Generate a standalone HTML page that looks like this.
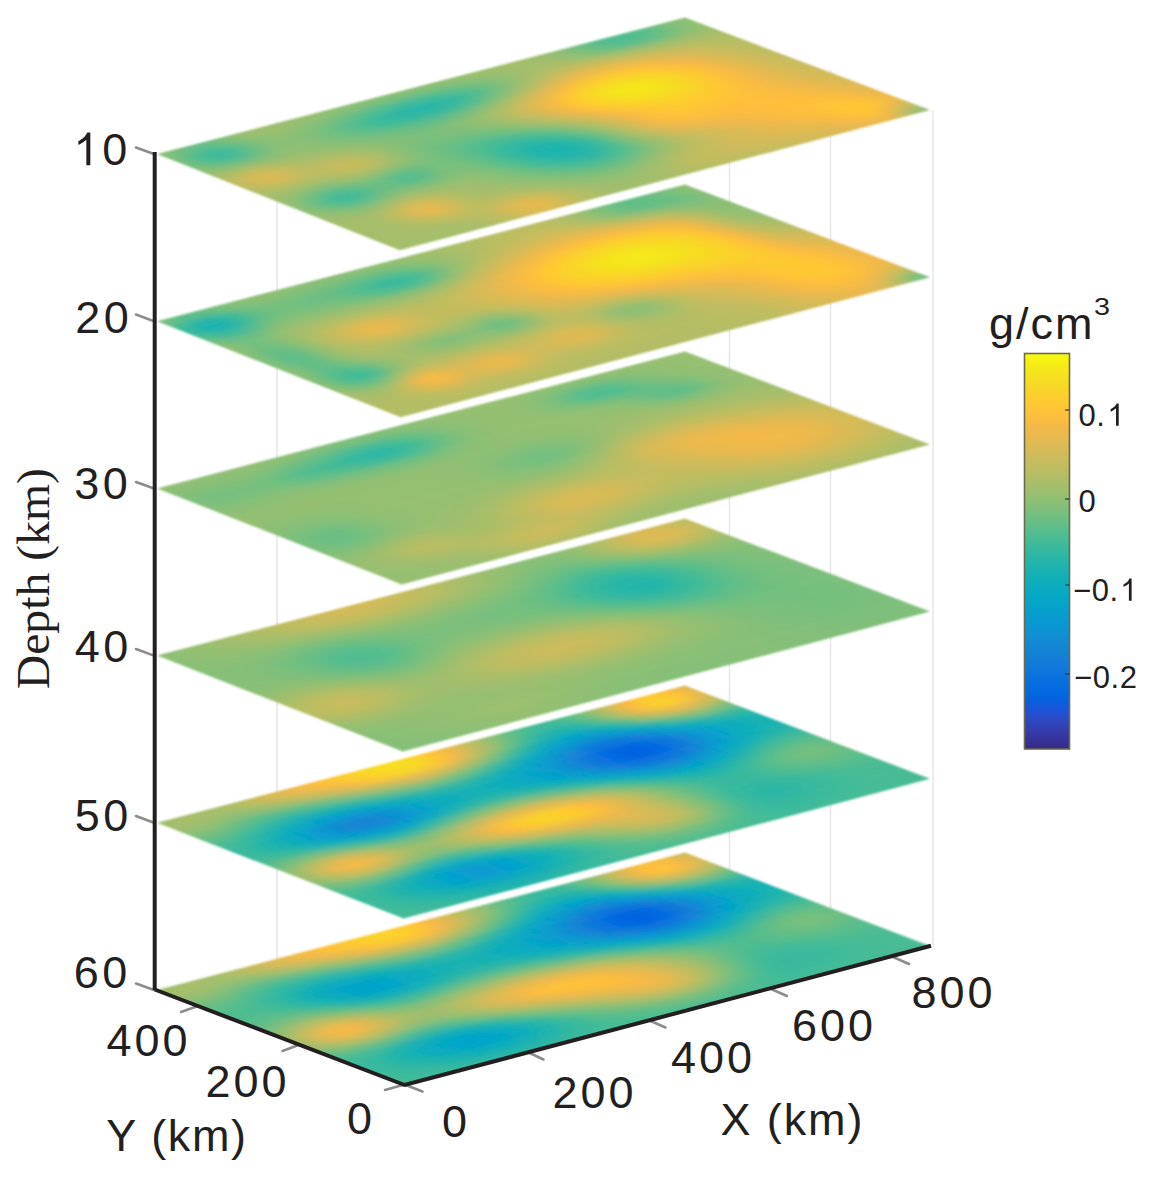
<!DOCTYPE html>
<html><head><meta charset="utf-8">
<style>
html,body{margin:0;padding:0;background:#fff;}
body{width:1149px;height:1177px;overflow:hidden;}
svg{display:block;}
.t{font-family:"Liberation Sans",sans-serif;fill:#231f20;}
.s{font-family:"Liberation Serif",serif;fill:#231f20;}
</style></head><body>
<svg width="1149" height="1177" viewBox="0 0 1149 1177">
<defs>
<filter id="eb" x="-2%" y="-5%" width="104%" height="110%"><feGaussianBlur stdDeviation="1.0"/></filter>
<filter id="vb" x="-5%" y="-5%" width="110%" height="110%"><feGaussianBlur stdDeviation="1.5 5"/></filter>
<linearGradient id="cb" x1="0" x2="0" y1="0" y2="1"><stop offset="0.000" stop-color="#f9fb0e"/><stop offset="0.025" stop-color="#f5ee16"/><stop offset="0.050" stop-color="#f5e31e"/><stop offset="0.075" stop-color="#f7da24"/><stop offset="0.100" stop-color="#fad12b"/><stop offset="0.125" stop-color="#fec932"/><stop offset="0.150" stop-color="#fec13a"/><stop offset="0.175" stop-color="#f8ba44"/><stop offset="0.200" stop-color="#ecb94c"/><stop offset="0.225" stop-color="#e0ba53"/><stop offset="0.250" stop-color="#d3bb58"/><stop offset="0.275" stop-color="#c6bc5e"/><stop offset="0.300" stop-color="#b8bd63"/><stop offset="0.325" stop-color="#aabe69"/><stop offset="0.350" stop-color="#9bbf6f"/><stop offset="0.375" stop-color="#8bbf75"/><stop offset="0.400" stop-color="#7abf7c"/><stop offset="0.425" stop-color="#67be85"/><stop offset="0.450" stop-color="#55bd8e"/><stop offset="0.475" stop-color="#43bb97"/><stop offset="0.500" stop-color="#33b8a1"/><stop offset="0.525" stop-color="#24b5aa"/><stop offset="0.550" stop-color="#18b1b2"/><stop offset="0.575" stop-color="#0eaeba"/><stop offset="0.600" stop-color="#07aac1"/><stop offset="0.625" stop-color="#06a6c7"/><stop offset="0.650" stop-color="#06a0cd"/><stop offset="0.675" stop-color="#089ad0"/><stop offset="0.700" stop-color="#0d93d2"/><stop offset="0.725" stop-color="#128bd3"/><stop offset="0.750" stop-color="#1484d4"/><stop offset="0.775" stop-color="#137dd8"/><stop offset="0.800" stop-color="#0f77db"/><stop offset="0.825" stop-color="#0871de"/><stop offset="0.850" stop-color="#036ae1"/><stop offset="0.875" stop-color="#0462e0"/><stop offset="0.900" stop-color="#1b55d7"/><stop offset="0.925" stop-color="#2d49c3"/><stop offset="0.950" stop-color="#353eaf"/><stop offset="0.975" stop-color="#36349b"/><stop offset="1.000" stop-color="#352a87"/></linearGradient>
</defs>
<rect width="1149" height="1177" fill="#fff"/>
<line x1="277" y1="122" x2="277" y2="959" stroke="#e6e6e6" stroke-width="1.5"/><line x1="729.5" y1="38" x2="729.5" y2="870" stroke="#e6e6e6" stroke-width="1.5"/><line x1="830.5" y1="70" x2="830.5" y2="908" stroke="#e6e6e6" stroke-width="1.5"/><line x1="933" y1="110" x2="933" y2="946" stroke="#e6e6e6" stroke-width="1.5"/>
<clipPath id="cs0"><polygon points="399.7,250.2 930.0,110.0 685.0,17.5 157.0,154.0"/></clipPath>
<defs><linearGradient id="s0g0" x1="0" x2="1" y1="0" y2="0"><stop offset=".012" stop-color="#a6be6a"/><stop offset=".037" stop-color="#a6be6a"/><stop offset=".062" stop-color="#a6be6a"/><stop offset=".087" stop-color="#a6be6a"/><stop offset=".112" stop-color="#a6be6a"/><stop offset=".138" stop-color="#a6be6a"/><stop offset=".162" stop-color="#a6be6a"/><stop offset=".188" stop-color="#a8be6a"/><stop offset=".212" stop-color="#adbe68"/><stop offset=".237" stop-color="#b7bd64"/><stop offset=".262" stop-color="#c5bc5e"/><stop offset=".287" stop-color="#d0bb59"/><stop offset=".312" stop-color="#d1bb59"/><stop offset=".337" stop-color="#c6bc5d"/><stop offset=".362" stop-color="#b7bd64"/><stop offset=".388" stop-color="#abbe68"/><stop offset=".413" stop-color="#a5be6b"/><stop offset=".438" stop-color="#a3be6c"/><stop offset=".462" stop-color="#a3be6c"/><stop offset=".487" stop-color="#a4be6b"/><stop offset=".512" stop-color="#a8be6a"/><stop offset=".537" stop-color="#acbe68"/><stop offset=".562" stop-color="#b1bd66"/><stop offset=".588" stop-color="#b5bd64"/><stop offset=".613" stop-color="#b8bd63"/><stop offset=".637" stop-color="#bbbd62"/><stop offset=".662" stop-color="#bdbd61"/><stop offset=".688" stop-color="#bfbc60"/><stop offset=".713" stop-color="#c3bc5f"/><stop offset=".737" stop-color="#c7bc5d"/><stop offset=".762" stop-color="#cbbb5b"/><stop offset=".787" stop-color="#d0bb5a"/><stop offset=".812" stop-color="#d5ba57"/><stop offset=".838" stop-color="#ddba54"/><stop offset=".863" stop-color="#e5b950"/><stop offset=".887" stop-color="#e0ba52"/><stop offset=".912" stop-color="#c3bc5f"/><stop offset=".938" stop-color="#94bf72"/><stop offset=".962" stop-color="#82bf79"/><stop offset=".988" stop-color="#82bf79"/></linearGradient><linearGradient id="s0g1" x1="0" x2="1" y1="0" y2="0"><stop offset=".012" stop-color="#a6be6a"/><stop offset=".037" stop-color="#a6be6a"/><stop offset=".062" stop-color="#a6be6a"/><stop offset=".087" stop-color="#a6be6a"/><stop offset=".112" stop-color="#a6be6a"/><stop offset=".138" stop-color="#a6be6a"/><stop offset=".162" stop-color="#a6be6a"/><stop offset=".188" stop-color="#a8be6a"/><stop offset=".212" stop-color="#adbe68"/><stop offset=".237" stop-color="#b7bd64"/><stop offset=".262" stop-color="#c5bc5e"/><stop offset=".287" stop-color="#d0bb59"/><stop offset=".312" stop-color="#d1bb59"/><stop offset=".337" stop-color="#c6bc5d"/><stop offset=".362" stop-color="#b7bd64"/><stop offset=".388" stop-color="#abbe68"/><stop offset=".413" stop-color="#a5be6b"/><stop offset=".438" stop-color="#a3be6c"/><stop offset=".462" stop-color="#a3be6c"/><stop offset=".487" stop-color="#a4be6b"/><stop offset=".512" stop-color="#a8be6a"/><stop offset=".537" stop-color="#acbe68"/><stop offset=".562" stop-color="#b1bd66"/><stop offset=".588" stop-color="#b5bd64"/><stop offset=".613" stop-color="#b8bd63"/><stop offset=".637" stop-color="#bbbd62"/><stop offset=".662" stop-color="#bdbd61"/><stop offset=".688" stop-color="#bfbc60"/><stop offset=".713" stop-color="#c3bc5f"/><stop offset=".737" stop-color="#c7bc5d"/><stop offset=".762" stop-color="#cbbb5b"/><stop offset=".787" stop-color="#d0bb5a"/><stop offset=".812" stop-color="#d5ba57"/><stop offset=".838" stop-color="#ddba54"/><stop offset=".863" stop-color="#e5b950"/><stop offset=".887" stop-color="#e0ba52"/><stop offset=".912" stop-color="#c3bc5f"/><stop offset=".938" stop-color="#94bf72"/><stop offset=".962" stop-color="#82bf79"/><stop offset=".988" stop-color="#82bf79"/></linearGradient><linearGradient id="s0g2" x1="0" x2="1" y1="0" y2="0"><stop offset=".012" stop-color="#a6be6a"/><stop offset=".037" stop-color="#a6be6a"/><stop offset=".062" stop-color="#a6be6a"/><stop offset=".087" stop-color="#a6be6a"/><stop offset=".112" stop-color="#a6be6a"/><stop offset=".138" stop-color="#a6be6a"/><stop offset=".162" stop-color="#a7be6a"/><stop offset=".188" stop-color="#a9be69"/><stop offset=".212" stop-color="#b0bd67"/><stop offset=".237" stop-color="#bebc61"/><stop offset=".262" stop-color="#d1bb59"/><stop offset=".287" stop-color="#e1b952"/><stop offset=".312" stop-color="#e2b951"/><stop offset=".337" stop-color="#d3bb58"/><stop offset=".362" stop-color="#bebc61"/><stop offset=".388" stop-color="#aebe67"/><stop offset=".413" stop-color="#a4be6b"/><stop offset=".438" stop-color="#a1be6c"/><stop offset=".462" stop-color="#a1be6c"/><stop offset=".487" stop-color="#a3be6b"/><stop offset=".512" stop-color="#a8be69"/><stop offset=".537" stop-color="#afbe67"/><stop offset=".562" stop-color="#b6bd64"/><stop offset=".588" stop-color="#bbbd62"/><stop offset=".613" stop-color="#bfbc60"/><stop offset=".637" stop-color="#c1bc60"/><stop offset=".662" stop-color="#c3bc5f"/><stop offset=".688" stop-color="#c5bc5e"/><stop offset=".713" stop-color="#c9bc5d"/><stop offset=".737" stop-color="#cdbb5b"/><stop offset=".762" stop-color="#d2bb59"/><stop offset=".787" stop-color="#d7ba57"/><stop offset=".812" stop-color="#ddba54"/><stop offset=".838" stop-color="#e7b94f"/><stop offset=".863" stop-color="#f0b94a"/><stop offset=".887" stop-color="#edb94c"/><stop offset=".912" stop-color="#cdbb5b"/><stop offset=".938" stop-color="#9bbf6f"/><stop offset=".962" stop-color="#87bf77"/><stop offset=".988" stop-color="#87bf77"/></linearGradient><linearGradient id="s0g3" x1="0" x2="1" y1="0" y2="0"><stop offset=".012" stop-color="#a6be6a"/><stop offset=".037" stop-color="#a6be6a"/><stop offset=".062" stop-color="#a6be6a"/><stop offset=".087" stop-color="#a6be6a"/><stop offset=".112" stop-color="#a7be6a"/><stop offset=".138" stop-color="#aabe69"/><stop offset=".162" stop-color="#adbe67"/><stop offset=".188" stop-color="#b1bd66"/><stop offset=".212" stop-color="#b6bd64"/><stop offset=".237" stop-color="#c2bc5f"/><stop offset=".262" stop-color="#d5ba57"/><stop offset=".287" stop-color="#e5b950"/><stop offset=".312" stop-color="#e6b950"/><stop offset=".337" stop-color="#d5ba57"/><stop offset=".362" stop-color="#bdbc61"/><stop offset=".388" stop-color="#aabe69"/><stop offset=".413" stop-color="#9ebe6e"/><stop offset=".438" stop-color="#99bf70"/><stop offset=".462" stop-color="#98bf70"/><stop offset=".487" stop-color="#9bbf6f"/><stop offset=".512" stop-color="#a3be6c"/><stop offset=".537" stop-color="#adbe68"/><stop offset=".562" stop-color="#b8bd63"/><stop offset=".588" stop-color="#c1bc60"/><stop offset=".613" stop-color="#c7bc5d"/><stop offset=".637" stop-color="#cbbb5c"/><stop offset=".662" stop-color="#cdbb5b"/><stop offset=".688" stop-color="#d0bb5a"/><stop offset=".713" stop-color="#d4bb58"/><stop offset=".737" stop-color="#d9ba56"/><stop offset=".762" stop-color="#dfba53"/><stop offset=".787" stop-color="#e5b950"/><stop offset=".812" stop-color="#ecb94c"/><stop offset=".838" stop-color="#f7ba45"/><stop offset=".863" stop-color="#fec03b"/><stop offset=".887" stop-color="#ffc337"/><stop offset=".912" stop-color="#f7ba45"/><stop offset=".938" stop-color="#d6ba57"/><stop offset=".962" stop-color="#c6bc5e"/><stop offset=".988" stop-color="#c6bc5e"/></linearGradient><linearGradient id="s0g4" x1="0" x2="1" y1="0" y2="0"><stop offset=".012" stop-color="#a6be6a"/><stop offset=".037" stop-color="#a6be6a"/><stop offset=".062" stop-color="#a6be6a"/><stop offset=".087" stop-color="#a7be6a"/><stop offset=".112" stop-color="#abbe68"/><stop offset=".138" stop-color="#b6bd64"/><stop offset=".162" stop-color="#c5bc5e"/><stop offset=".188" stop-color="#ccbb5b"/><stop offset=".212" stop-color="#c6bc5e"/><stop offset=".237" stop-color="#bebc61"/><stop offset=".262" stop-color="#bfbc61"/><stop offset=".287" stop-color="#c3bc5f"/><stop offset=".312" stop-color="#c2bc5f"/><stop offset=".337" stop-color="#b8bd63"/><stop offset=".362" stop-color="#a9be69"/><stop offset=".388" stop-color="#9bbf6f"/><stop offset=".413" stop-color="#8fbf74"/><stop offset=".438" stop-color="#87bf77"/><stop offset=".462" stop-color="#83bf79"/><stop offset=".487" stop-color="#85bf78"/><stop offset=".512" stop-color="#8dbf74"/><stop offset=".537" stop-color="#9abf6f"/><stop offset=".562" stop-color="#a9be69"/><stop offset=".588" stop-color="#b6bd64"/><stop offset=".613" stop-color="#c1bc60"/><stop offset=".637" stop-color="#c8bc5d"/><stop offset=".662" stop-color="#cebb5a"/><stop offset=".688" stop-color="#d4bb58"/><stop offset=".713" stop-color="#dbba55"/><stop offset=".737" stop-color="#e2b951"/><stop offset=".762" stop-color="#eab94e"/><stop offset=".787" stop-color="#f1b94a"/><stop offset=".812" stop-color="#f8ba44"/><stop offset=".838" stop-color="#febe3d"/><stop offset=".863" stop-color="#fec535"/><stop offset=".887" stop-color="#fec932"/><stop offset=".912" stop-color="#ffc437"/><stop offset=".938" stop-color="#f4ba48"/><stop offset=".962" stop-color="#e7b94f"/><stop offset=".988" stop-color="#e7b94f"/></linearGradient><linearGradient id="s0g5" x1="0" x2="1" y1="0" y2="0"><stop offset=".012" stop-color="#a6be6a"/><stop offset=".037" stop-color="#a6be6a"/><stop offset=".062" stop-color="#a6be6a"/><stop offset=".087" stop-color="#a8be6a"/><stop offset=".112" stop-color="#afbe67"/><stop offset=".138" stop-color="#c4bc5e"/><stop offset=".162" stop-color="#dfba53"/><stop offset=".188" stop-color="#ebb94d"/><stop offset=".212" stop-color="#dbba55"/><stop offset=".237" stop-color="#c1bc60"/><stop offset=".262" stop-color="#b0bd66"/><stop offset=".287" stop-color="#aabe69"/><stop offset=".312" stop-color="#a6be6a"/><stop offset=".337" stop-color="#9fbe6d"/><stop offset=".362" stop-color="#95bf71"/><stop offset=".388" stop-color="#88bf76"/><stop offset=".413" stop-color="#79bf7d"/><stop offset=".438" stop-color="#6bbf83"/><stop offset=".462" stop-color="#61be87"/><stop offset=".487" stop-color="#5fbe88"/><stop offset=".512" stop-color="#67be85"/><stop offset=".537" stop-color="#77bf7e"/><stop offset=".562" stop-color="#8cbf75"/><stop offset=".588" stop-color="#a0be6d"/><stop offset=".613" stop-color="#b2bd66"/><stop offset=".637" stop-color="#c1bc60"/><stop offset=".662" stop-color="#ccbb5b"/><stop offset=".688" stop-color="#d6ba57"/><stop offset=".713" stop-color="#e0ba52"/><stop offset=".737" stop-color="#e9b94e"/><stop offset=".762" stop-color="#f2b949"/><stop offset=".787" stop-color="#f9bb43"/><stop offset=".812" stop-color="#fdbe3e"/><stop offset=".838" stop-color="#fec13a"/><stop offset=".863" stop-color="#ffc437"/><stop offset=".887" stop-color="#ffc437"/><stop offset=".912" stop-color="#fdbe3d"/><stop offset=".938" stop-color="#efb94b"/><stop offset=".962" stop-color="#e5b950"/><stop offset=".988" stop-color="#e5b950"/></linearGradient><linearGradient id="s0g6" x1="0" x2="1" y1="0" y2="0"><stop offset=".012" stop-color="#a5be6b"/><stop offset=".037" stop-color="#a5be6b"/><stop offset=".062" stop-color="#a5be6b"/><stop offset=".087" stop-color="#a5be6b"/><stop offset=".112" stop-color="#aabe69"/><stop offset=".138" stop-color="#bbbd62"/><stop offset=".162" stop-color="#d3bb58"/><stop offset=".188" stop-color="#deba53"/><stop offset=".212" stop-color="#d1bb59"/><stop offset=".237" stop-color="#babd63"/><stop offset=".262" stop-color="#aabe69"/><stop offset=".287" stop-color="#a2be6c"/><stop offset=".312" stop-color="#9cbf6e"/><stop offset=".337" stop-color="#94bf72"/><stop offset=".362" stop-color="#87bf77"/><stop offset=".388" stop-color="#74bf7f"/><stop offset=".413" stop-color="#5fbe89"/><stop offset=".438" stop-color="#4bbc93"/><stop offset=".462" stop-color="#3eba9a"/><stop offset=".487" stop-color="#3ab99c"/><stop offset=".512" stop-color="#42bb98"/><stop offset=".537" stop-color="#56bd8d"/><stop offset=".562" stop-color="#75bf7f"/><stop offset=".588" stop-color="#94bf72"/><stop offset=".613" stop-color="#afbe67"/><stop offset=".637" stop-color="#c4bc5e"/><stop offset=".662" stop-color="#d4bb58"/><stop offset=".688" stop-color="#e0ba53"/><stop offset=".713" stop-color="#e9b94e"/><stop offset=".737" stop-color="#f1b949"/><stop offset=".762" stop-color="#f8ba44"/><stop offset=".787" stop-color="#fcbd3f"/><stop offset=".812" stop-color="#febf3c"/><stop offset=".838" stop-color="#fec03a"/><stop offset=".863" stop-color="#fec03b"/><stop offset=".887" stop-color="#fcbd3f"/><stop offset=".912" stop-color="#f4ba47"/><stop offset=".938" stop-color="#e5b950"/><stop offset=".962" stop-color="#ddba54"/><stop offset=".988" stop-color="#ddba54"/></linearGradient><linearGradient id="s0g7" x1="0" x2="1" y1="0" y2="0"><stop offset=".012" stop-color="#a1be6c"/><stop offset=".037" stop-color="#a1be6c"/><stop offset=".062" stop-color="#9ebe6e"/><stop offset=".087" stop-color="#97bf70"/><stop offset=".112" stop-color="#92bf73"/><stop offset=".138" stop-color="#97bf71"/><stop offset=".162" stop-color="#a5be6b"/><stop offset=".188" stop-color="#afbe67"/><stop offset=".212" stop-color="#aebe67"/><stop offset=".237" stop-color="#a5be6b"/><stop offset=".262" stop-color="#9fbe6d"/><stop offset=".287" stop-color="#9cbf6f"/><stop offset=".312" stop-color="#96bf71"/><stop offset=".337" stop-color="#8bbf75"/><stop offset=".362" stop-color="#79bf7d"/><stop offset=".388" stop-color="#61be88"/><stop offset=".413" stop-color="#46bb95"/><stop offset=".438" stop-color="#32b8a2"/><stop offset=".462" stop-color="#26b5a9"/><stop offset=".487" stop-color="#24b5aa"/><stop offset=".512" stop-color="#2fb7a3"/><stop offset=".537" stop-color="#49bb94"/><stop offset=".562" stop-color="#72bf80"/><stop offset=".588" stop-color="#9cbf6e"/><stop offset=".613" stop-color="#bebc61"/><stop offset=".637" stop-color="#d7ba56"/><stop offset=".662" stop-color="#e8b94f"/><stop offset=".688" stop-color="#f1b949"/><stop offset=".713" stop-color="#f6ba45"/><stop offset=".737" stop-color="#fabb42"/><stop offset=".762" stop-color="#fcbd3f"/><stop offset=".787" stop-color="#febf3c"/><stop offset=".812" stop-color="#fec03b"/><stop offset=".838" stop-color="#febf3c"/><stop offset=".863" stop-color="#fbbd40"/><stop offset=".887" stop-color="#f5ba46"/><stop offset=".912" stop-color="#ebb94d"/><stop offset=".938" stop-color="#deba54"/><stop offset=".962" stop-color="#d7ba57"/><stop offset=".988" stop-color="#d7ba57"/></linearGradient><linearGradient id="s0g8" x1="0" x2="1" y1="0" y2="0"><stop offset=".012" stop-color="#99bf70"/><stop offset=".037" stop-color="#99bf70"/><stop offset=".062" stop-color="#91bf73"/><stop offset=".087" stop-color="#79bf7d"/><stop offset=".112" stop-color="#62be87"/><stop offset=".138" stop-color="#5dbe8a"/><stop offset=".162" stop-color="#6ebf82"/><stop offset=".188" stop-color="#82bf79"/><stop offset=".212" stop-color="#88bf77"/><stop offset=".237" stop-color="#83bf78"/><stop offset=".262" stop-color="#84bf78"/><stop offset=".287" stop-color="#8abf76"/><stop offset=".312" stop-color="#8cbf75"/><stop offset=".337" stop-color="#82bf79"/><stop offset=".362" stop-color="#6dbf82"/><stop offset=".388" stop-color="#52bd8f"/><stop offset=".413" stop-color="#38b99e"/><stop offset=".438" stop-color="#25b5aa"/><stop offset=".462" stop-color="#1cb3b0"/><stop offset=".487" stop-color="#1db3af"/><stop offset=".512" stop-color="#2cb7a5"/><stop offset=".537" stop-color="#4cbc92"/><stop offset=".562" stop-color="#7dbf7b"/><stop offset=".588" stop-color="#abbe68"/><stop offset=".613" stop-color="#d0bb5a"/><stop offset=".637" stop-color="#eab94d"/><stop offset=".662" stop-color="#f9bb43"/><stop offset=".688" stop-color="#febf3c"/><stop offset=".713" stop-color="#fec03b"/><stop offset=".737" stop-color="#fec03b"/><stop offset=".762" stop-color="#fec03b"/><stop offset=".787" stop-color="#fec03b"/><stop offset=".812" stop-color="#febf3c"/><stop offset=".838" stop-color="#fcbd3f"/><stop offset=".863" stop-color="#f7ba45"/><stop offset=".887" stop-color="#efb94b"/><stop offset=".912" stop-color="#e3b951"/><stop offset=".938" stop-color="#d7ba56"/><stop offset=".962" stop-color="#d1bb59"/><stop offset=".988" stop-color="#d1bb59"/></linearGradient><linearGradient id="s0g9" x1="0" x2="1" y1="0" y2="0"><stop offset=".012" stop-color="#93bf72"/><stop offset=".037" stop-color="#93bf72"/><stop offset=".062" stop-color="#87bf77"/><stop offset=".087" stop-color="#64be86"/><stop offset=".112" stop-color="#42bb98"/><stop offset=".138" stop-color="#3ab99c"/><stop offset=".162" stop-color="#4cbc92"/><stop offset=".188" stop-color="#64be86"/><stop offset=".212" stop-color="#64be86"/><stop offset=".237" stop-color="#56bd8d"/><stop offset=".262" stop-color="#59bd8c"/><stop offset=".287" stop-color="#6fbf81"/><stop offset=".312" stop-color="#7ebf7b"/><stop offset=".337" stop-color="#79bf7d"/><stop offset=".362" stop-color="#65be85"/><stop offset=".388" stop-color="#4cbc93"/><stop offset=".413" stop-color="#34b8a0"/><stop offset=".438" stop-color="#25b5aa"/><stop offset=".462" stop-color="#1fb4ad"/><stop offset=".487" stop-color="#25b5aa"/><stop offset=".512" stop-color="#38b99d"/><stop offset=".537" stop-color="#5ebe89"/><stop offset=".562" stop-color="#8ebf74"/><stop offset=".588" stop-color="#b8bd63"/><stop offset=".613" stop-color="#daba55"/><stop offset=".637" stop-color="#f3ba48"/><stop offset=".662" stop-color="#febf3c"/><stop offset=".688" stop-color="#ffc436"/><stop offset=".713" stop-color="#fec635"/><stop offset=".737" stop-color="#fec535"/><stop offset=".762" stop-color="#ffc436"/><stop offset=".787" stop-color="#ffc238"/><stop offset=".812" stop-color="#febf3c"/><stop offset=".838" stop-color="#fbbc41"/><stop offset=".863" stop-color="#f3ba48"/><stop offset=".887" stop-color="#e9b94e"/><stop offset=".912" stop-color="#ddba54"/><stop offset=".938" stop-color="#d2bb59"/><stop offset=".962" stop-color="#ccbb5b"/><stop offset=".988" stop-color="#ccbb5b"/></linearGradient><linearGradient id="s0g10" x1="0" x2="1" y1="0" y2="0"><stop offset=".012" stop-color="#98bf70"/><stop offset=".037" stop-color="#98bf70"/><stop offset=".062" stop-color="#8fbf74"/><stop offset=".087" stop-color="#75bf7e"/><stop offset=".112" stop-color="#5bbe8a"/><stop offset=".138" stop-color="#55bd8e"/><stop offset=".162" stop-color="#63be86"/><stop offset=".188" stop-color="#73bf7f"/><stop offset=".212" stop-color="#6ebf82"/><stop offset=".237" stop-color="#5cbe8a"/><stop offset=".262" stop-color="#5bbd8b"/><stop offset=".287" stop-color="#6cbf82"/><stop offset=".312" stop-color="#78bf7d"/><stop offset=".337" stop-color="#73bf7f"/><stop offset=".362" stop-color="#62be87"/><stop offset=".388" stop-color="#4ebc91"/><stop offset=".413" stop-color="#3cba9b"/><stop offset=".438" stop-color="#32b8a1"/><stop offset=".462" stop-color="#31b8a2"/><stop offset=".487" stop-color="#3dba9b"/><stop offset=".512" stop-color="#57bd8d"/><stop offset=".537" stop-color="#7dbf7b"/><stop offset=".562" stop-color="#a4be6b"/><stop offset=".588" stop-color="#c7bc5d"/><stop offset=".613" stop-color="#e4b950"/><stop offset=".637" stop-color="#fabb42"/><stop offset=".662" stop-color="#ffc436"/><stop offset=".688" stop-color="#fdca31"/><stop offset=".713" stop-color="#fccd2e"/><stop offset=".737" stop-color="#fccd2f"/><stop offset=".762" stop-color="#fdcb30"/><stop offset=".787" stop-color="#fec734"/><stop offset=".812" stop-color="#fec239"/><stop offset=".838" stop-color="#fabc41"/><stop offset=".863" stop-color="#f1b94a"/><stop offset=".887" stop-color="#e5b950"/><stop offset=".912" stop-color="#d8ba56"/><stop offset=".938" stop-color="#cdbb5b"/><stop offset=".962" stop-color="#c8bc5d"/><stop offset=".988" stop-color="#c8bc5d"/></linearGradient><linearGradient id="s0g11" x1="0" x2="1" y1="0" y2="0"><stop offset=".012" stop-color="#a1be6c"/><stop offset=".037" stop-color="#a1be6c"/><stop offset=".062" stop-color="#9ebe6d"/><stop offset=".087" stop-color="#96bf71"/><stop offset=".112" stop-color="#8ebf74"/><stop offset=".138" stop-color="#8cbf75"/><stop offset=".162" stop-color="#93bf72"/><stop offset=".188" stop-color="#9dbf6e"/><stop offset=".212" stop-color="#9ebe6e"/><stop offset=".237" stop-color="#95bf71"/><stop offset=".262" stop-color="#8bbf75"/><stop offset=".287" stop-color="#84bf78"/><stop offset=".312" stop-color="#7dbf7b"/><stop offset=".337" stop-color="#72bf80"/><stop offset=".362" stop-color="#64be86"/><stop offset=".388" stop-color="#58bd8c"/><stop offset=".413" stop-color="#4ebc91"/><stop offset=".438" stop-color="#4cbc92"/><stop offset=".462" stop-color="#52bd8f"/><stop offset=".487" stop-color="#64be86"/><stop offset=".512" stop-color="#80bf7a"/><stop offset=".537" stop-color="#a0be6d"/><stop offset=".562" stop-color="#c0bc60"/><stop offset=".588" stop-color="#ddba54"/><stop offset=".613" stop-color="#f6ba46"/><stop offset=".637" stop-color="#fec536"/><stop offset=".662" stop-color="#fbcf2d"/><stop offset=".688" stop-color="#f9d528"/><stop offset=".713" stop-color="#f7d826"/><stop offset=".737" stop-color="#f8d726"/><stop offset=".762" stop-color="#f9d329"/><stop offset=".787" stop-color="#fccd2e"/><stop offset=".812" stop-color="#fec535"/><stop offset=".838" stop-color="#fcbd40"/><stop offset=".863" stop-color="#f0b94a"/><stop offset=".887" stop-color="#e2b952"/><stop offset=".912" stop-color="#d5bb58"/><stop offset=".938" stop-color="#c9bc5c"/><stop offset=".962" stop-color="#c4bc5f"/><stop offset=".988" stop-color="#c4bc5f"/></linearGradient><linearGradient id="s0g12" x1="0" x2="1" y1="0" y2="0"><stop offset=".012" stop-color="#aabe69"/><stop offset=".037" stop-color="#aabe69"/><stop offset=".062" stop-color="#adbe68"/><stop offset=".087" stop-color="#b2bd66"/><stop offset=".112" stop-color="#b3bd65"/><stop offset=".138" stop-color="#b0bd66"/><stop offset=".162" stop-color="#b2bd65"/><stop offset=".188" stop-color="#bcbd62"/><stop offset=".212" stop-color="#c4bc5e"/><stop offset=".237" stop-color="#c0bc60"/><stop offset=".262" stop-color="#b0bd66"/><stop offset=".287" stop-color="#9abf6f"/><stop offset=".312" stop-color="#85bf78"/><stop offset=".337" stop-color="#76bf7e"/><stop offset=".362" stop-color="#6dbf82"/><stop offset=".388" stop-color="#68be84"/><stop offset=".413" stop-color="#67be85"/><stop offset=".438" stop-color="#6cbf83"/><stop offset=".462" stop-color="#77bf7d"/><stop offset=".487" stop-color="#8abf75"/><stop offset=".512" stop-color="#a3be6c"/><stop offset=".537" stop-color="#bdbd61"/><stop offset=".562" stop-color="#d8ba56"/><stop offset=".588" stop-color="#f2b949"/><stop offset=".613" stop-color="#ffc437"/><stop offset=".637" stop-color="#fbd12b"/><stop offset=".662" stop-color="#f6db24"/><stop offset=".688" stop-color="#f5e21f"/><stop offset=".713" stop-color="#f5e41d"/><stop offset=".737" stop-color="#f5e11f"/><stop offset=".762" stop-color="#f6db24"/><stop offset=".787" stop-color="#fad22a"/><stop offset=".812" stop-color="#fec833"/><stop offset=".838" stop-color="#fcbd3f"/><stop offset=".863" stop-color="#efb94b"/><stop offset=".887" stop-color="#dfba53"/><stop offset=".912" stop-color="#d1bb59"/><stop offset=".938" stop-color="#c5bc5e"/><stop offset=".962" stop-color="#c0bc60"/><stop offset=".988" stop-color="#c0bc60"/></linearGradient><linearGradient id="s0g13" x1="0" x2="1" y1="0" y2="0"><stop offset=".012" stop-color="#b6bd64"/><stop offset=".037" stop-color="#b6bd64"/><stop offset=".062" stop-color="#bfbc60"/><stop offset=".087" stop-color="#d1bb59"/><stop offset=".112" stop-color="#d5ba57"/><stop offset=".138" stop-color="#c9bc5c"/><stop offset=".162" stop-color="#bfbc61"/><stop offset=".188" stop-color="#c1bc60"/><stop offset=".212" stop-color="#c7bc5d"/><stop offset=".237" stop-color="#c4bc5f"/><stop offset=".262" stop-color="#b4bd65"/><stop offset=".287" stop-color="#9ebe6e"/><stop offset=".312" stop-color="#8abf76"/><stop offset=".337" stop-color="#7ebf7b"/><stop offset=".362" stop-color="#79bf7d"/><stop offset=".388" stop-color="#79bf7d"/><stop offset=".413" stop-color="#7cbf7b"/><stop offset=".438" stop-color="#84bf78"/><stop offset=".462" stop-color="#90bf73"/><stop offset=".487" stop-color="#a1be6c"/><stop offset=".512" stop-color="#b6bd64"/><stop offset=".537" stop-color="#cdbb5b"/><stop offset=".562" stop-color="#e4b950"/><stop offset=".588" stop-color="#fabc42"/><stop offset=".613" stop-color="#fec932"/><stop offset=".637" stop-color="#f9d528"/><stop offset=".662" stop-color="#f5df20"/><stop offset=".688" stop-color="#f5e61c"/><stop offset=".713" stop-color="#f5e81b"/><stop offset=".737" stop-color="#f5e41d"/><stop offset=".762" stop-color="#f6dc23"/><stop offset=".787" stop-color="#fad22b"/><stop offset=".812" stop-color="#fec634"/><stop offset=".838" stop-color="#fabc42"/><stop offset=".863" stop-color="#eab94d"/><stop offset=".887" stop-color="#dbba55"/><stop offset=".912" stop-color="#cdbb5b"/><stop offset=".938" stop-color="#c1bc5f"/><stop offset=".962" stop-color="#bdbd61"/><stop offset=".988" stop-color="#bdbd61"/></linearGradient><linearGradient id="s0g14" x1="0" x2="1" y1="0" y2="0"><stop offset=".012" stop-color="#b9bd63"/><stop offset=".037" stop-color="#b9bd63"/><stop offset=".062" stop-color="#c3bc5f"/><stop offset=".087" stop-color="#d8ba56"/><stop offset=".112" stop-color="#dcba54"/><stop offset=".138" stop-color="#cbbb5c"/><stop offset=".162" stop-color="#b8bd63"/><stop offset=".188" stop-color="#b1bd66"/><stop offset=".212" stop-color="#b0be67"/><stop offset=".237" stop-color="#abbe68"/><stop offset=".262" stop-color="#a1be6c"/><stop offset=".287" stop-color="#94bf72"/><stop offset=".312" stop-color="#89bf76"/><stop offset=".337" stop-color="#81bf79"/><stop offset=".362" stop-color="#7dbf7b"/><stop offset=".388" stop-color="#7dbf7b"/><stop offset=".413" stop-color="#81bf7a"/><stop offset=".438" stop-color="#88bf77"/><stop offset=".462" stop-color="#92bf72"/><stop offset=".487" stop-color="#a1be6c"/><stop offset=".512" stop-color="#b3bd65"/><stop offset=".537" stop-color="#c8bc5d"/><stop offset=".562" stop-color="#ddba54"/><stop offset=".588" stop-color="#f2b949"/><stop offset=".613" stop-color="#fec239"/><stop offset=".637" stop-color="#fccd2e"/><stop offset=".662" stop-color="#f8d627"/><stop offset=".688" stop-color="#f6dc23"/><stop offset=".713" stop-color="#f6dd22"/><stop offset=".737" stop-color="#f7d925"/><stop offset=".762" stop-color="#fad32a"/><stop offset=".787" stop-color="#fdca31"/><stop offset=".812" stop-color="#febf3c"/><stop offset=".838" stop-color="#f2b949"/><stop offset=".863" stop-color="#e2b952"/><stop offset=".887" stop-color="#d3bb58"/><stop offset=".912" stop-color="#c7bc5d"/><stop offset=".938" stop-color="#bdbd61"/><stop offset=".962" stop-color="#b9bd63"/><stop offset=".988" stop-color="#b9bd63"/></linearGradient><linearGradient id="s0g15" x1="0" x2="1" y1="0" y2="0"><stop offset=".012" stop-color="#aabe69"/><stop offset=".037" stop-color="#aabe69"/><stop offset=".062" stop-color="#aebe67"/><stop offset=".087" stop-color="#b5bd64"/><stop offset=".112" stop-color="#b5bd65"/><stop offset=".138" stop-color="#acbe68"/><stop offset=".162" stop-color="#a3be6c"/><stop offset=".188" stop-color="#9fbe6d"/><stop offset=".212" stop-color="#9cbf6e"/><stop offset=".237" stop-color="#97bf70"/><stop offset=".262" stop-color="#8fbf73"/><stop offset=".287" stop-color="#86bf78"/><stop offset=".312" stop-color="#7bbf7c"/><stop offset=".337" stop-color="#72bf80"/><stop offset=".362" stop-color="#6abe83"/><stop offset=".388" stop-color="#65be86"/><stop offset=".413" stop-color="#64be86"/><stop offset=".438" stop-color="#67be85"/><stop offset=".462" stop-color="#70bf80"/><stop offset=".487" stop-color="#7fbf7a"/><stop offset=".512" stop-color="#92bf73"/><stop offset=".537" stop-color="#a7be6a"/><stop offset=".562" stop-color="#bdbd61"/><stop offset=".588" stop-color="#d3bb58"/><stop offset=".613" stop-color="#e7b94f"/><stop offset=".637" stop-color="#f8ba45"/><stop offset=".662" stop-color="#fec13a"/><stop offset=".688" stop-color="#fec734"/><stop offset=".713" stop-color="#fec932"/><stop offset=".737" stop-color="#fec734"/><stop offset=".762" stop-color="#fec239"/><stop offset=".787" stop-color="#fabc41"/><stop offset=".812" stop-color="#efb94b"/><stop offset=".838" stop-color="#e2b952"/><stop offset=".863" stop-color="#d5ba57"/><stop offset=".887" stop-color="#c9bc5c"/><stop offset=".912" stop-color="#bfbc60"/><stop offset=".938" stop-color="#b7bd64"/><stop offset=".962" stop-color="#b4bd65"/><stop offset=".988" stop-color="#b4bd65"/></linearGradient><linearGradient id="s0g16" x1="0" x2="1" y1="0" y2="0"><stop offset=".012" stop-color="#96bf71"/><stop offset=".037" stop-color="#96bf71"/><stop offset=".062" stop-color="#8fbf73"/><stop offset=".087" stop-color="#81bf79"/><stop offset=".112" stop-color="#78bf7d"/><stop offset=".138" stop-color="#7bbf7c"/><stop offset=".162" stop-color="#86bf78"/><stop offset=".188" stop-color="#8ebf74"/><stop offset=".212" stop-color="#90bf73"/><stop offset=".237" stop-color="#8bbf75"/><stop offset=".262" stop-color="#81bf7a"/><stop offset=".287" stop-color="#73bf7f"/><stop offset=".312" stop-color="#64be86"/><stop offset=".337" stop-color="#54bd8e"/><stop offset=".362" stop-color="#46bb96"/><stop offset=".388" stop-color="#3bb99c"/><stop offset=".413" stop-color="#35b8a0"/><stop offset=".438" stop-color="#34b8a0"/><stop offset=".462" stop-color="#38b99e"/><stop offset=".487" stop-color="#43bb97"/><stop offset=".512" stop-color="#56bd8d"/><stop offset=".537" stop-color="#6fbf81"/><stop offset=".562" stop-color="#8abf75"/><stop offset=".588" stop-color="#a4be6b"/><stop offset=".613" stop-color="#bbbd62"/><stop offset=".637" stop-color="#cebb5a"/><stop offset=".662" stop-color="#ddba54"/><stop offset=".688" stop-color="#e6b94f"/><stop offset=".713" stop-color="#ebb94d"/><stop offset=".737" stop-color="#eab94d"/><stop offset=".762" stop-color="#e6b950"/><stop offset=".787" stop-color="#deba53"/><stop offset=".812" stop-color="#d5ba57"/><stop offset=".838" stop-color="#ccbb5b"/><stop offset=".863" stop-color="#c3bc5f"/><stop offset=".887" stop-color="#bbbd62"/><stop offset=".912" stop-color="#b5bd64"/><stop offset=".938" stop-color="#b0bd66"/><stop offset=".962" stop-color="#afbe67"/><stop offset=".988" stop-color="#afbe67"/></linearGradient><linearGradient id="s0g17" x1="0" x2="1" y1="0" y2="0"><stop offset=".012" stop-color="#84bf78"/><stop offset=".037" stop-color="#84bf78"/><stop offset=".062" stop-color="#75bf7f"/><stop offset=".087" stop-color="#53bd8f"/><stop offset=".112" stop-color="#43bb97"/><stop offset=".138" stop-color="#4dbc91"/><stop offset=".162" stop-color="#6abe83"/><stop offset=".188" stop-color="#82bf79"/><stop offset=".212" stop-color="#8bbf75"/><stop offset=".237" stop-color="#87bf77"/><stop offset=".262" stop-color="#7dbf7b"/><stop offset=".287" stop-color="#6ebf82"/><stop offset=".312" stop-color="#5dbe8a"/><stop offset=".337" stop-color="#4bbc93"/><stop offset=".362" stop-color="#3bba9c"/><stop offset=".388" stop-color="#2fb7a3"/><stop offset=".413" stop-color="#28b6a8"/><stop offset=".438" stop-color="#25b5aa"/><stop offset=".462" stop-color="#26b5a9"/><stop offset=".487" stop-color="#2eb7a4"/><stop offset=".512" stop-color="#3bb99c"/><stop offset=".537" stop-color="#4fbc90"/><stop offset=".562" stop-color="#69be84"/><stop offset=".588" stop-color="#83bf79"/><stop offset=".613" stop-color="#9abf6f"/><stop offset=".637" stop-color="#acbe68"/><stop offset=".662" stop-color="#babd63"/><stop offset=".688" stop-color="#c2bc5f"/><stop offset=".713" stop-color="#c4bc5e"/><stop offset=".737" stop-color="#c1bc5f"/><stop offset=".762" stop-color="#babd62"/><stop offset=".787" stop-color="#b1bd66"/><stop offset=".812" stop-color="#a9be69"/><stop offset=".838" stop-color="#a3be6c"/><stop offset=".863" stop-color="#a0be6d"/><stop offset=".887" stop-color="#a0be6d"/><stop offset=".912" stop-color="#a2be6c"/><stop offset=".938" stop-color="#a4be6b"/><stop offset=".962" stop-color="#a5be6b"/><stop offset=".988" stop-color="#a5be6b"/></linearGradient><linearGradient id="s0g18" x1="0" x2="1" y1="0" y2="0"><stop offset=".012" stop-color="#81bf7a"/><stop offset=".037" stop-color="#81bf7a"/><stop offset=".062" stop-color="#6fbf81"/><stop offset=".087" stop-color="#4abc93"/><stop offset=".112" stop-color="#3ab99d"/><stop offset=".138" stop-color="#46bb96"/><stop offset=".162" stop-color="#67be85"/><stop offset=".188" stop-color="#84bf78"/><stop offset=".212" stop-color="#90bf73"/><stop offset=".237" stop-color="#90bf73"/><stop offset=".262" stop-color="#8abf76"/><stop offset=".287" stop-color="#80bf7a"/><stop offset=".312" stop-color="#74bf7f"/><stop offset=".337" stop-color="#68be84"/><stop offset=".362" stop-color="#5bbe8a"/><stop offset=".388" stop-color="#51bd90"/><stop offset=".413" stop-color="#4abc93"/><stop offset=".438" stop-color="#46bb95"/><stop offset=".462" stop-color="#48bb95"/><stop offset=".487" stop-color="#4dbc92"/><stop offset=".512" stop-color="#57bd8c"/><stop offset=".537" stop-color="#66be85"/><stop offset=".562" stop-color="#76bf7e"/><stop offset=".588" stop-color="#87bf77"/><stop offset=".613" stop-color="#95bf71"/><stop offset=".637" stop-color="#a0be6d"/><stop offset=".662" stop-color="#a7be6a"/><stop offset=".688" stop-color="#a8be6a"/><stop offset=".713" stop-color="#a2be6c"/><stop offset=".737" stop-color="#95bf71"/><stop offset=".762" stop-color="#82bf79"/><stop offset=".787" stop-color="#6ebf81"/><stop offset=".812" stop-color="#60be88"/><stop offset=".838" stop-color="#5cbe8a"/><stop offset=".863" stop-color="#64be86"/><stop offset=".887" stop-color="#73bf7f"/><stop offset=".912" stop-color="#84bf78"/><stop offset=".938" stop-color="#92bf72"/><stop offset=".962" stop-color="#97bf70"/><stop offset=".988" stop-color="#97bf70"/></linearGradient><linearGradient id="s0g19" x1="0" x2="1" y1="0" y2="0"><stop offset=".012" stop-color="#8dbf74"/><stop offset=".037" stop-color="#8dbf74"/><stop offset=".062" stop-color="#82bf79"/><stop offset=".087" stop-color="#6abe83"/><stop offset=".112" stop-color="#5ebe89"/><stop offset=".138" stop-color="#68be84"/><stop offset=".162" stop-color="#7fbf7a"/><stop offset=".188" stop-color="#92bf73"/><stop offset=".212" stop-color="#9bbf6f"/><stop offset=".237" stop-color="#9cbf6e"/><stop offset=".262" stop-color="#9abf6f"/><stop offset=".287" stop-color="#96bf71"/><stop offset=".312" stop-color="#92bf73"/><stop offset=".337" stop-color="#8dbf75"/><stop offset=".362" stop-color="#88bf77"/><stop offset=".388" stop-color="#84bf78"/><stop offset=".413" stop-color="#81bf7a"/><stop offset=".438" stop-color="#7fbf7a"/><stop offset=".462" stop-color="#80bf7a"/><stop offset=".487" stop-color="#82bf79"/><stop offset=".512" stop-color="#87bf77"/><stop offset=".537" stop-color="#8cbf75"/><stop offset=".562" stop-color="#93bf72"/><stop offset=".588" stop-color="#99bf70"/><stop offset=".613" stop-color="#9fbe6d"/><stop offset=".637" stop-color="#a2be6c"/><stop offset=".662" stop-color="#a3be6c"/><stop offset=".688" stop-color="#9fbe6d"/><stop offset=".713" stop-color="#95bf71"/><stop offset=".737" stop-color="#84bf78"/><stop offset=".762" stop-color="#6ebf81"/><stop offset=".787" stop-color="#59bd8c"/><stop offset=".812" stop-color="#4cbc92"/><stop offset=".838" stop-color="#4abc93"/><stop offset=".863" stop-color="#55bd8e"/><stop offset=".887" stop-color="#68be84"/><stop offset=".912" stop-color="#7dbf7b"/><stop offset=".938" stop-color="#8ebf74"/><stop offset=".962" stop-color="#94bf72"/><stop offset=".988" stop-color="#94bf72"/></linearGradient><linearGradient id="s0g20" x1="0" x2="1" y1="0" y2="0"><stop offset=".012" stop-color="#95bf71"/><stop offset=".037" stop-color="#95bf71"/><stop offset=".062" stop-color="#8ebf74"/><stop offset=".087" stop-color="#7ebf7a"/><stop offset=".112" stop-color="#77bf7e"/><stop offset=".138" stop-color="#7dbf7b"/><stop offset=".162" stop-color="#8cbf75"/><stop offset=".188" stop-color="#99bf70"/><stop offset=".212" stop-color="#9fbe6d"/><stop offset=".237" stop-color="#a0be6d"/><stop offset=".262" stop-color="#9fbe6d"/><stop offset=".287" stop-color="#9dbe6e"/><stop offset=".312" stop-color="#9bbf6f"/><stop offset=".337" stop-color="#98bf70"/><stop offset=".362" stop-color="#96bf71"/><stop offset=".388" stop-color="#94bf72"/><stop offset=".413" stop-color="#92bf72"/><stop offset=".438" stop-color="#92bf73"/><stop offset=".462" stop-color="#92bf72"/><stop offset=".487" stop-color="#93bf72"/><stop offset=".512" stop-color="#96bf71"/><stop offset=".537" stop-color="#99bf70"/><stop offset=".562" stop-color="#9cbf6e"/><stop offset=".588" stop-color="#a0be6d"/><stop offset=".613" stop-color="#a3be6c"/><stop offset=".637" stop-color="#a5be6b"/><stop offset=".662" stop-color="#a4be6b"/><stop offset=".688" stop-color="#a1be6d"/><stop offset=".713" stop-color="#99bf70"/><stop offset=".737" stop-color="#8cbf75"/><stop offset=".762" stop-color="#7cbf7b"/><stop offset=".787" stop-color="#6cbf82"/><stop offset=".812" stop-color="#62be87"/><stop offset=".838" stop-color="#61be87"/><stop offset=".863" stop-color="#6abe84"/><stop offset=".887" stop-color="#78bf7d"/><stop offset=".912" stop-color="#87bf77"/><stop offset=".938" stop-color="#94bf72"/><stop offset=".962" stop-color="#98bf70"/><stop offset=".988" stop-color="#98bf70"/></linearGradient><linearGradient id="s0g21" x1="0" x2="1" y1="0" y2="0"><stop offset=".012" stop-color="#95bf71"/><stop offset=".037" stop-color="#95bf71"/><stop offset=".062" stop-color="#8ebf74"/><stop offset=".087" stop-color="#7ebf7a"/><stop offset=".112" stop-color="#77bf7e"/><stop offset=".138" stop-color="#7dbf7b"/><stop offset=".162" stop-color="#8cbf75"/><stop offset=".188" stop-color="#99bf70"/><stop offset=".212" stop-color="#9fbe6d"/><stop offset=".237" stop-color="#a0be6d"/><stop offset=".262" stop-color="#9fbe6d"/><stop offset=".287" stop-color="#9dbe6e"/><stop offset=".312" stop-color="#9bbf6f"/><stop offset=".337" stop-color="#98bf70"/><stop offset=".362" stop-color="#96bf71"/><stop offset=".388" stop-color="#94bf72"/><stop offset=".413" stop-color="#92bf72"/><stop offset=".438" stop-color="#92bf73"/><stop offset=".462" stop-color="#92bf72"/><stop offset=".487" stop-color="#93bf72"/><stop offset=".512" stop-color="#96bf71"/><stop offset=".537" stop-color="#99bf70"/><stop offset=".562" stop-color="#9cbf6e"/><stop offset=".588" stop-color="#a0be6d"/><stop offset=".613" stop-color="#a3be6c"/><stop offset=".637" stop-color="#a5be6b"/><stop offset=".662" stop-color="#a4be6b"/><stop offset=".688" stop-color="#a1be6d"/><stop offset=".713" stop-color="#99bf70"/><stop offset=".737" stop-color="#8cbf75"/><stop offset=".762" stop-color="#7cbf7b"/><stop offset=".787" stop-color="#6cbf82"/><stop offset=".812" stop-color="#62be87"/><stop offset=".838" stop-color="#61be87"/><stop offset=".863" stop-color="#6abe84"/><stop offset=".887" stop-color="#78bf7d"/><stop offset=".912" stop-color="#87bf77"/><stop offset=".938" stop-color="#94bf72"/><stop offset=".962" stop-color="#98bf70"/><stop offset=".988" stop-color="#98bf70"/></linearGradient></defs>
<g filter="url(#eb)"><g clip-path="url(#cs0)"><g transform="matrix(0.96209,-0.25155,-0.94883,-0.36712,400.275,249.275)" filter="url(#vb)"><rect x="-30.56" y="-28.56" width="611.11" height="14.88" fill="url(#s0g0)"/><rect x="-30.56" y="-14.28" width="611.11" height="14.88" fill="url(#s0g1)"/><rect x="-30.56" y="0.00" width="611.11" height="14.88" fill="url(#s0g2)"/><rect x="-30.56" y="14.28" width="611.11" height="14.88" fill="url(#s0g3)"/><rect x="-30.56" y="28.56" width="611.11" height="14.88" fill="url(#s0g4)"/><rect x="-30.56" y="42.83" width="611.11" height="14.88" fill="url(#s0g5)"/><rect x="-30.56" y="57.11" width="611.11" height="14.88" fill="url(#s0g6)"/><rect x="-30.56" y="71.39" width="611.11" height="14.88" fill="url(#s0g7)"/><rect x="-30.56" y="85.67" width="611.11" height="14.88" fill="url(#s0g8)"/><rect x="-30.56" y="99.94" width="611.11" height="14.88" fill="url(#s0g9)"/><rect x="-30.56" y="114.22" width="611.11" height="14.88" fill="url(#s0g10)"/><rect x="-30.56" y="128.50" width="611.11" height="14.88" fill="url(#s0g11)"/><rect x="-30.56" y="142.78" width="611.11" height="14.88" fill="url(#s0g12)"/><rect x="-30.56" y="157.06" width="611.11" height="14.88" fill="url(#s0g13)"/><rect x="-30.56" y="171.33" width="611.11" height="14.88" fill="url(#s0g14)"/><rect x="-30.56" y="185.61" width="611.11" height="14.88" fill="url(#s0g15)"/><rect x="-30.56" y="199.89" width="611.11" height="14.88" fill="url(#s0g16)"/><rect x="-30.56" y="214.17" width="611.11" height="14.88" fill="url(#s0g17)"/><rect x="-30.56" y="228.44" width="611.11" height="14.88" fill="url(#s0g18)"/><rect x="-30.56" y="242.72" width="611.11" height="14.88" fill="url(#s0g19)"/><rect x="-30.56" y="257.00" width="611.11" height="14.88" fill="url(#s0g20)"/><rect x="-30.56" y="271.28" width="611.11" height="14.88" fill="url(#s0g21)"/></g></g></g>
<clipPath id="cs1"><polygon points="400.7,417.3 930.0,277.2 685.0,184.5 157.0,321.2"/></clipPath>
<defs><linearGradient id="s1g0" x1="0" x2="1" y1="0" y2="0"><stop offset=".012" stop-color="#b3bd65"/><stop offset=".037" stop-color="#b3bd65"/><stop offset=".062" stop-color="#b3bd65"/><stop offset=".087" stop-color="#b3bd65"/><stop offset=".112" stop-color="#b3bd65"/><stop offset=".138" stop-color="#b3bd65"/><stop offset=".162" stop-color="#b3bd65"/><stop offset=".188" stop-color="#b3bd65"/><stop offset=".212" stop-color="#b3bd65"/><stop offset=".237" stop-color="#b3bd65"/><stop offset=".262" stop-color="#b3bd65"/><stop offset=".287" stop-color="#b4bd65"/><stop offset=".312" stop-color="#b3bd65"/><stop offset=".337" stop-color="#b3bd65"/><stop offset=".362" stop-color="#b3bd65"/><stop offset=".388" stop-color="#b3bd65"/><stop offset=".413" stop-color="#b3bd65"/><stop offset=".438" stop-color="#b3bd65"/><stop offset=".462" stop-color="#b3bd65"/><stop offset=".487" stop-color="#b3bd65"/><stop offset=".512" stop-color="#b3bd65"/><stop offset=".537" stop-color="#b3bd65"/><stop offset=".562" stop-color="#b3bd65"/><stop offset=".588" stop-color="#b4bd65"/><stop offset=".613" stop-color="#b4bd65"/><stop offset=".637" stop-color="#b6bd64"/><stop offset=".662" stop-color="#b8bd63"/><stop offset=".688" stop-color="#bbbd62"/><stop offset=".713" stop-color="#c0bc60"/><stop offset=".737" stop-color="#c7bc5d"/><stop offset=".762" stop-color="#cfbb5a"/><stop offset=".787" stop-color="#d7ba57"/><stop offset=".812" stop-color="#deba54"/><stop offset=".838" stop-color="#e2b952"/><stop offset=".863" stop-color="#dfba53"/><stop offset=".887" stop-color="#cfbb5a"/><stop offset=".912" stop-color="#a8be6a"/><stop offset=".938" stop-color="#79bf7d"/><stop offset=".962" stop-color="#6cbf83"/><stop offset=".988" stop-color="#6cbf83"/></linearGradient><linearGradient id="s1g1" x1="0" x2="1" y1="0" y2="0"><stop offset=".012" stop-color="#b3bd65"/><stop offset=".037" stop-color="#b3bd65"/><stop offset=".062" stop-color="#b3bd65"/><stop offset=".087" stop-color="#b3bd65"/><stop offset=".112" stop-color="#b3bd65"/><stop offset=".138" stop-color="#b3bd65"/><stop offset=".162" stop-color="#b3bd65"/><stop offset=".188" stop-color="#b3bd65"/><stop offset=".212" stop-color="#b3bd65"/><stop offset=".237" stop-color="#b3bd65"/><stop offset=".262" stop-color="#b3bd65"/><stop offset=".287" stop-color="#b4bd65"/><stop offset=".312" stop-color="#b3bd65"/><stop offset=".337" stop-color="#b3bd65"/><stop offset=".362" stop-color="#b3bd65"/><stop offset=".388" stop-color="#b3bd65"/><stop offset=".413" stop-color="#b3bd65"/><stop offset=".438" stop-color="#b3bd65"/><stop offset=".462" stop-color="#b3bd65"/><stop offset=".487" stop-color="#b3bd65"/><stop offset=".512" stop-color="#b3bd65"/><stop offset=".537" stop-color="#b3bd65"/><stop offset=".562" stop-color="#b3bd65"/><stop offset=".588" stop-color="#b4bd65"/><stop offset=".613" stop-color="#b4bd65"/><stop offset=".637" stop-color="#b6bd64"/><stop offset=".662" stop-color="#b8bd63"/><stop offset=".688" stop-color="#bbbd62"/><stop offset=".713" stop-color="#c0bc60"/><stop offset=".737" stop-color="#c7bc5d"/><stop offset=".762" stop-color="#cfbb5a"/><stop offset=".787" stop-color="#d7ba57"/><stop offset=".812" stop-color="#deba54"/><stop offset=".838" stop-color="#e2b952"/><stop offset=".863" stop-color="#dfba53"/><stop offset=".887" stop-color="#cfbb5a"/><stop offset=".912" stop-color="#a8be6a"/><stop offset=".938" stop-color="#79bf7d"/><stop offset=".962" stop-color="#6cbf83"/><stop offset=".988" stop-color="#6cbf83"/></linearGradient><linearGradient id="s1g2" x1="0" x2="1" y1="0" y2="0"><stop offset=".012" stop-color="#b3bd65"/><stop offset=".037" stop-color="#b3bd65"/><stop offset=".062" stop-color="#b3bd65"/><stop offset=".087" stop-color="#b3bd65"/><stop offset=".112" stop-color="#b3bd65"/><stop offset=".138" stop-color="#b4bd65"/><stop offset=".162" stop-color="#b5bd64"/><stop offset=".188" stop-color="#b5bd64"/><stop offset=".212" stop-color="#b5bd65"/><stop offset=".237" stop-color="#b5bd65"/><stop offset=".262" stop-color="#b5bd64"/><stop offset=".287" stop-color="#b5bd64"/><stop offset=".312" stop-color="#b5bd64"/><stop offset=".337" stop-color="#b4bd65"/><stop offset=".362" stop-color="#b4bd65"/><stop offset=".388" stop-color="#b3bd65"/><stop offset=".413" stop-color="#b3bd65"/><stop offset=".438" stop-color="#b3bd65"/><stop offset=".462" stop-color="#b3bd65"/><stop offset=".487" stop-color="#b3bd65"/><stop offset=".512" stop-color="#b3bd65"/><stop offset=".537" stop-color="#b3bd65"/><stop offset=".562" stop-color="#b4bd65"/><stop offset=".588" stop-color="#b4bd65"/><stop offset=".613" stop-color="#b5bd65"/><stop offset=".637" stop-color="#b6bd64"/><stop offset=".662" stop-color="#b9bd63"/><stop offset=".688" stop-color="#bdbd61"/><stop offset=".713" stop-color="#c3bc5f"/><stop offset=".737" stop-color="#cabb5c"/><stop offset=".762" stop-color="#d3bb58"/><stop offset=".787" stop-color="#dcba54"/><stop offset=".812" stop-color="#e4b951"/><stop offset=".838" stop-color="#e9b94e"/><stop offset=".863" stop-color="#e6b950"/><stop offset=".887" stop-color="#d4bb58"/><stop offset=".912" stop-color="#abbe68"/><stop offset=".938" stop-color="#78bf7d"/><stop offset=".962" stop-color="#6abe84"/><stop offset=".988" stop-color="#6abe84"/></linearGradient><linearGradient id="s1g3" x1="0" x2="1" y1="0" y2="0"><stop offset=".012" stop-color="#b3bd65"/><stop offset=".037" stop-color="#b3bd65"/><stop offset=".062" stop-color="#b3bd65"/><stop offset=".087" stop-color="#b3bd65"/><stop offset=".112" stop-color="#b6bd64"/><stop offset=".138" stop-color="#bcbd61"/><stop offset=".162" stop-color="#c3bc5f"/><stop offset=".188" stop-color="#c5bc5e"/><stop offset=".212" stop-color="#c1bc60"/><stop offset=".237" stop-color="#bfbc60"/><stop offset=".262" stop-color="#c1bc60"/><stop offset=".287" stop-color="#c4bc5f"/><stop offset=".312" stop-color="#c2bc5f"/><stop offset=".337" stop-color="#bebc61"/><stop offset=".362" stop-color="#b9bd63"/><stop offset=".388" stop-color="#b7bd64"/><stop offset=".413" stop-color="#b7bd64"/><stop offset=".438" stop-color="#b7bd64"/><stop offset=".462" stop-color="#b7bd64"/><stop offset=".487" stop-color="#b5bd64"/><stop offset=".512" stop-color="#b5bd65"/><stop offset=".537" stop-color="#b4bd65"/><stop offset=".562" stop-color="#b4bd65"/><stop offset=".588" stop-color="#b5bd65"/><stop offset=".613" stop-color="#b6bd64"/><stop offset=".637" stop-color="#b8bd63"/><stop offset=".662" stop-color="#bbbd62"/><stop offset=".688" stop-color="#c0bc60"/><stop offset=".713" stop-color="#c7bc5d"/><stop offset=".737" stop-color="#d1bb59"/><stop offset=".762" stop-color="#dcba54"/><stop offset=".787" stop-color="#e7b94f"/><stop offset=".812" stop-color="#f1b94a"/><stop offset=".838" stop-color="#f6ba46"/><stop offset=".863" stop-color="#f6ba46"/><stop offset=".887" stop-color="#edb94c"/><stop offset=".912" stop-color="#d6ba57"/><stop offset=".938" stop-color="#bcbd62"/><stop offset=".962" stop-color="#b3bd65"/><stop offset=".988" stop-color="#b3bd65"/></linearGradient><linearGradient id="s1g4" x1="0" x2="1" y1="0" y2="0"><stop offset=".012" stop-color="#b1bd66"/><stop offset=".037" stop-color="#b1bd66"/><stop offset=".062" stop-color="#b1bd66"/><stop offset=".087" stop-color="#b1bd66"/><stop offset=".112" stop-color="#babd62"/><stop offset=".138" stop-color="#d0bb5a"/><stop offset=".162" stop-color="#e6b94f"/><stop offset=".188" stop-color="#ebb94d"/><stop offset=".212" stop-color="#deba53"/><stop offset=".237" stop-color="#d6ba57"/><stop offset=".262" stop-color="#dcba54"/><stop offset=".287" stop-color="#e2b952"/><stop offset=".312" stop-color="#deba53"/><stop offset=".337" stop-color="#d2bb59"/><stop offset=".362" stop-color="#c7bc5d"/><stop offset=".388" stop-color="#c3bc5f"/><stop offset=".413" stop-color="#c6bc5e"/><stop offset=".438" stop-color="#c8bc5d"/><stop offset=".462" stop-color="#c5bc5e"/><stop offset=".487" stop-color="#bfbc61"/><stop offset=".512" stop-color="#b9bd63"/><stop offset=".537" stop-color="#b6bd64"/><stop offset=".562" stop-color="#b5bd65"/><stop offset=".588" stop-color="#b5bd64"/><stop offset=".613" stop-color="#b7bd64"/><stop offset=".637" stop-color="#babd62"/><stop offset=".662" stop-color="#bebc61"/><stop offset=".688" stop-color="#c4bc5e"/><stop offset=".713" stop-color="#cdbb5b"/><stop offset=".737" stop-color="#d8ba56"/><stop offset=".762" stop-color="#e4b951"/><stop offset=".787" stop-color="#f1b94a"/><stop offset=".812" stop-color="#fabc42"/><stop offset=".838" stop-color="#febf3c"/><stop offset=".863" stop-color="#fec03a"/><stop offset=".887" stop-color="#fdbe3e"/><stop offset=".912" stop-color="#f4ba47"/><stop offset=".938" stop-color="#e7b94f"/><stop offset=".962" stop-color="#e0ba53"/><stop offset=".988" stop-color="#e0ba53"/></linearGradient><linearGradient id="s1g5" x1="0" x2="1" y1="0" y2="0"><stop offset=".012" stop-color="#abbe68"/><stop offset=".037" stop-color="#abbe68"/><stop offset=".062" stop-color="#a8be6a"/><stop offset=".087" stop-color="#a3be6c"/><stop offset=".112" stop-color="#adbe68"/><stop offset=".138" stop-color="#cdbb5b"/><stop offset=".162" stop-color="#f1b949"/><stop offset=".188" stop-color="#fbbc41"/><stop offset=".212" stop-color="#edb94c"/><stop offset=".237" stop-color="#e0ba52"/><stop offset=".262" stop-color="#e5b950"/><stop offset=".287" stop-color="#edb94c"/><stop offset=".312" stop-color="#e8b94e"/><stop offset=".337" stop-color="#dbba55"/><stop offset=".362" stop-color="#d1bb59"/><stop offset=".388" stop-color="#d2bb58"/><stop offset=".413" stop-color="#dcba54"/><stop offset=".438" stop-color="#e0ba52"/><stop offset=".462" stop-color="#daba55"/><stop offset=".487" stop-color="#ccbb5b"/><stop offset=".512" stop-color="#bdbd61"/><stop offset=".537" stop-color="#b2bd66"/><stop offset=".562" stop-color="#adbe68"/><stop offset=".588" stop-color="#aebe67"/><stop offset=".613" stop-color="#b4bd65"/><stop offset=".637" stop-color="#bbbd62"/><stop offset=".662" stop-color="#c2bc5f"/><stop offset=".688" stop-color="#cabb5c"/><stop offset=".713" stop-color="#d3bb58"/><stop offset=".737" stop-color="#deba53"/><stop offset=".762" stop-color="#ebb94d"/><stop offset=".787" stop-color="#f8ba44"/><stop offset=".812" stop-color="#fec03b"/><stop offset=".838" stop-color="#fec535"/><stop offset=".863" stop-color="#fec635"/><stop offset=".887" stop-color="#ffc338"/><stop offset=".912" stop-color="#fbbd40"/><stop offset=".938" stop-color="#f0b94a"/><stop offset=".962" stop-color="#e9b94e"/><stop offset=".988" stop-color="#e9b94e"/></linearGradient><linearGradient id="s1g6" x1="0" x2="1" y1="0" y2="0"><stop offset=".012" stop-color="#9ebe6e"/><stop offset=".037" stop-color="#9ebe6e"/><stop offset=".062" stop-color="#93bf72"/><stop offset=".087" stop-color="#7bbf7c"/><stop offset=".112" stop-color="#74bf7f"/><stop offset=".138" stop-color="#92bf72"/><stop offset=".162" stop-color="#bbbd62"/><stop offset=".188" stop-color="#d1bb59"/><stop offset=".212" stop-color="#d0bb5a"/><stop offset=".237" stop-color="#cbbb5c"/><stop offset=".262" stop-color="#cebb5b"/><stop offset=".287" stop-color="#d2bb59"/><stop offset=".312" stop-color="#d0bb5a"/><stop offset=".337" stop-color="#cabb5c"/><stop offset=".362" stop-color="#c8bc5d"/><stop offset=".388" stop-color="#cfbb5a"/><stop offset=".413" stop-color="#daba55"/><stop offset=".438" stop-color="#e0ba53"/><stop offset=".462" stop-color="#daba55"/><stop offset=".487" stop-color="#c9bc5c"/><stop offset=".512" stop-color="#b4bd65"/><stop offset=".537" stop-color="#9fbe6d"/><stop offset=".562" stop-color="#93bf72"/><stop offset=".588" stop-color="#97bf71"/><stop offset=".613" stop-color="#a7be6a"/><stop offset=".637" stop-color="#b9bd63"/><stop offset=".662" stop-color="#c7bc5d"/><stop offset=".688" stop-color="#d1bb59"/><stop offset=".713" stop-color="#dbba55"/><stop offset=".737" stop-color="#e6b950"/><stop offset=".762" stop-color="#f2b948"/><stop offset=".787" stop-color="#fcbd3f"/><stop offset=".812" stop-color="#ffc436"/><stop offset=".838" stop-color="#fec832"/><stop offset=".863" stop-color="#fec832"/><stop offset=".887" stop-color="#ffc436"/><stop offset=".912" stop-color="#fcbd3f"/><stop offset=".938" stop-color="#f1b94a"/><stop offset=".962" stop-color="#eab94e"/><stop offset=".988" stop-color="#eab94e"/></linearGradient><linearGradient id="s1g7" x1="0" x2="1" y1="0" y2="0"><stop offset=".012" stop-color="#91bf73"/><stop offset=".037" stop-color="#91bf73"/><stop offset=".062" stop-color="#7ebf7b"/><stop offset=".087" stop-color="#52bd8f"/><stop offset=".112" stop-color="#3dba9b"/><stop offset=".138" stop-color="#4fbc91"/><stop offset=".162" stop-color="#7dbf7b"/><stop offset=".188" stop-color="#a0be6d"/><stop offset=".212" stop-color="#afbe67"/><stop offset=".237" stop-color="#b2bd65"/><stop offset=".262" stop-color="#b2bd66"/><stop offset=".287" stop-color="#b2bd66"/><stop offset=".312" stop-color="#b3bd65"/><stop offset=".337" stop-color="#b3bd65"/><stop offset=".362" stop-color="#b3bd65"/><stop offset=".388" stop-color="#b5bd64"/><stop offset=".413" stop-color="#bcbd62"/><stop offset=".438" stop-color="#c4bc5e"/><stop offset=".462" stop-color="#c6bc5e"/><stop offset=".487" stop-color="#bebc61"/><stop offset=".512" stop-color="#adbe68"/><stop offset=".537" stop-color="#97bf70"/><stop offset=".562" stop-color="#89bf76"/><stop offset=".588" stop-color="#90bf73"/><stop offset=".613" stop-color="#a7be6a"/><stop offset=".637" stop-color="#bfbc60"/><stop offset=".662" stop-color="#d1bb59"/><stop offset=".688" stop-color="#ddba54"/><stop offset=".713" stop-color="#e6b94f"/><stop offset=".737" stop-color="#f0b94a"/><stop offset=".762" stop-color="#fabb42"/><stop offset=".787" stop-color="#fec13a"/><stop offset=".812" stop-color="#fec734"/><stop offset=".838" stop-color="#fec931"/><stop offset=".863" stop-color="#fec833"/><stop offset=".887" stop-color="#ffc338"/><stop offset=".912" stop-color="#fabc42"/><stop offset=".938" stop-color="#edb94c"/><stop offset=".962" stop-color="#e6b94f"/><stop offset=".988" stop-color="#e6b94f"/></linearGradient><linearGradient id="s1g8" x1="0" x2="1" y1="0" y2="0"><stop offset=".012" stop-color="#90bf73"/><stop offset=".037" stop-color="#90bf73"/><stop offset=".062" stop-color="#7dbf7b"/><stop offset=".087" stop-color="#53bd8e"/><stop offset=".112" stop-color="#43bb97"/><stop offset=".138" stop-color="#56bd8d"/><stop offset=".162" stop-color="#7cbf7c"/><stop offset=".188" stop-color="#98bf70"/><stop offset=".212" stop-color="#a3be6c"/><stop offset=".237" stop-color="#9fbe6d"/><stop offset=".262" stop-color="#95bf71"/><stop offset=".287" stop-color="#8dbf74"/><stop offset=".312" stop-color="#8fbf74"/><stop offset=".337" stop-color="#94bf71"/><stop offset=".362" stop-color="#91bf73"/><stop offset=".388" stop-color="#89bf76"/><stop offset=".413" stop-color="#8fbf74"/><stop offset=".438" stop-color="#a6be6b"/><stop offset=".462" stop-color="#b9bd63"/><stop offset=".487" stop-color="#c0bc60"/><stop offset=".512" stop-color="#bdbd61"/><stop offset=".537" stop-color="#b6bd64"/><stop offset=".562" stop-color="#b3bd65"/><stop offset=".588" stop-color="#babd63"/><stop offset=".613" stop-color="#c9bc5c"/><stop offset=".637" stop-color="#d9ba56"/><stop offset=".662" stop-color="#e6b950"/><stop offset=".688" stop-color="#eeb94b"/><stop offset=".713" stop-color="#f6ba46"/><stop offset=".737" stop-color="#fbbd40"/><stop offset=".762" stop-color="#fec13a"/><stop offset=".787" stop-color="#fec634"/><stop offset=".812" stop-color="#fec931"/><stop offset=".838" stop-color="#fdca31"/><stop offset=".863" stop-color="#fec634"/><stop offset=".887" stop-color="#febf3c"/><stop offset=".912" stop-color="#f3ba48"/><stop offset=".938" stop-color="#e6b950"/><stop offset=".962" stop-color="#e0ba53"/><stop offset=".988" stop-color="#e0ba53"/></linearGradient><linearGradient id="s1g9" x1="0" x2="1" y1="0" y2="0"><stop offset=".012" stop-color="#93bf72"/><stop offset=".037" stop-color="#93bf72"/><stop offset=".062" stop-color="#83bf79"/><stop offset=".087" stop-color="#64be86"/><stop offset=".112" stop-color="#61be87"/><stop offset=".138" stop-color="#7bbf7c"/><stop offset=".162" stop-color="#96bf71"/><stop offset=".188" stop-color="#a5be6b"/><stop offset=".212" stop-color="#a6be6a"/><stop offset=".237" stop-color="#9cbf6e"/><stop offset=".262" stop-color="#8cbf75"/><stop offset=".287" stop-color="#81bf79"/><stop offset=".312" stop-color="#83bf79"/><stop offset=".337" stop-color="#87bf77"/><stop offset=".362" stop-color="#7bbf7c"/><stop offset=".388" stop-color="#67be85"/><stop offset=".413" stop-color="#70bf81"/><stop offset=".438" stop-color="#97bf70"/><stop offset=".462" stop-color="#b9bd63"/><stop offset=".487" stop-color="#cbbb5b"/><stop offset=".512" stop-color="#d3bb58"/><stop offset=".537" stop-color="#d8ba56"/><stop offset=".562" stop-color="#ddba54"/><stop offset=".588" stop-color="#e5b950"/><stop offset=".613" stop-color="#eeb94b"/><stop offset=".637" stop-color="#f6ba46"/><stop offset=".662" stop-color="#fcbd3f"/><stop offset=".688" stop-color="#fec03b"/><stop offset=".713" stop-color="#ffc437"/><stop offset=".737" stop-color="#fec733"/><stop offset=".762" stop-color="#fdca31"/><stop offset=".787" stop-color="#fccc2f"/><stop offset=".812" stop-color="#fccd2e"/><stop offset=".838" stop-color="#fdca31"/><stop offset=".863" stop-color="#ffc437"/><stop offset=".887" stop-color="#f9bb43"/><stop offset=".912" stop-color="#e9b94e"/><stop offset=".938" stop-color="#dbba55"/><stop offset=".962" stop-color="#d7ba57"/><stop offset=".988" stop-color="#d7ba57"/></linearGradient><linearGradient id="s1g10" x1="0" x2="1" y1="0" y2="0"><stop offset=".012" stop-color="#92bf73"/><stop offset=".037" stop-color="#92bf73"/><stop offset=".062" stop-color="#81bf7a"/><stop offset=".087" stop-color="#64be86"/><stop offset=".112" stop-color="#6abe84"/><stop offset=".138" stop-color="#8abf76"/><stop offset=".162" stop-color="#a4be6b"/><stop offset=".188" stop-color="#b0be67"/><stop offset=".212" stop-color="#b3bd65"/><stop offset=".237" stop-color="#b1bd66"/><stop offset=".262" stop-color="#adbe68"/><stop offset=".287" stop-color="#a9be69"/><stop offset=".312" stop-color="#a7be6a"/><stop offset=".337" stop-color="#a5be6b"/><stop offset=".362" stop-color="#99bf70"/><stop offset=".388" stop-color="#8cbf75"/><stop offset=".413" stop-color="#92bf72"/><stop offset=".438" stop-color="#adbe68"/><stop offset=".462" stop-color="#c7bc5d"/><stop offset=".487" stop-color="#d8ba56"/><stop offset=".512" stop-color="#e3b951"/><stop offset=".537" stop-color="#ecb94c"/><stop offset=".562" stop-color="#f5ba46"/><stop offset=".588" stop-color="#fcbd3f"/><stop offset=".613" stop-color="#ffc338"/><stop offset=".637" stop-color="#fec833"/><stop offset=".662" stop-color="#fdcc2f"/><stop offset=".688" stop-color="#fbcf2c"/><stop offset=".713" stop-color="#fad22a"/><stop offset=".737" stop-color="#f9d329"/><stop offset=".762" stop-color="#f9d429"/><stop offset=".787" stop-color="#f9d429"/><stop offset=".812" stop-color="#fad12b"/><stop offset=".838" stop-color="#fdcb30"/><stop offset=".863" stop-color="#fec13a"/><stop offset=".887" stop-color="#f0b94a"/><stop offset=".912" stop-color="#dcba54"/><stop offset=".938" stop-color="#cfbb5a"/><stop offset=".962" stop-color="#cbbb5b"/><stop offset=".988" stop-color="#cbbb5b"/></linearGradient><linearGradient id="s1g11" x1="0" x2="1" y1="0" y2="0"><stop offset=".012" stop-color="#8ebf74"/><stop offset=".037" stop-color="#8ebf74"/><stop offset=".062" stop-color="#7bbf7c"/><stop offset=".087" stop-color="#5cbe8a"/><stop offset=".112" stop-color="#65be86"/><stop offset=".138" stop-color="#8bbf75"/><stop offset=".162" stop-color="#a9be69"/><stop offset=".188" stop-color="#b9bd63"/><stop offset=".212" stop-color="#c5bc5e"/><stop offset=".237" stop-color="#cebb5a"/><stop offset=".262" stop-color="#d1bb59"/><stop offset=".287" stop-color="#ccbb5b"/><stop offset=".312" stop-color="#c4bc5f"/><stop offset=".337" stop-color="#bdbd61"/><stop offset=".362" stop-color="#b8bd63"/><stop offset=".388" stop-color="#b6bd64"/><stop offset=".413" stop-color="#bcbd62"/><stop offset=".438" stop-color="#c8bc5d"/><stop offset=".462" stop-color="#d6ba57"/><stop offset=".487" stop-color="#e2b951"/><stop offset=".512" stop-color="#eeb94b"/><stop offset=".537" stop-color="#f9bb43"/><stop offset=".562" stop-color="#fec13a"/><stop offset=".588" stop-color="#fec832"/><stop offset=".613" stop-color="#fbcf2d"/><stop offset=".637" stop-color="#f9d528"/><stop offset=".662" stop-color="#f7da24"/><stop offset=".688" stop-color="#f6dd22"/><stop offset=".713" stop-color="#f5df21"/><stop offset=".737" stop-color="#f5df21"/><stop offset=".762" stop-color="#f6dd22"/><stop offset=".787" stop-color="#f7da24"/><stop offset=".812" stop-color="#f9d528"/><stop offset=".838" stop-color="#fdcb30"/><stop offset=".863" stop-color="#fdbe3e"/><stop offset=".887" stop-color="#e6b950"/><stop offset=".912" stop-color="#cdbb5b"/><stop offset=".938" stop-color="#c0bc60"/><stop offset=".962" stop-color="#bebc61"/><stop offset=".988" stop-color="#bebc61"/></linearGradient><linearGradient id="s1g12" x1="0" x2="1" y1="0" y2="0"><stop offset=".012" stop-color="#8ebf74"/><stop offset=".037" stop-color="#8ebf74"/><stop offset=".062" stop-color="#7cbf7b"/><stop offset=".087" stop-color="#5ebe89"/><stop offset=".112" stop-color="#67be85"/><stop offset=".138" stop-color="#8dbf74"/><stop offset=".162" stop-color="#acbe68"/><stop offset=".188" stop-color="#c2bc5f"/><stop offset=".212" stop-color="#d6ba57"/><stop offset=".237" stop-color="#e7b94f"/><stop offset=".262" stop-color="#edb94c"/><stop offset=".287" stop-color="#e3b951"/><stop offset=".312" stop-color="#d3bb58"/><stop offset=".337" stop-color="#c6bc5d"/><stop offset=".362" stop-color="#c2bc5f"/><stop offset=".388" stop-color="#c4bc5f"/><stop offset=".413" stop-color="#cabb5c"/><stop offset=".438" stop-color="#d2bb58"/><stop offset=".462" stop-color="#ddba54"/><stop offset=".487" stop-color="#e8b94f"/><stop offset=".512" stop-color="#f4ba47"/><stop offset=".537" stop-color="#fdbe3d"/><stop offset=".562" stop-color="#fec734"/><stop offset=".588" stop-color="#fbcf2d"/><stop offset=".613" stop-color="#f8d727"/><stop offset=".637" stop-color="#f6de22"/><stop offset=".662" stop-color="#f5e31e"/><stop offset=".688" stop-color="#f5e71b"/><stop offset=".713" stop-color="#f5e81a"/><stop offset=".737" stop-color="#f5e71b"/><stop offset=".762" stop-color="#f5e31e"/><stop offset=".787" stop-color="#f6dd22"/><stop offset=".812" stop-color="#f8d528"/><stop offset=".838" stop-color="#fdca31"/><stop offset=".863" stop-color="#f9bb44"/><stop offset=".887" stop-color="#daba55"/><stop offset=".912" stop-color="#bebc61"/><stop offset=".938" stop-color="#b1bd66"/><stop offset=".962" stop-color="#b1bd66"/><stop offset=".988" stop-color="#b1bd66"/></linearGradient><linearGradient id="s1g13" x1="0" x2="1" y1="0" y2="0"><stop offset=".012" stop-color="#93bf72"/><stop offset=".037" stop-color="#93bf72"/><stop offset=".062" stop-color="#84bf78"/><stop offset=".087" stop-color="#6abe83"/><stop offset=".112" stop-color="#72bf80"/><stop offset=".138" stop-color="#91bf73"/><stop offset=".162" stop-color="#abbe68"/><stop offset=".188" stop-color="#bebc61"/><stop offset=".212" stop-color="#cfbb5a"/><stop offset=".237" stop-color="#ddba54"/><stop offset=".262" stop-color="#e2b952"/><stop offset=".287" stop-color="#daba55"/><stop offset=".312" stop-color="#cdbb5b"/><stop offset=".337" stop-color="#c3bc5f"/><stop offset=".362" stop-color="#c0bc60"/><stop offset=".388" stop-color="#c3bc5f"/><stop offset=".413" stop-color="#c9bc5c"/><stop offset=".438" stop-color="#d2bb59"/><stop offset=".462" stop-color="#dcba54"/><stop offset=".487" stop-color="#e7b94f"/><stop offset=".512" stop-color="#f4ba48"/><stop offset=".537" stop-color="#fdbe3d"/><stop offset=".562" stop-color="#fec734"/><stop offset=".588" stop-color="#fbd02c"/><stop offset=".613" stop-color="#f8d726"/><stop offset=".637" stop-color="#f5de21"/><stop offset=".662" stop-color="#f5e41d"/><stop offset=".688" stop-color="#f5e71b"/><stop offset=".713" stop-color="#f5e81a"/><stop offset=".737" stop-color="#f5e61c"/><stop offset=".762" stop-color="#f5e11f"/><stop offset=".787" stop-color="#f6db24"/><stop offset=".812" stop-color="#fad22a"/><stop offset=".838" stop-color="#fec635"/><stop offset=".863" stop-color="#f0b94a"/><stop offset=".887" stop-color="#cdbb5b"/><stop offset=".912" stop-color="#aebe67"/><stop offset=".938" stop-color="#a2be6c"/><stop offset=".962" stop-color="#a4be6b"/><stop offset=".988" stop-color="#a4be6b"/></linearGradient><linearGradient id="s1g14" x1="0" x2="1" y1="0" y2="0"><stop offset=".012" stop-color="#95bf71"/><stop offset=".037" stop-color="#95bf71"/><stop offset=".062" stop-color="#89bf76"/><stop offset=".087" stop-color="#76bf7e"/><stop offset=".112" stop-color="#7abf7c"/><stop offset=".138" stop-color="#91bf73"/><stop offset=".162" stop-color="#a3be6c"/><stop offset=".188" stop-color="#aebe67"/><stop offset=".212" stop-color="#b5bd65"/><stop offset=".237" stop-color="#babd62"/><stop offset=".262" stop-color="#bcbd62"/><stop offset=".287" stop-color="#babd63"/><stop offset=".312" stop-color="#b5bd64"/><stop offset=".337" stop-color="#b3bd65"/><stop offset=".362" stop-color="#b3bd65"/><stop offset=".388" stop-color="#b7bd64"/><stop offset=".413" stop-color="#bebc61"/><stop offset=".438" stop-color="#c6bc5d"/><stop offset=".462" stop-color="#d1bb59"/><stop offset=".487" stop-color="#ddba54"/><stop offset=".512" stop-color="#eab94e"/><stop offset=".537" stop-color="#f7ba45"/><stop offset=".562" stop-color="#fec03b"/><stop offset=".588" stop-color="#fec832"/><stop offset=".613" stop-color="#fbd02c"/><stop offset=".637" stop-color="#f8d627"/><stop offset=".662" stop-color="#f6db24"/><stop offset=".688" stop-color="#f6dd22"/><stop offset=".713" stop-color="#f5de21"/><stop offset=".737" stop-color="#f6dc23"/><stop offset=".762" stop-color="#f7d826"/><stop offset=".787" stop-color="#fad22a"/><stop offset=".812" stop-color="#fdca31"/><stop offset=".838" stop-color="#fdbe3e"/><stop offset=".863" stop-color="#e4b950"/><stop offset=".887" stop-color="#c1bc60"/><stop offset=".912" stop-color="#a1be6c"/><stop offset=".938" stop-color="#96bf71"/><stop offset=".962" stop-color="#9abf6f"/><stop offset=".988" stop-color="#9abf6f"/></linearGradient><linearGradient id="s1g15" x1="0" x2="1" y1="0" y2="0"><stop offset=".012" stop-color="#8cbf75"/><stop offset=".037" stop-color="#8cbf75"/><stop offset=".062" stop-color="#7fbf7a"/><stop offset=".087" stop-color="#6cbf83"/><stop offset=".112" stop-color="#6ebf81"/><stop offset=".138" stop-color="#81bf79"/><stop offset=".162" stop-color="#92bf72"/><stop offset=".188" stop-color="#9abf6f"/><stop offset=".212" stop-color="#9cbf6e"/><stop offset=".237" stop-color="#9dbf6e"/><stop offset=".262" stop-color="#9cbf6e"/><stop offset=".287" stop-color="#9bbf6f"/><stop offset=".312" stop-color="#99bf70"/><stop offset=".337" stop-color="#96bf71"/><stop offset=".362" stop-color="#93bf72"/><stop offset=".388" stop-color="#94bf72"/><stop offset=".413" stop-color="#99bf6f"/><stop offset=".438" stop-color="#a5be6b"/><stop offset=".462" stop-color="#b5bd65"/><stop offset=".487" stop-color="#c5bc5e"/><stop offset=".512" stop-color="#d5ba57"/><stop offset=".537" stop-color="#e3b951"/><stop offset=".562" stop-color="#f0b94a"/><stop offset=".588" stop-color="#fabc42"/><stop offset=".613" stop-color="#fec139"/><stop offset=".637" stop-color="#fec733"/><stop offset=".662" stop-color="#fdcb30"/><stop offset=".688" stop-color="#fcce2e"/><stop offset=".713" stop-color="#fcce2d"/><stop offset=".737" stop-color="#fccd2e"/><stop offset=".762" stop-color="#fdca31"/><stop offset=".787" stop-color="#fec536"/><stop offset=".812" stop-color="#fdbe3e"/><stop offset=".838" stop-color="#efb94b"/><stop offset=".863" stop-color="#d5ba57"/><stop offset=".887" stop-color="#b4bd65"/><stop offset=".912" stop-color="#97bf70"/><stop offset=".938" stop-color="#8fbf74"/><stop offset=".962" stop-color="#93bf72"/><stop offset=".988" stop-color="#93bf72"/></linearGradient><linearGradient id="s1g16" x1="0" x2="1" y1="0" y2="0"><stop offset=".012" stop-color="#6ebf82"/><stop offset=".037" stop-color="#6ebf82"/><stop offset=".062" stop-color="#5bbd8b"/><stop offset=".087" stop-color="#41ba99"/><stop offset=".112" stop-color="#42bb98"/><stop offset=".138" stop-color="#5abd8b"/><stop offset=".162" stop-color="#74bf7f"/><stop offset=".188" stop-color="#81bf79"/><stop offset=".212" stop-color="#84bf78"/><stop offset=".237" stop-color="#83bf78"/><stop offset=".262" stop-color="#81bf7a"/><stop offset=".287" stop-color="#7dbf7b"/><stop offset=".312" stop-color="#75bf7e"/><stop offset=".337" stop-color="#69be84"/><stop offset=".362" stop-color="#5abd8b"/><stop offset=".388" stop-color="#50bc90"/><stop offset=".413" stop-color="#53bd8f"/><stop offset=".438" stop-color="#66be85"/><stop offset=".462" stop-color="#84bf78"/><stop offset=".487" stop-color="#a0be6d"/><stop offset=".512" stop-color="#b7bd64"/><stop offset=".537" stop-color="#c8bc5d"/><stop offset=".562" stop-color="#d6ba57"/><stop offset=".588" stop-color="#e1b952"/><stop offset=".613" stop-color="#ebb94d"/><stop offset=".637" stop-color="#f3b948"/><stop offset=".662" stop-color="#f8ba44"/><stop offset=".688" stop-color="#fabc41"/><stop offset=".713" stop-color="#fbbc41"/><stop offset=".737" stop-color="#f9bb43"/><stop offset=".762" stop-color="#f4ba47"/><stop offset=".787" stop-color="#ecb94c"/><stop offset=".812" stop-color="#e2b952"/><stop offset=".838" stop-color="#d3bb58"/><stop offset=".863" stop-color="#bebc61"/><stop offset=".887" stop-color="#a4be6b"/><stop offset=".912" stop-color="#8ebf74"/><stop offset=".938" stop-color="#8bbf75"/><stop offset=".962" stop-color="#90bf73"/><stop offset=".988" stop-color="#90bf73"/></linearGradient><linearGradient id="s1g17" x1="0" x2="1" y1="0" y2="0"><stop offset=".012" stop-color="#4dbc92"/><stop offset=".037" stop-color="#4dbc92"/><stop offset=".062" stop-color="#37b99f"/><stop offset=".087" stop-color="#1cb3b0"/><stop offset=".112" stop-color="#1db3af"/><stop offset=".138" stop-color="#36b99f"/><stop offset=".162" stop-color="#58bd8c"/><stop offset=".188" stop-color="#6dbf82"/><stop offset=".212" stop-color="#73bf7f"/><stop offset=".237" stop-color="#72bf80"/><stop offset=".262" stop-color="#6ebf81"/><stop offset=".287" stop-color="#69be84"/><stop offset=".312" stop-color="#60be88"/><stop offset=".337" stop-color="#51bc90"/><stop offset=".362" stop-color="#40ba99"/><stop offset=".388" stop-color="#35b89f"/><stop offset=".413" stop-color="#36b99f"/><stop offset=".438" stop-color="#47bb95"/><stop offset=".462" stop-color="#66be85"/><stop offset=".487" stop-color="#87bf77"/><stop offset=".512" stop-color="#9fbe6d"/><stop offset=".537" stop-color="#b1bd66"/><stop offset=".562" stop-color="#bebc61"/><stop offset=".588" stop-color="#c8bc5d"/><stop offset=".613" stop-color="#d1bb59"/><stop offset=".637" stop-color="#d8ba56"/><stop offset=".662" stop-color="#ddba54"/><stop offset=".688" stop-color="#dfba53"/><stop offset=".713" stop-color="#deba54"/><stop offset=".737" stop-color="#d7ba56"/><stop offset=".762" stop-color="#ccbb5b"/><stop offset=".787" stop-color="#bfbc61"/><stop offset=".812" stop-color="#b0bd66"/><stop offset=".838" stop-color="#a3be6c"/><stop offset=".863" stop-color="#94bf71"/><stop offset=".887" stop-color="#86bf77"/><stop offset=".912" stop-color="#7ebf7b"/><stop offset=".938" stop-color="#85bf78"/><stop offset=".962" stop-color="#8dbf74"/><stop offset=".988" stop-color="#8dbf74"/></linearGradient><linearGradient id="s1g18" x1="0" x2="1" y1="0" y2="0"><stop offset=".012" stop-color="#50bc90"/><stop offset=".037" stop-color="#50bc90"/><stop offset=".062" stop-color="#3ab99c"/><stop offset=".087" stop-color="#20b4ad"/><stop offset=".112" stop-color="#21b4ac"/><stop offset=".138" stop-color="#3ab99d"/><stop offset=".162" stop-color="#5bbd8a"/><stop offset=".188" stop-color="#70bf81"/><stop offset=".212" stop-color="#76bf7e"/><stop offset=".237" stop-color="#75bf7e"/><stop offset=".262" stop-color="#73bf80"/><stop offset=".287" stop-color="#6fbf81"/><stop offset=".312" stop-color="#6abe83"/><stop offset=".337" stop-color="#64be86"/><stop offset=".362" stop-color="#5dbe8a"/><stop offset=".388" stop-color="#58bd8c"/><stop offset=".413" stop-color="#5cbe8a"/><stop offset=".438" stop-color="#68be84"/><stop offset=".462" stop-color="#7abf7c"/><stop offset=".487" stop-color="#8cbf75"/><stop offset=".512" stop-color="#9bbf6f"/><stop offset=".537" stop-color="#a7be6a"/><stop offset=".562" stop-color="#b1bd66"/><stop offset=".588" stop-color="#b9bd63"/><stop offset=".613" stop-color="#c0bc60"/><stop offset=".637" stop-color="#c5bc5e"/><stop offset=".662" stop-color="#c9bc5d"/><stop offset=".688" stop-color="#c9bc5d"/><stop offset=".713" stop-color="#c3bc5f"/><stop offset=".737" stop-color="#b8bd63"/><stop offset=".762" stop-color="#a5be6b"/><stop offset=".787" stop-color="#8dbf75"/><stop offset=".812" stop-color="#76bf7e"/><stop offset=".838" stop-color="#67be85"/><stop offset=".863" stop-color="#62be87"/><stop offset=".887" stop-color="#65be86"/><stop offset=".912" stop-color="#6fbf81"/><stop offset=".938" stop-color="#82bf79"/><stop offset=".962" stop-color="#8cbf75"/><stop offset=".988" stop-color="#8cbf75"/></linearGradient><linearGradient id="s1g19" x1="0" x2="1" y1="0" y2="0"><stop offset=".012" stop-color="#78bf7d"/><stop offset=".037" stop-color="#78bf7d"/><stop offset=".062" stop-color="#69be84"/><stop offset=".087" stop-color="#53bd8e"/><stop offset=".112" stop-color="#54bd8e"/><stop offset=".138" stop-color="#67be85"/><stop offset=".162" stop-color="#7cbf7c"/><stop offset=".188" stop-color="#87bf77"/><stop offset=".212" stop-color="#8abf76"/><stop offset=".237" stop-color="#8abf76"/><stop offset=".262" stop-color="#88bf76"/><stop offset=".287" stop-color="#87bf77"/><stop offset=".312" stop-color="#86bf77"/><stop offset=".337" stop-color="#85bf78"/><stop offset=".362" stop-color="#85bf78"/><stop offset=".388" stop-color="#86bf77"/><stop offset=".413" stop-color="#89bf76"/><stop offset=".438" stop-color="#8ebf74"/><stop offset=".462" stop-color="#95bf71"/><stop offset=".487" stop-color="#9cbf6e"/><stop offset=".512" stop-color="#a2be6c"/><stop offset=".537" stop-color="#a9be69"/><stop offset=".562" stop-color="#aebe67"/><stop offset=".588" stop-color="#b3bd65"/><stop offset=".613" stop-color="#b8bd63"/><stop offset=".637" stop-color="#bbbd62"/><stop offset=".662" stop-color="#bdbd61"/><stop offset=".688" stop-color="#bcbd62"/><stop offset=".713" stop-color="#b6bd64"/><stop offset=".737" stop-color="#abbe69"/><stop offset=".762" stop-color="#98bf70"/><stop offset=".787" stop-color="#81bf79"/><stop offset=".812" stop-color="#6cbf82"/><stop offset=".838" stop-color="#61be87"/><stop offset=".863" stop-color="#62be87"/><stop offset=".887" stop-color="#6bbe83"/><stop offset=".912" stop-color="#79bf7d"/><stop offset=".938" stop-color="#8bbf75"/><stop offset=".962" stop-color="#94bf71"/><stop offset=".988" stop-color="#94bf71"/></linearGradient><linearGradient id="s1g20" x1="0" x2="1" y1="0" y2="0"><stop offset=".012" stop-color="#8cbf75"/><stop offset=".037" stop-color="#8cbf75"/><stop offset=".062" stop-color="#83bf79"/><stop offset=".087" stop-color="#75bf7e"/><stop offset=".112" stop-color="#75bf7e"/><stop offset=".138" stop-color="#81bf79"/><stop offset=".162" stop-color="#8dbf74"/><stop offset=".188" stop-color="#94bf72"/><stop offset=".212" stop-color="#96bf71"/><stop offset=".237" stop-color="#95bf71"/><stop offset=".262" stop-color="#94bf72"/><stop offset=".287" stop-color="#93bf72"/><stop offset=".312" stop-color="#93bf72"/><stop offset=".337" stop-color="#93bf72"/><stop offset=".362" stop-color="#93bf72"/><stop offset=".388" stop-color="#95bf71"/><stop offset=".413" stop-color="#97bf70"/><stop offset=".438" stop-color="#9abf6f"/><stop offset=".462" stop-color="#9ebe6e"/><stop offset=".487" stop-color="#a3be6c"/><stop offset=".512" stop-color="#a7be6a"/><stop offset=".537" stop-color="#abbe68"/><stop offset=".562" stop-color="#afbe67"/><stop offset=".588" stop-color="#b3bd65"/><stop offset=".613" stop-color="#b6bd64"/><stop offset=".637" stop-color="#b9bd63"/><stop offset=".662" stop-color="#babd62"/><stop offset=".688" stop-color="#b9bd63"/><stop offset=".713" stop-color="#b5bd64"/><stop offset=".737" stop-color="#acbe68"/><stop offset=".762" stop-color="#9ebe6e"/><stop offset=".787" stop-color="#8dbf75"/><stop offset=".812" stop-color="#7ebf7b"/><stop offset=".838" stop-color="#76bf7e"/><stop offset=".863" stop-color="#76bf7e"/><stop offset=".887" stop-color="#7dbf7b"/><stop offset=".912" stop-color="#87bf77"/><stop offset=".938" stop-color="#94bf71"/><stop offset=".962" stop-color="#9bbf6f"/><stop offset=".988" stop-color="#9bbf6f"/></linearGradient><linearGradient id="s1g21" x1="0" x2="1" y1="0" y2="0"><stop offset=".012" stop-color="#8cbf75"/><stop offset=".037" stop-color="#8cbf75"/><stop offset=".062" stop-color="#83bf79"/><stop offset=".087" stop-color="#75bf7e"/><stop offset=".112" stop-color="#75bf7e"/><stop offset=".138" stop-color="#81bf79"/><stop offset=".162" stop-color="#8dbf74"/><stop offset=".188" stop-color="#94bf72"/><stop offset=".212" stop-color="#96bf71"/><stop offset=".237" stop-color="#95bf71"/><stop offset=".262" stop-color="#94bf72"/><stop offset=".287" stop-color="#93bf72"/><stop offset=".312" stop-color="#93bf72"/><stop offset=".337" stop-color="#93bf72"/><stop offset=".362" stop-color="#93bf72"/><stop offset=".388" stop-color="#95bf71"/><stop offset=".413" stop-color="#97bf70"/><stop offset=".438" stop-color="#9abf6f"/><stop offset=".462" stop-color="#9ebe6e"/><stop offset=".487" stop-color="#a3be6c"/><stop offset=".512" stop-color="#a7be6a"/><stop offset=".537" stop-color="#abbe68"/><stop offset=".562" stop-color="#afbe67"/><stop offset=".588" stop-color="#b3bd65"/><stop offset=".613" stop-color="#b6bd64"/><stop offset=".637" stop-color="#b9bd63"/><stop offset=".662" stop-color="#babd62"/><stop offset=".688" stop-color="#b9bd63"/><stop offset=".713" stop-color="#b5bd64"/><stop offset=".737" stop-color="#acbe68"/><stop offset=".762" stop-color="#9ebe6e"/><stop offset=".787" stop-color="#8dbf75"/><stop offset=".812" stop-color="#7ebf7b"/><stop offset=".838" stop-color="#76bf7e"/><stop offset=".863" stop-color="#76bf7e"/><stop offset=".887" stop-color="#7dbf7b"/><stop offset=".912" stop-color="#87bf77"/><stop offset=".938" stop-color="#94bf71"/><stop offset=".962" stop-color="#9bbf6f"/><stop offset=".988" stop-color="#9bbf6f"/></linearGradient></defs>
<g filter="url(#eb)"><g clip-path="url(#cs1)"><g transform="matrix(0.96118,-0.25164,-0.95078,-0.36732,401.025,416.450)" filter="url(#vb)"><rect x="-30.56" y="-28.56" width="611.11" height="14.88" fill="url(#s1g0)"/><rect x="-30.56" y="-14.28" width="611.11" height="14.88" fill="url(#s1g1)"/><rect x="-30.56" y="0.00" width="611.11" height="14.88" fill="url(#s1g2)"/><rect x="-30.56" y="14.28" width="611.11" height="14.88" fill="url(#s1g3)"/><rect x="-30.56" y="28.56" width="611.11" height="14.88" fill="url(#s1g4)"/><rect x="-30.56" y="42.83" width="611.11" height="14.88" fill="url(#s1g5)"/><rect x="-30.56" y="57.11" width="611.11" height="14.88" fill="url(#s1g6)"/><rect x="-30.56" y="71.39" width="611.11" height="14.88" fill="url(#s1g7)"/><rect x="-30.56" y="85.67" width="611.11" height="14.88" fill="url(#s1g8)"/><rect x="-30.56" y="99.94" width="611.11" height="14.88" fill="url(#s1g9)"/><rect x="-30.56" y="114.22" width="611.11" height="14.88" fill="url(#s1g10)"/><rect x="-30.56" y="128.50" width="611.11" height="14.88" fill="url(#s1g11)"/><rect x="-30.56" y="142.78" width="611.11" height="14.88" fill="url(#s1g12)"/><rect x="-30.56" y="157.06" width="611.11" height="14.88" fill="url(#s1g13)"/><rect x="-30.56" y="171.33" width="611.11" height="14.88" fill="url(#s1g14)"/><rect x="-30.56" y="185.61" width="611.11" height="14.88" fill="url(#s1g15)"/><rect x="-30.56" y="199.89" width="611.11" height="14.88" fill="url(#s1g16)"/><rect x="-30.56" y="214.17" width="611.11" height="14.88" fill="url(#s1g17)"/><rect x="-30.56" y="228.44" width="611.11" height="14.88" fill="url(#s1g18)"/><rect x="-30.56" y="242.72" width="611.11" height="14.88" fill="url(#s1g19)"/><rect x="-30.56" y="257.00" width="611.11" height="14.88" fill="url(#s1g20)"/><rect x="-30.56" y="271.28" width="611.11" height="14.88" fill="url(#s1g21)"/></g></g></g>
<clipPath id="cs2"><polygon points="401.7,584.4 930.0,444.4 685.0,351.5 157.0,488.4"/></clipPath>
<defs><linearGradient id="s2g0" x1="0" x2="1" y1="0" y2="0"><stop offset=".012" stop-color="#96bf71"/><stop offset=".037" stop-color="#96bf71"/><stop offset=".062" stop-color="#96bf71"/><stop offset=".087" stop-color="#96bf71"/><stop offset=".112" stop-color="#96bf71"/><stop offset=".138" stop-color="#97bf71"/><stop offset=".162" stop-color="#98bf70"/><stop offset=".188" stop-color="#9abf6f"/><stop offset=".212" stop-color="#9dbe6e"/><stop offset=".237" stop-color="#a1be6c"/><stop offset=".262" stop-color="#a6be6a"/><stop offset=".287" stop-color="#aabe69"/><stop offset=".312" stop-color="#acbe68"/><stop offset=".337" stop-color="#acbe68"/><stop offset=".362" stop-color="#aabe69"/><stop offset=".388" stop-color="#a6be6b"/><stop offset=".413" stop-color="#a2be6c"/><stop offset=".438" stop-color="#9ebe6e"/><stop offset=".462" stop-color="#9cbf6f"/><stop offset=".487" stop-color="#9abf6f"/><stop offset=".512" stop-color="#9abf6f"/><stop offset=".537" stop-color="#9abf6f"/><stop offset=".562" stop-color="#9bbf6f"/><stop offset=".588" stop-color="#9cbf6f"/><stop offset=".613" stop-color="#9dbe6e"/><stop offset=".637" stop-color="#9fbe6d"/><stop offset=".662" stop-color="#a1be6c"/><stop offset=".688" stop-color="#a4be6b"/><stop offset=".713" stop-color="#a6be6b"/><stop offset=".737" stop-color="#a8be6a"/><stop offset=".762" stop-color="#a9be69"/><stop offset=".787" stop-color="#aabe69"/><stop offset=".812" stop-color="#abbe68"/><stop offset=".838" stop-color="#abbe69"/><stop offset=".863" stop-color="#aabe69"/><stop offset=".887" stop-color="#a8be6a"/><stop offset=".912" stop-color="#a6be6a"/><stop offset=".938" stop-color="#a4be6b"/><stop offset=".962" stop-color="#a3be6c"/><stop offset=".988" stop-color="#a3be6c"/></linearGradient><linearGradient id="s2g1" x1="0" x2="1" y1="0" y2="0"><stop offset=".012" stop-color="#96bf71"/><stop offset=".037" stop-color="#96bf71"/><stop offset=".062" stop-color="#96bf71"/><stop offset=".087" stop-color="#96bf71"/><stop offset=".112" stop-color="#96bf71"/><stop offset=".138" stop-color="#97bf71"/><stop offset=".162" stop-color="#98bf70"/><stop offset=".188" stop-color="#9abf6f"/><stop offset=".212" stop-color="#9dbe6e"/><stop offset=".237" stop-color="#a1be6c"/><stop offset=".262" stop-color="#a6be6a"/><stop offset=".287" stop-color="#aabe69"/><stop offset=".312" stop-color="#acbe68"/><stop offset=".337" stop-color="#acbe68"/><stop offset=".362" stop-color="#aabe69"/><stop offset=".388" stop-color="#a6be6b"/><stop offset=".413" stop-color="#a2be6c"/><stop offset=".438" stop-color="#9ebe6e"/><stop offset=".462" stop-color="#9cbf6f"/><stop offset=".487" stop-color="#9abf6f"/><stop offset=".512" stop-color="#9abf6f"/><stop offset=".537" stop-color="#9abf6f"/><stop offset=".562" stop-color="#9bbf6f"/><stop offset=".588" stop-color="#9cbf6f"/><stop offset=".613" stop-color="#9dbe6e"/><stop offset=".637" stop-color="#9fbe6d"/><stop offset=".662" stop-color="#a1be6c"/><stop offset=".688" stop-color="#a4be6b"/><stop offset=".713" stop-color="#a6be6b"/><stop offset=".737" stop-color="#a8be6a"/><stop offset=".762" stop-color="#a9be69"/><stop offset=".787" stop-color="#aabe69"/><stop offset=".812" stop-color="#abbe68"/><stop offset=".838" stop-color="#abbe69"/><stop offset=".863" stop-color="#aabe69"/><stop offset=".887" stop-color="#a8be6a"/><stop offset=".912" stop-color="#a6be6a"/><stop offset=".938" stop-color="#a4be6b"/><stop offset=".962" stop-color="#a3be6c"/><stop offset=".988" stop-color="#a3be6c"/></linearGradient><linearGradient id="s2g2" x1="0" x2="1" y1="0" y2="0"><stop offset=".012" stop-color="#96bf71"/><stop offset=".037" stop-color="#96bf71"/><stop offset=".062" stop-color="#96bf71"/><stop offset=".087" stop-color="#96bf71"/><stop offset=".112" stop-color="#97bf71"/><stop offset=".138" stop-color="#98bf70"/><stop offset=".162" stop-color="#9abf6f"/><stop offset=".188" stop-color="#9dbe6e"/><stop offset=".212" stop-color="#a2be6c"/><stop offset=".237" stop-color="#a9be69"/><stop offset=".262" stop-color="#b1bd66"/><stop offset=".287" stop-color="#b7bd64"/><stop offset=".312" stop-color="#bbbd62"/><stop offset=".337" stop-color="#babd62"/><stop offset=".362" stop-color="#b7bd64"/><stop offset=".388" stop-color="#b1bd66"/><stop offset=".413" stop-color="#aabe69"/><stop offset=".438" stop-color="#a5be6b"/><stop offset=".462" stop-color="#a1be6d"/><stop offset=".487" stop-color="#9ebe6e"/><stop offset=".512" stop-color="#9dbf6e"/><stop offset=".537" stop-color="#9dbf6e"/><stop offset=".562" stop-color="#9dbe6e"/><stop offset=".588" stop-color="#9ebe6e"/><stop offset=".613" stop-color="#a0be6d"/><stop offset=".637" stop-color="#a2be6c"/><stop offset=".662" stop-color="#a5be6b"/><stop offset=".688" stop-color="#a8be6a"/><stop offset=".713" stop-color="#abbe69"/><stop offset=".737" stop-color="#adbe68"/><stop offset=".762" stop-color="#afbe67"/><stop offset=".787" stop-color="#b1bd66"/><stop offset=".812" stop-color="#b1bd66"/><stop offset=".838" stop-color="#b1bd66"/><stop offset=".863" stop-color="#b0bd67"/><stop offset=".887" stop-color="#aebe67"/><stop offset=".912" stop-color="#abbe68"/><stop offset=".938" stop-color="#a8be6a"/><stop offset=".962" stop-color="#a7be6a"/><stop offset=".988" stop-color="#a7be6a"/></linearGradient><linearGradient id="s2g3" x1="0" x2="1" y1="0" y2="0"><stop offset=".012" stop-color="#96bf71"/><stop offset=".037" stop-color="#96bf71"/><stop offset=".062" stop-color="#96bf71"/><stop offset=".087" stop-color="#98bf70"/><stop offset=".112" stop-color="#9abf6f"/><stop offset=".138" stop-color="#9dbe6e"/><stop offset=".162" stop-color="#a1be6d"/><stop offset=".188" stop-color="#a5be6b"/><stop offset=".212" stop-color="#acbe68"/><stop offset=".237" stop-color="#b4bd65"/><stop offset=".262" stop-color="#bebc61"/><stop offset=".287" stop-color="#c7bc5d"/><stop offset=".312" stop-color="#cdbb5b"/><stop offset=".337" stop-color="#cebb5b"/><stop offset=".362" stop-color="#cabb5c"/><stop offset=".388" stop-color="#c3bc5f"/><stop offset=".413" stop-color="#bbbd62"/><stop offset=".438" stop-color="#b4bd65"/><stop offset=".462" stop-color="#afbe67"/><stop offset=".487" stop-color="#abbe69"/><stop offset=".512" stop-color="#a8be6a"/><stop offset=".537" stop-color="#a6be6a"/><stop offset=".562" stop-color="#a6be6b"/><stop offset=".588" stop-color="#a6be6a"/><stop offset=".613" stop-color="#a8be6a"/><stop offset=".637" stop-color="#abbe69"/><stop offset=".662" stop-color="#aebe67"/><stop offset=".688" stop-color="#b2bd65"/><stop offset=".713" stop-color="#b7bd64"/><stop offset=".737" stop-color="#bbbd62"/><stop offset=".762" stop-color="#bebc61"/><stop offset=".787" stop-color="#c0bc60"/><stop offset=".812" stop-color="#c1bc60"/><stop offset=".838" stop-color="#c0bc60"/><stop offset=".863" stop-color="#bebc61"/><stop offset=".887" stop-color="#bbbd62"/><stop offset=".912" stop-color="#b7bd64"/><stop offset=".938" stop-color="#b3bd65"/><stop offset=".962" stop-color="#b1bd66"/><stop offset=".988" stop-color="#b1bd66"/></linearGradient><linearGradient id="s2g4" x1="0" x2="1" y1="0" y2="0"><stop offset=".012" stop-color="#97bf70"/><stop offset=".037" stop-color="#97bf70"/><stop offset=".062" stop-color="#98bf70"/><stop offset=".087" stop-color="#9dbf6e"/><stop offset=".112" stop-color="#a3be6b"/><stop offset=".138" stop-color="#abbe69"/><stop offset=".162" stop-color="#b0bd67"/><stop offset=".188" stop-color="#b2bd66"/><stop offset=".212" stop-color="#b2bd66"/><stop offset=".237" stop-color="#b3bd65"/><stop offset=".262" stop-color="#b6bd64"/><stop offset=".287" stop-color="#bbbd62"/><stop offset=".312" stop-color="#c1bc60"/><stop offset=".337" stop-color="#c5bc5e"/><stop offset=".362" stop-color="#c7bc5d"/><stop offset=".388" stop-color="#c7bc5d"/><stop offset=".413" stop-color="#c6bc5e"/><stop offset=".438" stop-color="#c4bc5e"/><stop offset=".462" stop-color="#c2bc5f"/><stop offset=".487" stop-color="#bfbc61"/><stop offset=".512" stop-color="#bbbd62"/><stop offset=".537" stop-color="#b7bd64"/><stop offset=".562" stop-color="#b4bd65"/><stop offset=".588" stop-color="#b2bd66"/><stop offset=".613" stop-color="#b3bd65"/><stop offset=".637" stop-color="#b5bd64"/><stop offset=".662" stop-color="#b9bd63"/><stop offset=".688" stop-color="#bfbc61"/><stop offset=".713" stop-color="#c4bc5e"/><stop offset=".737" stop-color="#cabb5c"/><stop offset=".762" stop-color="#cebb5a"/><stop offset=".787" stop-color="#d1bb59"/><stop offset=".812" stop-color="#d2bb59"/><stop offset=".838" stop-color="#d1bb59"/><stop offset=".863" stop-color="#cfbb5a"/><stop offset=".887" stop-color="#cabb5c"/><stop offset=".912" stop-color="#c5bc5e"/><stop offset=".938" stop-color="#bfbc61"/><stop offset=".962" stop-color="#bcbd62"/><stop offset=".988" stop-color="#bcbd62"/></linearGradient><linearGradient id="s2g5" x1="0" x2="1" y1="0" y2="0"><stop offset=".012" stop-color="#96bf71"/><stop offset=".037" stop-color="#96bf71"/><stop offset=".062" stop-color="#98bf70"/><stop offset=".087" stop-color="#9fbe6d"/><stop offset=".112" stop-color="#a9be69"/><stop offset=".138" stop-color="#b4bd65"/><stop offset=".162" stop-color="#bbbd62"/><stop offset=".188" stop-color="#bbbd62"/><stop offset=".212" stop-color="#b5bd64"/><stop offset=".237" stop-color="#aebe67"/><stop offset=".262" stop-color="#abbe68"/><stop offset=".287" stop-color="#acbe68"/><stop offset=".312" stop-color="#b2bd66"/><stop offset=".337" stop-color="#b9bd63"/><stop offset=".362" stop-color="#c2bc5f"/><stop offset=".388" stop-color="#cabb5c"/><stop offset=".413" stop-color="#d1bb59"/><stop offset=".438" stop-color="#d5ba57"/><stop offset=".462" stop-color="#d6ba57"/><stop offset=".487" stop-color="#d3bb58"/><stop offset=".512" stop-color="#cebb5a"/><stop offset=".537" stop-color="#c8bc5d"/><stop offset=".562" stop-color="#c2bc5f"/><stop offset=".588" stop-color="#bebc61"/><stop offset=".613" stop-color="#bebc61"/><stop offset=".637" stop-color="#c0bc60"/><stop offset=".662" stop-color="#c4bc5e"/><stop offset=".688" stop-color="#cbbb5c"/><stop offset=".713" stop-color="#d1bb59"/><stop offset=".737" stop-color="#d8ba56"/><stop offset=".762" stop-color="#ddba54"/><stop offset=".787" stop-color="#e1ba52"/><stop offset=".812" stop-color="#e2b951"/><stop offset=".838" stop-color="#e1b952"/><stop offset=".863" stop-color="#deba53"/><stop offset=".887" stop-color="#d9ba56"/><stop offset=".912" stop-color="#d2bb59"/><stop offset=".938" stop-color="#cabb5c"/><stop offset=".962" stop-color="#c6bc5e"/><stop offset=".988" stop-color="#c6bc5e"/></linearGradient><linearGradient id="s2g6" x1="0" x2="1" y1="0" y2="0"><stop offset=".012" stop-color="#90bf73"/><stop offset=".037" stop-color="#90bf73"/><stop offset=".062" stop-color="#90bf73"/><stop offset=".087" stop-color="#93bf72"/><stop offset=".112" stop-color="#9abf6f"/><stop offset=".138" stop-color="#a4be6b"/><stop offset=".162" stop-color="#abbe68"/><stop offset=".188" stop-color="#adbe68"/><stop offset=".212" stop-color="#aabe69"/><stop offset=".237" stop-color="#a6be6a"/><stop offset=".262" stop-color="#a4be6b"/><stop offset=".287" stop-color="#a6be6a"/><stop offset=".312" stop-color="#acbe68"/><stop offset=".337" stop-color="#b6bd64"/><stop offset=".362" stop-color="#c1bc60"/><stop offset=".388" stop-color="#cbbb5b"/><stop offset=".413" stop-color="#d5bb58"/><stop offset=".438" stop-color="#dbba55"/><stop offset=".462" stop-color="#ddba54"/><stop offset=".487" stop-color="#daba55"/><stop offset=".512" stop-color="#d5ba57"/><stop offset=".537" stop-color="#cfbb5a"/><stop offset=".562" stop-color="#c9bc5d"/><stop offset=".588" stop-color="#c5bc5e"/><stop offset=".613" stop-color="#c4bc5e"/><stop offset=".637" stop-color="#c7bc5d"/><stop offset=".662" stop-color="#ccbb5b"/><stop offset=".688" stop-color="#d4bb58"/><stop offset=".713" stop-color="#dbba55"/><stop offset=".737" stop-color="#e3b951"/><stop offset=".762" stop-color="#e9b94e"/><stop offset=".787" stop-color="#edb94c"/><stop offset=".812" stop-color="#eeb94b"/><stop offset=".838" stop-color="#edb94c"/><stop offset=".863" stop-color="#e9b94e"/><stop offset=".887" stop-color="#e3b951"/><stop offset=".912" stop-color="#dbba55"/><stop offset=".938" stop-color="#d2bb59"/><stop offset=".962" stop-color="#cdbb5b"/><stop offset=".988" stop-color="#cdbb5b"/></linearGradient><linearGradient id="s2g7" x1="0" x2="1" y1="0" y2="0"><stop offset=".012" stop-color="#85bf78"/><stop offset=".037" stop-color="#85bf78"/><stop offset=".062" stop-color="#82bf79"/><stop offset=".087" stop-color="#7dbf7b"/><stop offset=".112" stop-color="#7fbf7a"/><stop offset=".138" stop-color="#87bf77"/><stop offset=".162" stop-color="#90bf73"/><stop offset=".188" stop-color="#96bf71"/><stop offset=".212" stop-color="#9abf6f"/><stop offset=".237" stop-color="#9bbf6f"/><stop offset=".262" stop-color="#9dbe6e"/><stop offset=".287" stop-color="#a1be6d"/><stop offset=".312" stop-color="#a6be6a"/><stop offset=".337" stop-color="#aebe67"/><stop offset=".362" stop-color="#b7bd64"/><stop offset=".388" stop-color="#c0bc60"/><stop offset=".413" stop-color="#c7bc5d"/><stop offset=".438" stop-color="#ccbb5b"/><stop offset=".462" stop-color="#cebb5a"/><stop offset=".487" stop-color="#cdbb5b"/><stop offset=".512" stop-color="#cabb5c"/><stop offset=".537" stop-color="#c7bc5d"/><stop offset=".562" stop-color="#c4bc5e"/><stop offset=".588" stop-color="#c4bc5f"/><stop offset=".613" stop-color="#c6bc5e"/><stop offset=".637" stop-color="#cbbb5b"/><stop offset=".662" stop-color="#d2bb58"/><stop offset=".688" stop-color="#dbba55"/><stop offset=".713" stop-color="#e3b951"/><stop offset=".737" stop-color="#eab94e"/><stop offset=".762" stop-color="#efb94b"/><stop offset=".787" stop-color="#f2b949"/><stop offset=".812" stop-color="#f3ba48"/><stop offset=".838" stop-color="#f1b949"/><stop offset=".863" stop-color="#edb94c"/><stop offset=".887" stop-color="#e6b950"/><stop offset=".912" stop-color="#deba54"/><stop offset=".938" stop-color="#d4bb58"/><stop offset=".962" stop-color="#cfbb5a"/><stop offset=".988" stop-color="#cfbb5a"/></linearGradient><linearGradient id="s2g8" x1="0" x2="1" y1="0" y2="0"><stop offset=".012" stop-color="#7dbf7b"/><stop offset=".037" stop-color="#7dbf7b"/><stop offset=".062" stop-color="#76bf7e"/><stop offset=".087" stop-color="#6dbf82"/><stop offset=".112" stop-color="#6cbf83"/><stop offset=".138" stop-color="#74bf7f"/><stop offset=".162" stop-color="#80bf7a"/><stop offset=".188" stop-color="#8bbf75"/><stop offset=".212" stop-color="#92bf72"/><stop offset=".237" stop-color="#96bf71"/><stop offset=".262" stop-color="#98bf70"/><stop offset=".287" stop-color="#9bbf6f"/><stop offset=".312" stop-color="#9ebe6d"/><stop offset=".337" stop-color="#a3be6c"/><stop offset=".362" stop-color="#a8be6a"/><stop offset=".388" stop-color="#adbe68"/><stop offset=".413" stop-color="#b1bd66"/><stop offset=".438" stop-color="#b4bd65"/><stop offset=".462" stop-color="#b6bd64"/><stop offset=".487" stop-color="#b6bd64"/><stop offset=".512" stop-color="#b7bd64"/><stop offset=".537" stop-color="#b8bd63"/><stop offset=".562" stop-color="#bbbd62"/><stop offset=".588" stop-color="#c0bc60"/><stop offset=".613" stop-color="#c7bc5d"/><stop offset=".637" stop-color="#d0bb59"/><stop offset=".662" stop-color="#d9ba56"/><stop offset=".688" stop-color="#e2b952"/><stop offset=".713" stop-color="#e9b94e"/><stop offset=".737" stop-color="#efb94b"/><stop offset=".762" stop-color="#f2b949"/><stop offset=".787" stop-color="#f3b948"/><stop offset=".812" stop-color="#f2b949"/><stop offset=".838" stop-color="#efb94b"/><stop offset=".863" stop-color="#e9b94e"/><stop offset=".887" stop-color="#e2b951"/><stop offset=".912" stop-color="#daba55"/><stop offset=".938" stop-color="#d1bb59"/><stop offset=".962" stop-color="#ccbb5b"/><stop offset=".988" stop-color="#ccbb5b"/></linearGradient><linearGradient id="s2g9" x1="0" x2="1" y1="0" y2="0"><stop offset=".012" stop-color="#7bbf7c"/><stop offset=".037" stop-color="#7bbf7c"/><stop offset=".062" stop-color="#74bf7f"/><stop offset=".087" stop-color="#6abe84"/><stop offset=".112" stop-color="#68be84"/><stop offset=".138" stop-color="#70bf81"/><stop offset=".162" stop-color="#7dbf7b"/><stop offset=".188" stop-color="#89bf76"/><stop offset=".212" stop-color="#90bf73"/><stop offset=".237" stop-color="#94bf72"/><stop offset=".262" stop-color="#96bf71"/><stop offset=".287" stop-color="#97bf70"/><stop offset=".312" stop-color="#99bf70"/><stop offset=".337" stop-color="#9abf6f"/><stop offset=".362" stop-color="#9cbf6e"/><stop offset=".388" stop-color="#9ebe6e"/><stop offset=".413" stop-color="#9fbe6d"/><stop offset=".438" stop-color="#a0be6d"/><stop offset=".462" stop-color="#a0be6d"/><stop offset=".487" stop-color="#a1be6d"/><stop offset=".512" stop-color="#a3be6c"/><stop offset=".537" stop-color="#a7be6a"/><stop offset=".562" stop-color="#afbe67"/><stop offset=".588" stop-color="#b9bd63"/><stop offset=".613" stop-color="#c5bc5e"/><stop offset=".637" stop-color="#d1bb59"/><stop offset=".662" stop-color="#dcba54"/><stop offset=".688" stop-color="#e5b950"/><stop offset=".713" stop-color="#ebb94d"/><stop offset=".737" stop-color="#eeb94b"/><stop offset=".762" stop-color="#efb94b"/><stop offset=".787" stop-color="#edb94c"/><stop offset=".812" stop-color="#eab94e"/><stop offset=".838" stop-color="#e5b950"/><stop offset=".863" stop-color="#dfba53"/><stop offset=".887" stop-color="#d8ba56"/><stop offset=".912" stop-color="#d1bb59"/><stop offset=".938" stop-color="#c8bc5d"/><stop offset=".962" stop-color="#c4bc5e"/><stop offset=".988" stop-color="#c4bc5e"/></linearGradient><linearGradient id="s2g10" x1="0" x2="1" y1="0" y2="0"><stop offset=".012" stop-color="#81bf7a"/><stop offset=".037" stop-color="#81bf7a"/><stop offset=".062" stop-color="#7cbf7c"/><stop offset=".087" stop-color="#74bf7f"/><stop offset=".112" stop-color="#73bf7f"/><stop offset=".138" stop-color="#79bf7d"/><stop offset=".162" stop-color="#83bf79"/><stop offset=".188" stop-color="#8bbf75"/><stop offset=".212" stop-color="#91bf73"/><stop offset=".237" stop-color="#94bf72"/><stop offset=".262" stop-color="#95bf71"/><stop offset=".287" stop-color="#96bf71"/><stop offset=".312" stop-color="#96bf71"/><stop offset=".337" stop-color="#96bf71"/><stop offset=".362" stop-color="#96bf71"/><stop offset=".388" stop-color="#96bf71"/><stop offset=".413" stop-color="#94bf71"/><stop offset=".438" stop-color="#92bf72"/><stop offset=".462" stop-color="#8fbf74"/><stop offset=".487" stop-color="#8cbf75"/><stop offset=".512" stop-color="#8cbf75"/><stop offset=".537" stop-color="#90bf73"/><stop offset=".562" stop-color="#9abf6f"/><stop offset=".588" stop-color="#a7be6a"/><stop offset=".613" stop-color="#b6bd64"/><stop offset=".637" stop-color="#c5bc5e"/><stop offset=".662" stop-color="#d1bb59"/><stop offset=".688" stop-color="#daba55"/><stop offset=".713" stop-color="#dfba53"/><stop offset=".737" stop-color="#e1b952"/><stop offset=".762" stop-color="#e0ba52"/><stop offset=".787" stop-color="#deba53"/><stop offset=".812" stop-color="#daba55"/><stop offset=".838" stop-color="#d5ba57"/><stop offset=".863" stop-color="#d0bb5a"/><stop offset=".887" stop-color="#cabb5c"/><stop offset=".912" stop-color="#c4bc5f"/><stop offset=".938" stop-color="#bdbd61"/><stop offset=".962" stop-color="#babd63"/><stop offset=".988" stop-color="#babd63"/></linearGradient><linearGradient id="s2g11" x1="0" x2="1" y1="0" y2="0"><stop offset=".012" stop-color="#8abf76"/><stop offset=".037" stop-color="#8abf76"/><stop offset=".062" stop-color="#87bf77"/><stop offset=".087" stop-color="#83bf79"/><stop offset=".112" stop-color="#82bf79"/><stop offset=".138" stop-color="#86bf78"/><stop offset=".162" stop-color="#8bbf75"/><stop offset=".188" stop-color="#90bf73"/><stop offset=".212" stop-color="#93bf72"/><stop offset=".237" stop-color="#95bf71"/><stop offset=".262" stop-color="#95bf71"/><stop offset=".287" stop-color="#96bf71"/><stop offset=".312" stop-color="#95bf71"/><stop offset=".337" stop-color="#95bf71"/><stop offset=".362" stop-color="#94bf71"/><stop offset=".388" stop-color="#93bf72"/><stop offset=".413" stop-color="#8fbf74"/><stop offset=".438" stop-color="#8abf76"/><stop offset=".462" stop-color="#83bf79"/><stop offset=".487" stop-color="#7cbf7c"/><stop offset=".512" stop-color="#77bf7e"/><stop offset=".537" stop-color="#78bf7d"/><stop offset=".562" stop-color="#80bf7a"/><stop offset=".588" stop-color="#8dbf74"/><stop offset=".613" stop-color="#9dbe6e"/><stop offset=".637" stop-color="#acbe68"/><stop offset=".662" stop-color="#b9bd63"/><stop offset=".688" stop-color="#c2bc5f"/><stop offset=".713" stop-color="#c7bc5d"/><stop offset=".737" stop-color="#c9bc5c"/><stop offset=".762" stop-color="#c9bc5c"/><stop offset=".787" stop-color="#c8bc5d"/><stop offset=".812" stop-color="#c5bc5e"/><stop offset=".838" stop-color="#c2bc5f"/><stop offset=".863" stop-color="#bebc61"/><stop offset=".887" stop-color="#babd62"/><stop offset=".912" stop-color="#b6bd64"/><stop offset=".938" stop-color="#b1bd66"/><stop offset=".962" stop-color="#afbe67"/><stop offset=".988" stop-color="#afbe67"/></linearGradient><linearGradient id="s2g12" x1="0" x2="1" y1="0" y2="0"><stop offset=".012" stop-color="#91bf73"/><stop offset=".037" stop-color="#91bf73"/><stop offset=".062" stop-color="#90bf73"/><stop offset=".087" stop-color="#8ebf74"/><stop offset=".112" stop-color="#8ebf74"/><stop offset=".138" stop-color="#8fbf74"/><stop offset=".162" stop-color="#91bf73"/><stop offset=".188" stop-color="#93bf72"/><stop offset=".212" stop-color="#94bf71"/><stop offset=".237" stop-color="#95bf71"/><stop offset=".262" stop-color="#95bf71"/><stop offset=".287" stop-color="#95bf71"/><stop offset=".312" stop-color="#95bf71"/><stop offset=".337" stop-color="#95bf71"/><stop offset=".362" stop-color="#94bf72"/><stop offset=".388" stop-color="#92bf72"/><stop offset=".413" stop-color="#8fbf74"/><stop offset=".438" stop-color="#89bf76"/><stop offset=".462" stop-color="#82bf79"/><stop offset=".487" stop-color="#7abf7c"/><stop offset=".512" stop-color="#74bf7f"/><stop offset=".537" stop-color="#73bf80"/><stop offset=".562" stop-color="#77bf7e"/><stop offset=".588" stop-color="#81bf7a"/><stop offset=".613" stop-color="#8dbf75"/><stop offset=".637" stop-color="#99bf70"/><stop offset=".662" stop-color="#a3be6c"/><stop offset=".688" stop-color="#abbe69"/><stop offset=".713" stop-color="#afbe67"/><stop offset=".737" stop-color="#b2bd66"/><stop offset=".762" stop-color="#b3bd65"/><stop offset=".787" stop-color="#b3bd65"/><stop offset=".812" stop-color="#b2bd66"/><stop offset=".838" stop-color="#b0bd66"/><stop offset=".863" stop-color="#aebe67"/><stop offset=".887" stop-color="#acbe68"/><stop offset=".912" stop-color="#a9be69"/><stop offset=".938" stop-color="#a7be6a"/><stop offset=".962" stop-color="#a5be6b"/><stop offset=".988" stop-color="#a5be6b"/></linearGradient><linearGradient id="s2g13" x1="0" x2="1" y1="0" y2="0"><stop offset=".012" stop-color="#93bf72"/><stop offset=".037" stop-color="#93bf72"/><stop offset=".062" stop-color="#93bf72"/><stop offset=".087" stop-color="#92bf72"/><stop offset=".112" stop-color="#92bf72"/><stop offset=".138" stop-color="#93bf72"/><stop offset=".162" stop-color="#94bf72"/><stop offset=".188" stop-color="#95bf71"/><stop offset=".212" stop-color="#95bf71"/><stop offset=".237" stop-color="#95bf71"/><stop offset=".262" stop-color="#95bf71"/><stop offset=".287" stop-color="#95bf71"/><stop offset=".312" stop-color="#95bf71"/><stop offset=".337" stop-color="#95bf71"/><stop offset=".362" stop-color="#94bf72"/><stop offset=".388" stop-color="#93bf72"/><stop offset=".413" stop-color="#91bf73"/><stop offset=".438" stop-color="#8ebf74"/><stop offset=".462" stop-color="#8abf76"/><stop offset=".487" stop-color="#85bf78"/><stop offset=".512" stop-color="#82bf79"/><stop offset=".537" stop-color="#80bf7a"/><stop offset=".562" stop-color="#82bf79"/><stop offset=".588" stop-color="#87bf77"/><stop offset=".613" stop-color="#8dbf74"/><stop offset=".637" stop-color="#94bf72"/><stop offset=".662" stop-color="#9abf6f"/><stop offset=".688" stop-color="#9ebe6e"/><stop offset=".713" stop-color="#a1be6c"/><stop offset=".737" stop-color="#a3be6c"/><stop offset=".762" stop-color="#a3be6c"/><stop offset=".787" stop-color="#a3be6c"/><stop offset=".812" stop-color="#a2be6c"/><stop offset=".838" stop-color="#a1be6c"/><stop offset=".863" stop-color="#a1be6c"/><stop offset=".887" stop-color="#a1be6d"/><stop offset=".912" stop-color="#a0be6d"/><stop offset=".938" stop-color="#9fbe6d"/><stop offset=".962" stop-color="#9ebe6e"/><stop offset=".988" stop-color="#9ebe6e"/></linearGradient><linearGradient id="s2g14" x1="0" x2="1" y1="0" y2="0"><stop offset=".012" stop-color="#92bf72"/><stop offset=".037" stop-color="#92bf72"/><stop offset=".062" stop-color="#92bf73"/><stop offset=".087" stop-color="#91bf73"/><stop offset=".112" stop-color="#91bf73"/><stop offset=".138" stop-color="#92bf73"/><stop offset=".162" stop-color="#93bf72"/><stop offset=".188" stop-color="#93bf72"/><stop offset=".212" stop-color="#93bf72"/><stop offset=".237" stop-color="#93bf72"/><stop offset=".262" stop-color="#92bf72"/><stop offset=".287" stop-color="#92bf73"/><stop offset=".312" stop-color="#91bf73"/><stop offset=".337" stop-color="#90bf73"/><stop offset=".362" stop-color="#8fbf74"/><stop offset=".388" stop-color="#8fbf74"/><stop offset=".413" stop-color="#8fbf74"/><stop offset=".438" stop-color="#8fbf74"/><stop offset=".462" stop-color="#8fbf74"/><stop offset=".487" stop-color="#8ebf74"/><stop offset=".512" stop-color="#8ebf74"/><stop offset=".537" stop-color="#8ebf74"/><stop offset=".562" stop-color="#8fbf74"/><stop offset=".588" stop-color="#90bf73"/><stop offset=".613" stop-color="#93bf72"/><stop offset=".637" stop-color="#95bf71"/><stop offset=".662" stop-color="#97bf70"/><stop offset=".688" stop-color="#99bf70"/><stop offset=".713" stop-color="#9abf6f"/><stop offset=".737" stop-color="#99bf70"/><stop offset=".762" stop-color="#95bf71"/><stop offset=".787" stop-color="#8ebf74"/><stop offset=".812" stop-color="#87bf77"/><stop offset=".838" stop-color="#84bf78"/><stop offset=".863" stop-color="#89bf76"/><stop offset=".887" stop-color="#90bf73"/><stop offset=".912" stop-color="#96bf71"/><stop offset=".938" stop-color="#99bf70"/><stop offset=".962" stop-color="#99bf70"/><stop offset=".988" stop-color="#99bf70"/></linearGradient><linearGradient id="s2g15" x1="0" x2="1" y1="0" y2="0"><stop offset=".012" stop-color="#8cbf75"/><stop offset=".037" stop-color="#8cbf75"/><stop offset=".062" stop-color="#8abf76"/><stop offset=".087" stop-color="#88bf76"/><stop offset=".112" stop-color="#88bf76"/><stop offset=".138" stop-color="#8abf76"/><stop offset=".162" stop-color="#8bbf75"/><stop offset=".188" stop-color="#8bbf75"/><stop offset=".212" stop-color="#88bf76"/><stop offset=".237" stop-color="#85bf78"/><stop offset=".262" stop-color="#82bf79"/><stop offset=".287" stop-color="#7fbf7a"/><stop offset=".312" stop-color="#7cbf7c"/><stop offset=".337" stop-color="#78bf7d"/><stop offset=".362" stop-color="#76bf7e"/><stop offset=".388" stop-color="#77bf7e"/><stop offset=".413" stop-color="#7bbf7c"/><stop offset=".438" stop-color="#81bf7a"/><stop offset=".462" stop-color="#87bf77"/><stop offset=".487" stop-color="#8cbf75"/><stop offset=".512" stop-color="#90bf73"/><stop offset=".537" stop-color="#92bf72"/><stop offset=".562" stop-color="#93bf72"/><stop offset=".588" stop-color="#94bf71"/><stop offset=".613" stop-color="#95bf71"/><stop offset=".637" stop-color="#96bf71"/><stop offset=".662" stop-color="#96bf71"/><stop offset=".688" stop-color="#96bf71"/><stop offset=".713" stop-color="#94bf71"/><stop offset=".737" stop-color="#90bf73"/><stop offset=".762" stop-color="#85bf78"/><stop offset=".787" stop-color="#73bf7f"/><stop offset=".812" stop-color="#60be88"/><stop offset=".838" stop-color="#5abd8b"/><stop offset=".863" stop-color="#67be85"/><stop offset=".887" stop-color="#7cbf7b"/><stop offset=".912" stop-color="#8cbf75"/><stop offset=".938" stop-color="#94bf72"/><stop offset=".962" stop-color="#96bf71"/><stop offset=".988" stop-color="#96bf71"/></linearGradient><linearGradient id="s2g16" x1="0" x2="1" y1="0" y2="0"><stop offset=".012" stop-color="#84bf78"/><stop offset=".037" stop-color="#84bf78"/><stop offset=".062" stop-color="#80bf7a"/><stop offset=".087" stop-color="#7bbf7c"/><stop offset=".112" stop-color="#7bbf7c"/><stop offset=".138" stop-color="#7dbf7b"/><stop offset=".162" stop-color="#7cbf7b"/><stop offset=".188" stop-color="#77bf7e"/><stop offset=".212" stop-color="#6dbf82"/><stop offset=".237" stop-color="#64be86"/><stop offset=".262" stop-color="#5cbe8a"/><stop offset=".287" stop-color="#55bd8d"/><stop offset=".312" stop-color="#4ebc91"/><stop offset=".337" stop-color="#46bb96"/><stop offset=".362" stop-color="#41ba98"/><stop offset=".388" stop-color="#44bb97"/><stop offset=".413" stop-color="#4ebc91"/><stop offset=".438" stop-color="#5ebe89"/><stop offset=".462" stop-color="#70bf81"/><stop offset=".487" stop-color="#7fbf7a"/><stop offset=".512" stop-color="#8abf76"/><stop offset=".537" stop-color="#90bf73"/><stop offset=".562" stop-color="#93bf72"/><stop offset=".588" stop-color="#95bf71"/><stop offset=".613" stop-color="#95bf71"/><stop offset=".637" stop-color="#93bf72"/><stop offset=".662" stop-color="#90bf73"/><stop offset=".688" stop-color="#8abf76"/><stop offset=".713" stop-color="#83bf79"/><stop offset=".737" stop-color="#7bbf7c"/><stop offset=".762" stop-color="#72bf80"/><stop offset=".787" stop-color="#6abe84"/><stop offset=".812" stop-color="#64be86"/><stop offset=".838" stop-color="#67be85"/><stop offset=".863" stop-color="#73bf7f"/><stop offset=".887" stop-color="#83bf79"/><stop offset=".912" stop-color="#8ebf74"/><stop offset=".938" stop-color="#94bf72"/><stop offset=".962" stop-color="#95bf71"/><stop offset=".988" stop-color="#95bf71"/></linearGradient><linearGradient id="s2g17" x1="0" x2="1" y1="0" y2="0"><stop offset=".012" stop-color="#81bf7a"/><stop offset=".037" stop-color="#81bf7a"/><stop offset=".062" stop-color="#7dbf7b"/><stop offset=".087" stop-color="#77bf7e"/><stop offset=".112" stop-color="#76bf7e"/><stop offset=".138" stop-color="#77bf7d"/><stop offset=".162" stop-color="#76bf7e"/><stop offset=".188" stop-color="#6ebf82"/><stop offset=".212" stop-color="#61be88"/><stop offset=".237" stop-color="#53bd8f"/><stop offset=".262" stop-color="#49bb94"/><stop offset=".287" stop-color="#40ba99"/><stop offset=".312" stop-color="#36b99f"/><stop offset=".337" stop-color="#2db7a4"/><stop offset=".362" stop-color="#28b6a8"/><stop offset=".388" stop-color="#2ab6a6"/><stop offset=".413" stop-color="#36b99f"/><stop offset=".438" stop-color="#4abc94"/><stop offset=".462" stop-color="#62be87"/><stop offset=".487" stop-color="#77bf7e"/><stop offset=".512" stop-color="#85bf78"/><stop offset=".537" stop-color="#8ebf74"/><stop offset=".562" stop-color="#92bf72"/><stop offset=".588" stop-color="#94bf72"/><stop offset=".613" stop-color="#93bf72"/><stop offset=".637" stop-color="#8fbf74"/><stop offset=".662" stop-color="#84bf78"/><stop offset=".688" stop-color="#73bf7f"/><stop offset=".713" stop-color="#5dbe89"/><stop offset=".737" stop-color="#4dbc92"/><stop offset=".762" stop-color="#4bbc93"/><stop offset=".787" stop-color="#55bd8d"/><stop offset=".812" stop-color="#68be84"/><stop offset=".838" stop-color="#7abf7c"/><stop offset=".863" stop-color="#88bf77"/><stop offset=".887" stop-color="#90bf73"/><stop offset=".912" stop-color="#94bf72"/><stop offset=".938" stop-color="#95bf71"/><stop offset=".962" stop-color="#95bf71"/><stop offset=".988" stop-color="#95bf71"/></linearGradient><linearGradient id="s2g18" x1="0" x2="1" y1="0" y2="0"><stop offset=".012" stop-color="#87bf77"/><stop offset=".037" stop-color="#87bf77"/><stop offset=".062" stop-color="#84bf78"/><stop offset=".087" stop-color="#80bf7a"/><stop offset=".112" stop-color="#80bf7a"/><stop offset=".138" stop-color="#82bf79"/><stop offset=".162" stop-color="#82bf79"/><stop offset=".188" stop-color="#7fbf7a"/><stop offset=".212" stop-color="#78bf7d"/><stop offset=".237" stop-color="#6fbf81"/><stop offset=".262" stop-color="#67be85"/><stop offset=".287" stop-color="#5ebe89"/><stop offset=".312" stop-color="#53bd8e"/><stop offset=".337" stop-color="#4abc94"/><stop offset=".362" stop-color="#44bb97"/><stop offset=".388" stop-color="#46bb96"/><stop offset=".413" stop-color="#50bc90"/><stop offset=".438" stop-color="#60be88"/><stop offset=".462" stop-color="#71bf80"/><stop offset=".487" stop-color="#80bf7a"/><stop offset=".512" stop-color="#8abf76"/><stop offset=".537" stop-color="#90bf73"/><stop offset=".562" stop-color="#93bf72"/><stop offset=".588" stop-color="#94bf72"/><stop offset=".613" stop-color="#93bf72"/><stop offset=".637" stop-color="#90bf73"/><stop offset=".662" stop-color="#88bf77"/><stop offset=".688" stop-color="#79bf7d"/><stop offset=".713" stop-color="#68be84"/><stop offset=".737" stop-color="#5bbd8a"/><stop offset=".762" stop-color="#5abd8b"/><stop offset=".787" stop-color="#65be86"/><stop offset=".812" stop-color="#76bf7e"/><stop offset=".838" stop-color="#85bf78"/><stop offset=".863" stop-color="#8fbf74"/><stop offset=".887" stop-color="#93bf72"/><stop offset=".912" stop-color="#95bf71"/><stop offset=".938" stop-color="#95bf71"/><stop offset=".962" stop-color="#96bf71"/><stop offset=".988" stop-color="#96bf71"/></linearGradient><linearGradient id="s2g19" x1="0" x2="1" y1="0" y2="0"><stop offset=".012" stop-color="#8fbf74"/><stop offset=".037" stop-color="#8fbf74"/><stop offset=".062" stop-color="#8ebf74"/><stop offset=".087" stop-color="#8dbf75"/><stop offset=".112" stop-color="#8dbf75"/><stop offset=".138" stop-color="#8ebf74"/><stop offset=".162" stop-color="#8fbf74"/><stop offset=".188" stop-color="#8fbf74"/><stop offset=".212" stop-color="#8ebf74"/><stop offset=".237" stop-color="#8bbf75"/><stop offset=".262" stop-color="#88bf77"/><stop offset=".287" stop-color="#84bf78"/><stop offset=".312" stop-color="#7fbf7a"/><stop offset=".337" stop-color="#7bbf7c"/><stop offset=".362" stop-color="#78bf7d"/><stop offset=".388" stop-color="#79bf7d"/><stop offset=".413" stop-color="#7cbf7b"/><stop offset=".438" stop-color="#82bf79"/><stop offset=".462" stop-color="#88bf76"/><stop offset=".487" stop-color="#8ebf74"/><stop offset=".512" stop-color="#91bf73"/><stop offset=".537" stop-color="#93bf72"/><stop offset=".562" stop-color="#95bf71"/><stop offset=".588" stop-color="#95bf71"/><stop offset=".613" stop-color="#95bf71"/><stop offset=".637" stop-color="#94bf72"/><stop offset=".662" stop-color="#92bf72"/><stop offset=".688" stop-color="#8fbf74"/><stop offset=".713" stop-color="#8bbf75"/><stop offset=".737" stop-color="#89bf76"/><stop offset=".762" stop-color="#89bf76"/><stop offset=".787" stop-color="#8bbf75"/><stop offset=".812" stop-color="#8fbf74"/><stop offset=".838" stop-color="#92bf72"/><stop offset=".863" stop-color="#94bf72"/><stop offset=".887" stop-color="#95bf71"/><stop offset=".912" stop-color="#95bf71"/><stop offset=".938" stop-color="#96bf71"/><stop offset=".962" stop-color="#96bf71"/><stop offset=".988" stop-color="#96bf71"/></linearGradient><linearGradient id="s2g20" x1="0" x2="1" y1="0" y2="0"><stop offset=".012" stop-color="#92bf72"/><stop offset=".037" stop-color="#92bf72"/><stop offset=".062" stop-color="#91bf73"/><stop offset=".087" stop-color="#91bf73"/><stop offset=".112" stop-color="#91bf73"/><stop offset=".138" stop-color="#92bf73"/><stop offset=".162" stop-color="#92bf72"/><stop offset=".188" stop-color="#93bf72"/><stop offset=".212" stop-color="#92bf72"/><stop offset=".237" stop-color="#91bf73"/><stop offset=".262" stop-color="#90bf73"/><stop offset=".287" stop-color="#8ebf74"/><stop offset=".312" stop-color="#8bbf75"/><stop offset=".337" stop-color="#89bf76"/><stop offset=".362" stop-color="#88bf77"/><stop offset=".388" stop-color="#88bf77"/><stop offset=".413" stop-color="#8abf76"/><stop offset=".438" stop-color="#8cbf75"/><stop offset=".462" stop-color="#8fbf74"/><stop offset=".487" stop-color="#92bf73"/><stop offset=".512" stop-color="#93bf72"/><stop offset=".537" stop-color="#95bf71"/><stop offset=".562" stop-color="#95bf71"/><stop offset=".588" stop-color="#95bf71"/><stop offset=".613" stop-color="#95bf71"/><stop offset=".637" stop-color="#95bf71"/><stop offset=".662" stop-color="#95bf71"/><stop offset=".688" stop-color="#94bf72"/><stop offset=".713" stop-color="#93bf72"/><stop offset=".737" stop-color="#92bf73"/><stop offset=".762" stop-color="#92bf73"/><stop offset=".787" stop-color="#92bf72"/><stop offset=".812" stop-color="#93bf72"/><stop offset=".838" stop-color="#94bf71"/><stop offset=".863" stop-color="#95bf71"/><stop offset=".887" stop-color="#95bf71"/><stop offset=".912" stop-color="#96bf71"/><stop offset=".938" stop-color="#96bf71"/><stop offset=".962" stop-color="#96bf71"/><stop offset=".988" stop-color="#96bf71"/></linearGradient><linearGradient id="s2g21" x1="0" x2="1" y1="0" y2="0"><stop offset=".012" stop-color="#92bf72"/><stop offset=".037" stop-color="#92bf72"/><stop offset=".062" stop-color="#91bf73"/><stop offset=".087" stop-color="#91bf73"/><stop offset=".112" stop-color="#91bf73"/><stop offset=".138" stop-color="#92bf73"/><stop offset=".162" stop-color="#92bf72"/><stop offset=".188" stop-color="#93bf72"/><stop offset=".212" stop-color="#92bf72"/><stop offset=".237" stop-color="#91bf73"/><stop offset=".262" stop-color="#90bf73"/><stop offset=".287" stop-color="#8ebf74"/><stop offset=".312" stop-color="#8bbf75"/><stop offset=".337" stop-color="#89bf76"/><stop offset=".362" stop-color="#88bf77"/><stop offset=".388" stop-color="#88bf77"/><stop offset=".413" stop-color="#8abf76"/><stop offset=".438" stop-color="#8cbf75"/><stop offset=".462" stop-color="#8fbf74"/><stop offset=".487" stop-color="#92bf73"/><stop offset=".512" stop-color="#93bf72"/><stop offset=".537" stop-color="#95bf71"/><stop offset=".562" stop-color="#95bf71"/><stop offset=".588" stop-color="#95bf71"/><stop offset=".613" stop-color="#95bf71"/><stop offset=".637" stop-color="#95bf71"/><stop offset=".662" stop-color="#95bf71"/><stop offset=".688" stop-color="#94bf72"/><stop offset=".713" stop-color="#93bf72"/><stop offset=".737" stop-color="#92bf73"/><stop offset=".762" stop-color="#92bf73"/><stop offset=".787" stop-color="#92bf72"/><stop offset=".812" stop-color="#93bf72"/><stop offset=".838" stop-color="#94bf71"/><stop offset=".863" stop-color="#95bf71"/><stop offset=".887" stop-color="#95bf71"/><stop offset=".912" stop-color="#96bf71"/><stop offset=".938" stop-color="#96bf71"/><stop offset=".962" stop-color="#96bf71"/><stop offset=".988" stop-color="#96bf71"/></linearGradient></defs>
<g filter="url(#eb)"><g clip-path="url(#cs2)"><g transform="matrix(0.96027,-0.25173,-0.95272,-0.36751,401.775,583.625)" filter="url(#vb)"><rect x="-30.56" y="-28.56" width="611.11" height="14.88" fill="url(#s2g0)"/><rect x="-30.56" y="-14.28" width="611.11" height="14.88" fill="url(#s2g1)"/><rect x="-30.56" y="0.00" width="611.11" height="14.88" fill="url(#s2g2)"/><rect x="-30.56" y="14.28" width="611.11" height="14.88" fill="url(#s2g3)"/><rect x="-30.56" y="28.56" width="611.11" height="14.88" fill="url(#s2g4)"/><rect x="-30.56" y="42.83" width="611.11" height="14.88" fill="url(#s2g5)"/><rect x="-30.56" y="57.11" width="611.11" height="14.88" fill="url(#s2g6)"/><rect x="-30.56" y="71.39" width="611.11" height="14.88" fill="url(#s2g7)"/><rect x="-30.56" y="85.67" width="611.11" height="14.88" fill="url(#s2g8)"/><rect x="-30.56" y="99.94" width="611.11" height="14.88" fill="url(#s2g9)"/><rect x="-30.56" y="114.22" width="611.11" height="14.88" fill="url(#s2g10)"/><rect x="-30.56" y="128.50" width="611.11" height="14.88" fill="url(#s2g11)"/><rect x="-30.56" y="142.78" width="611.11" height="14.88" fill="url(#s2g12)"/><rect x="-30.56" y="157.06" width="611.11" height="14.88" fill="url(#s2g13)"/><rect x="-30.56" y="171.33" width="611.11" height="14.88" fill="url(#s2g14)"/><rect x="-30.56" y="185.61" width="611.11" height="14.88" fill="url(#s2g15)"/><rect x="-30.56" y="199.89" width="611.11" height="14.88" fill="url(#s2g16)"/><rect x="-30.56" y="214.17" width="611.11" height="14.88" fill="url(#s2g17)"/><rect x="-30.56" y="228.44" width="611.11" height="14.88" fill="url(#s2g18)"/><rect x="-30.56" y="242.72" width="611.11" height="14.88" fill="url(#s2g19)"/><rect x="-30.56" y="257.00" width="611.11" height="14.88" fill="url(#s2g20)"/><rect x="-30.56" y="271.28" width="611.11" height="14.88" fill="url(#s2g21)"/></g></g></g>
<clipPath id="cs3"><polygon points="402.7,751.5 930.0,611.6 685.0,518.5 157.0,655.6"/></clipPath>
<defs><linearGradient id="s3g0" x1="0" x2="1" y1="0" y2="0"><stop offset=".012" stop-color="#86bf77"/><stop offset=".037" stop-color="#86bf77"/><stop offset=".062" stop-color="#86bf77"/><stop offset=".087" stop-color="#87bf77"/><stop offset=".112" stop-color="#88bf77"/><stop offset=".138" stop-color="#89bf76"/><stop offset=".162" stop-color="#8abf76"/><stop offset=".188" stop-color="#8cbf75"/><stop offset=".212" stop-color="#8ebf74"/><stop offset=".237" stop-color="#8fbf74"/><stop offset=".262" stop-color="#90bf73"/><stop offset=".287" stop-color="#90bf73"/><stop offset=".312" stop-color="#8fbf74"/><stop offset=".337" stop-color="#8ebf74"/><stop offset=".362" stop-color="#8cbf75"/><stop offset=".388" stop-color="#8abf76"/><stop offset=".413" stop-color="#89bf76"/><stop offset=".438" stop-color="#88bf77"/><stop offset=".462" stop-color="#87bf77"/><stop offset=".487" stop-color="#86bf77"/><stop offset=".512" stop-color="#86bf77"/><stop offset=".537" stop-color="#86bf77"/><stop offset=".562" stop-color="#86bf77"/><stop offset=".588" stop-color="#86bf78"/><stop offset=".613" stop-color="#86bf78"/><stop offset=".637" stop-color="#85bf78"/><stop offset=".662" stop-color="#85bf78"/><stop offset=".688" stop-color="#85bf78"/><stop offset=".713" stop-color="#85bf78"/><stop offset=".737" stop-color="#84bf78"/><stop offset=".762" stop-color="#83bf78"/><stop offset=".787" stop-color="#82bf79"/><stop offset=".812" stop-color="#82bf79"/><stop offset=".838" stop-color="#81bf79"/><stop offset=".863" stop-color="#81bf7a"/><stop offset=".887" stop-color="#80bf7a"/><stop offset=".912" stop-color="#81bf7a"/><stop offset=".938" stop-color="#81bf79"/><stop offset=".962" stop-color="#82bf79"/><stop offset=".988" stop-color="#82bf79"/></linearGradient><linearGradient id="s3g1" x1="0" x2="1" y1="0" y2="0"><stop offset=".012" stop-color="#86bf77"/><stop offset=".037" stop-color="#86bf77"/><stop offset=".062" stop-color="#86bf77"/><stop offset=".087" stop-color="#87bf77"/><stop offset=".112" stop-color="#88bf77"/><stop offset=".138" stop-color="#89bf76"/><stop offset=".162" stop-color="#8abf76"/><stop offset=".188" stop-color="#8cbf75"/><stop offset=".212" stop-color="#8ebf74"/><stop offset=".237" stop-color="#8fbf74"/><stop offset=".262" stop-color="#90bf73"/><stop offset=".287" stop-color="#90bf73"/><stop offset=".312" stop-color="#8fbf74"/><stop offset=".337" stop-color="#8ebf74"/><stop offset=".362" stop-color="#8cbf75"/><stop offset=".388" stop-color="#8abf76"/><stop offset=".413" stop-color="#89bf76"/><stop offset=".438" stop-color="#88bf77"/><stop offset=".462" stop-color="#87bf77"/><stop offset=".487" stop-color="#86bf77"/><stop offset=".512" stop-color="#86bf77"/><stop offset=".537" stop-color="#86bf77"/><stop offset=".562" stop-color="#86bf77"/><stop offset=".588" stop-color="#86bf78"/><stop offset=".613" stop-color="#86bf78"/><stop offset=".637" stop-color="#85bf78"/><stop offset=".662" stop-color="#85bf78"/><stop offset=".688" stop-color="#85bf78"/><stop offset=".713" stop-color="#85bf78"/><stop offset=".737" stop-color="#84bf78"/><stop offset=".762" stop-color="#83bf78"/><stop offset=".787" stop-color="#82bf79"/><stop offset=".812" stop-color="#82bf79"/><stop offset=".838" stop-color="#81bf79"/><stop offset=".863" stop-color="#81bf7a"/><stop offset=".887" stop-color="#80bf7a"/><stop offset=".912" stop-color="#81bf7a"/><stop offset=".938" stop-color="#81bf79"/><stop offset=".962" stop-color="#82bf79"/><stop offset=".988" stop-color="#82bf79"/></linearGradient><linearGradient id="s3g2" x1="0" x2="1" y1="0" y2="0"><stop offset=".012" stop-color="#86bf77"/><stop offset=".037" stop-color="#86bf77"/><stop offset=".062" stop-color="#86bf77"/><stop offset=".087" stop-color="#87bf77"/><stop offset=".112" stop-color="#89bf76"/><stop offset=".138" stop-color="#8abf76"/><stop offset=".162" stop-color="#8cbf75"/><stop offset=".188" stop-color="#8fbf74"/><stop offset=".212" stop-color="#91bf73"/><stop offset=".237" stop-color="#93bf72"/><stop offset=".262" stop-color="#94bf72"/><stop offset=".287" stop-color="#94bf72"/><stop offset=".312" stop-color="#93bf72"/><stop offset=".337" stop-color="#91bf73"/><stop offset=".362" stop-color="#8fbf74"/><stop offset=".388" stop-color="#8dbf75"/><stop offset=".413" stop-color="#8abf76"/><stop offset=".438" stop-color="#89bf76"/><stop offset=".462" stop-color="#88bf77"/><stop offset=".487" stop-color="#87bf77"/><stop offset=".512" stop-color="#86bf77"/><stop offset=".537" stop-color="#86bf77"/><stop offset=".562" stop-color="#86bf77"/><stop offset=".588" stop-color="#86bf77"/><stop offset=".613" stop-color="#86bf77"/><stop offset=".637" stop-color="#85bf78"/><stop offset=".662" stop-color="#85bf78"/><stop offset=".688" stop-color="#85bf78"/><stop offset=".713" stop-color="#84bf78"/><stop offset=".737" stop-color="#84bf78"/><stop offset=".762" stop-color="#83bf79"/><stop offset=".787" stop-color="#82bf79"/><stop offset=".812" stop-color="#81bf7a"/><stop offset=".838" stop-color="#80bf7a"/><stop offset=".863" stop-color="#7fbf7a"/><stop offset=".887" stop-color="#7fbf7a"/><stop offset=".912" stop-color="#80bf7a"/><stop offset=".938" stop-color="#81bf7a"/><stop offset=".962" stop-color="#81bf79"/><stop offset=".988" stop-color="#81bf79"/></linearGradient><linearGradient id="s3g3" x1="0" x2="1" y1="0" y2="0"><stop offset=".012" stop-color="#87bf77"/><stop offset=".037" stop-color="#87bf77"/><stop offset=".062" stop-color="#87bf77"/><stop offset=".087" stop-color="#89bf76"/><stop offset=".112" stop-color="#8abf76"/><stop offset=".138" stop-color="#8dbf75"/><stop offset=".162" stop-color="#90bf73"/><stop offset=".188" stop-color="#93bf72"/><stop offset=".212" stop-color="#97bf71"/><stop offset=".237" stop-color="#99bf6f"/><stop offset=".262" stop-color="#9bbf6f"/><stop offset=".287" stop-color="#9bbf6f"/><stop offset=".312" stop-color="#9abf6f"/><stop offset=".337" stop-color="#97bf70"/><stop offset=".362" stop-color="#94bf72"/><stop offset=".388" stop-color="#91bf73"/><stop offset=".413" stop-color="#8ebf74"/><stop offset=".438" stop-color="#8bbf75"/><stop offset=".462" stop-color="#8abf76"/><stop offset=".487" stop-color="#89bf76"/><stop offset=".512" stop-color="#88bf77"/><stop offset=".537" stop-color="#87bf77"/><stop offset=".562" stop-color="#87bf77"/><stop offset=".588" stop-color="#87bf77"/><stop offset=".613" stop-color="#86bf77"/><stop offset=".637" stop-color="#86bf77"/><stop offset=".662" stop-color="#86bf77"/><stop offset=".688" stop-color="#85bf78"/><stop offset=".713" stop-color="#84bf78"/><stop offset=".737" stop-color="#83bf79"/><stop offset=".762" stop-color="#82bf79"/><stop offset=".787" stop-color="#80bf7a"/><stop offset=".812" stop-color="#7fbf7a"/><stop offset=".838" stop-color="#7ebf7b"/><stop offset=".863" stop-color="#7dbf7b"/><stop offset=".887" stop-color="#7dbf7b"/><stop offset=".912" stop-color="#7dbf7b"/><stop offset=".938" stop-color="#7fbf7a"/><stop offset=".962" stop-color="#7fbf7a"/><stop offset=".988" stop-color="#7fbf7a"/></linearGradient><linearGradient id="s3g4" x1="0" x2="1" y1="0" y2="0"><stop offset=".012" stop-color="#88bf76"/><stop offset=".037" stop-color="#88bf76"/><stop offset=".062" stop-color="#89bf76"/><stop offset=".087" stop-color="#8abf76"/><stop offset=".112" stop-color="#8cbf75"/><stop offset=".138" stop-color="#8ebf74"/><stop offset=".162" stop-color="#91bf73"/><stop offset=".188" stop-color="#94bf72"/><stop offset=".212" stop-color="#97bf71"/><stop offset=".237" stop-color="#99bf70"/><stop offset=".262" stop-color="#9bbf6f"/><stop offset=".287" stop-color="#9bbf6f"/><stop offset=".312" stop-color="#9abf6f"/><stop offset=".337" stop-color="#98bf70"/><stop offset=".362" stop-color="#96bf71"/><stop offset=".388" stop-color="#93bf72"/><stop offset=".413" stop-color="#91bf73"/><stop offset=".438" stop-color="#8fbf74"/><stop offset=".462" stop-color="#8ebf74"/><stop offset=".487" stop-color="#8dbf75"/><stop offset=".512" stop-color="#8cbf75"/><stop offset=".537" stop-color="#8bbf75"/><stop offset=".562" stop-color="#8bbf75"/><stop offset=".588" stop-color="#8abf76"/><stop offset=".613" stop-color="#89bf76"/><stop offset=".637" stop-color="#88bf76"/><stop offset=".662" stop-color="#87bf77"/><stop offset=".688" stop-color="#86bf77"/><stop offset=".713" stop-color="#85bf78"/><stop offset=".737" stop-color="#83bf79"/><stop offset=".762" stop-color="#81bf79"/><stop offset=".787" stop-color="#7fbf7a"/><stop offset=".812" stop-color="#7dbf7b"/><stop offset=".838" stop-color="#7bbf7c"/><stop offset=".863" stop-color="#7abf7c"/><stop offset=".887" stop-color="#7abf7c"/><stop offset=".912" stop-color="#7bbf7c"/><stop offset=".938" stop-color="#7cbf7b"/><stop offset=".962" stop-color="#7dbf7b"/><stop offset=".988" stop-color="#7dbf7b"/></linearGradient><linearGradient id="s3g5" x1="0" x2="1" y1="0" y2="0"><stop offset=".012" stop-color="#8cbf75"/><stop offset=".037" stop-color="#8cbf75"/><stop offset=".062" stop-color="#8dbf74"/><stop offset=".087" stop-color="#90bf73"/><stop offset=".112" stop-color="#91bf73"/><stop offset=".138" stop-color="#92bf72"/><stop offset=".162" stop-color="#93bf72"/><stop offset=".188" stop-color="#94bf72"/><stop offset=".212" stop-color="#94bf71"/><stop offset=".237" stop-color="#95bf71"/><stop offset=".262" stop-color="#96bf71"/><stop offset=".287" stop-color="#97bf70"/><stop offset=".312" stop-color="#98bf70"/><stop offset=".337" stop-color="#98bf70"/><stop offset=".362" stop-color="#98bf70"/><stop offset=".388" stop-color="#98bf70"/><stop offset=".413" stop-color="#98bf70"/><stop offset=".438" stop-color="#97bf70"/><stop offset=".462" stop-color="#97bf70"/><stop offset=".487" stop-color="#97bf71"/><stop offset=".512" stop-color="#96bf71"/><stop offset=".537" stop-color="#95bf71"/><stop offset=".562" stop-color="#94bf72"/><stop offset=".588" stop-color="#92bf72"/><stop offset=".613" stop-color="#90bf73"/><stop offset=".637" stop-color="#8ebf74"/><stop offset=".662" stop-color="#8bbf75"/><stop offset=".688" stop-color="#89bf76"/><stop offset=".713" stop-color="#86bf77"/><stop offset=".737" stop-color="#83bf78"/><stop offset=".762" stop-color="#81bf7a"/><stop offset=".787" stop-color="#7ebf7b"/><stop offset=".812" stop-color="#7bbf7c"/><stop offset=".838" stop-color="#79bf7d"/><stop offset=".863" stop-color="#78bf7d"/><stop offset=".887" stop-color="#78bf7d"/><stop offset=".912" stop-color="#79bf7d"/><stop offset=".938" stop-color="#7bbf7c"/><stop offset=".962" stop-color="#7cbf7c"/><stop offset=".988" stop-color="#7cbf7c"/></linearGradient><linearGradient id="s3g6" x1="0" x2="1" y1="0" y2="0"><stop offset=".012" stop-color="#96bf71"/><stop offset=".037" stop-color="#96bf71"/><stop offset=".062" stop-color="#99bf70"/><stop offset=".087" stop-color="#9dbf6e"/><stop offset=".112" stop-color="#9fbe6d"/><stop offset=".138" stop-color="#9fbe6d"/><stop offset=".162" stop-color="#9dbf6e"/><stop offset=".188" stop-color="#9abf6f"/><stop offset=".212" stop-color="#97bf70"/><stop offset=".237" stop-color="#96bf71"/><stop offset=".262" stop-color="#97bf71"/><stop offset=".287" stop-color="#98bf70"/><stop offset=".312" stop-color="#9bbf6f"/><stop offset=".337" stop-color="#9ebe6e"/><stop offset=".362" stop-color="#a0be6d"/><stop offset=".388" stop-color="#a3be6c"/><stop offset=".413" stop-color="#a5be6b"/><stop offset=".438" stop-color="#a7be6a"/><stop offset=".462" stop-color="#a8be6a"/><stop offset=".487" stop-color="#a8be6a"/><stop offset=".512" stop-color="#a7be6a"/><stop offset=".537" stop-color="#a5be6b"/><stop offset=".562" stop-color="#a3be6c"/><stop offset=".588" stop-color="#9fbe6d"/><stop offset=".613" stop-color="#9bbf6f"/><stop offset=".637" stop-color="#97bf70"/><stop offset=".662" stop-color="#92bf72"/><stop offset=".688" stop-color="#8ebf74"/><stop offset=".713" stop-color="#89bf76"/><stop offset=".737" stop-color="#85bf78"/><stop offset=".762" stop-color="#81bf7a"/><stop offset=".787" stop-color="#7dbf7b"/><stop offset=".812" stop-color="#7abf7c"/><stop offset=".838" stop-color="#78bf7d"/><stop offset=".863" stop-color="#76bf7e"/><stop offset=".887" stop-color="#76bf7e"/><stop offset=".912" stop-color="#77bf7d"/><stop offset=".938" stop-color="#79bf7d"/><stop offset=".962" stop-color="#7bbf7c"/><stop offset=".988" stop-color="#7bbf7c"/></linearGradient><linearGradient id="s3g7" x1="0" x2="1" y1="0" y2="0"><stop offset=".012" stop-color="#a5be6b"/><stop offset=".037" stop-color="#a5be6b"/><stop offset=".062" stop-color="#a9be69"/><stop offset=".087" stop-color="#b0bd66"/><stop offset=".112" stop-color="#b4bd65"/><stop offset=".138" stop-color="#b2bd66"/><stop offset=".162" stop-color="#adbe67"/><stop offset=".188" stop-color="#a7be6a"/><stop offset=".212" stop-color="#a1be6c"/><stop offset=".237" stop-color="#9dbe6e"/><stop offset=".262" stop-color="#9dbf6e"/><stop offset=".287" stop-color="#9fbe6d"/><stop offset=".312" stop-color="#a3be6c"/><stop offset=".337" stop-color="#a8be69"/><stop offset=".362" stop-color="#aebe67"/><stop offset=".388" stop-color="#b3bd65"/><stop offset=".413" stop-color="#b7bd64"/><stop offset=".438" stop-color="#babd62"/><stop offset=".462" stop-color="#bcbd62"/><stop offset=".487" stop-color="#bdbd61"/><stop offset=".512" stop-color="#bbbd62"/><stop offset=".537" stop-color="#b9bd63"/><stop offset=".562" stop-color="#b4bd65"/><stop offset=".588" stop-color="#afbe67"/><stop offset=".613" stop-color="#a8be69"/><stop offset=".637" stop-color="#a1be6c"/><stop offset=".662" stop-color="#99bf6f"/><stop offset=".688" stop-color="#92bf73"/><stop offset=".713" stop-color="#8bbf75"/><stop offset=".737" stop-color="#84bf78"/><stop offset=".762" stop-color="#7fbf7a"/><stop offset=".787" stop-color="#7bbf7c"/><stop offset=".812" stop-color="#78bf7d"/><stop offset=".838" stop-color="#76bf7e"/><stop offset=".863" stop-color="#75bf7e"/><stop offset=".887" stop-color="#76bf7e"/><stop offset=".912" stop-color="#77bf7e"/><stop offset=".938" stop-color="#79bf7d"/><stop offset=".962" stop-color="#7abf7c"/><stop offset=".988" stop-color="#7abf7c"/></linearGradient><linearGradient id="s3g8" x1="0" x2="1" y1="0" y2="0"><stop offset=".012" stop-color="#b2bd66"/><stop offset=".037" stop-color="#b2bd66"/><stop offset=".062" stop-color="#b8bd63"/><stop offset=".087" stop-color="#c1bc60"/><stop offset=".112" stop-color="#c5bc5e"/><stop offset=".138" stop-color="#c3bc5f"/><stop offset=".162" stop-color="#bcbd62"/><stop offset=".188" stop-color="#b2bd66"/><stop offset=".212" stop-color="#a9be69"/><stop offset=".237" stop-color="#a3be6c"/><stop offset=".262" stop-color="#a1be6c"/><stop offset=".287" stop-color="#a4be6b"/><stop offset=".312" stop-color="#a9be69"/><stop offset=".337" stop-color="#b0bd66"/><stop offset=".362" stop-color="#b8bd63"/><stop offset=".388" stop-color="#bebc61"/><stop offset=".413" stop-color="#c4bc5e"/><stop offset=".438" stop-color="#c8bc5d"/><stop offset=".462" stop-color="#cbbb5c"/><stop offset=".487" stop-color="#cbbb5c"/><stop offset=".512" stop-color="#c9bb5c"/><stop offset=".537" stop-color="#c6bc5e"/><stop offset=".562" stop-color="#c0bc60"/><stop offset=".588" stop-color="#b9bd63"/><stop offset=".613" stop-color="#b0bd66"/><stop offset=".637" stop-color="#a6be6b"/><stop offset=".662" stop-color="#9bbf6f"/><stop offset=".688" stop-color="#90bf73"/><stop offset=".713" stop-color="#87bf77"/><stop offset=".737" stop-color="#7fbf7a"/><stop offset=".762" stop-color="#79bf7d"/><stop offset=".787" stop-color="#76bf7e"/><stop offset=".812" stop-color="#74bf7f"/><stop offset=".838" stop-color="#74bf7f"/><stop offset=".863" stop-color="#74bf7f"/><stop offset=".887" stop-color="#75bf7e"/><stop offset=".912" stop-color="#77bf7e"/><stop offset=".938" stop-color="#79bf7d"/><stop offset=".962" stop-color="#7bbf7c"/><stop offset=".988" stop-color="#7bbf7c"/></linearGradient><linearGradient id="s3g9" x1="0" x2="1" y1="0" y2="0"><stop offset=".012" stop-color="#b4bd65"/><stop offset=".037" stop-color="#b4bd65"/><stop offset=".062" stop-color="#bbbd62"/><stop offset=".087" stop-color="#c4bc5e"/><stop offset=".112" stop-color="#c9bc5d"/><stop offset=".138" stop-color="#c6bc5e"/><stop offset=".162" stop-color="#bdbc61"/><stop offset=".188" stop-color="#b2bd66"/><stop offset=".212" stop-color="#a7be6a"/><stop offset=".237" stop-color="#9fbe6d"/><stop offset=".262" stop-color="#9cbf6e"/><stop offset=".287" stop-color="#9fbe6d"/><stop offset=".312" stop-color="#a5be6b"/><stop offset=".337" stop-color="#aebe67"/><stop offset=".362" stop-color="#b6bd64"/><stop offset=".388" stop-color="#bebc61"/><stop offset=".413" stop-color="#c4bc5e"/><stop offset=".438" stop-color="#c8bc5d"/><stop offset=".462" stop-color="#cbbb5c"/><stop offset=".487" stop-color="#cbbb5c"/><stop offset=".512" stop-color="#c9bb5c"/><stop offset=".537" stop-color="#c5bc5e"/><stop offset=".562" stop-color="#bfbc60"/><stop offset=".588" stop-color="#b6bd64"/><stop offset=".613" stop-color="#acbe68"/><stop offset=".637" stop-color="#9fbe6d"/><stop offset=".662" stop-color="#91bf73"/><stop offset=".688" stop-color="#83bf78"/><stop offset=".713" stop-color="#78bf7d"/><stop offset=".737" stop-color="#70bf81"/><stop offset=".762" stop-color="#6cbf83"/><stop offset=".787" stop-color="#6bbe83"/><stop offset=".812" stop-color="#6dbf82"/><stop offset=".838" stop-color="#6fbf81"/><stop offset=".863" stop-color="#72bf80"/><stop offset=".887" stop-color="#75bf7f"/><stop offset=".912" stop-color="#78bf7d"/><stop offset=".938" stop-color="#7abf7c"/><stop offset=".962" stop-color="#7cbf7c"/><stop offset=".988" stop-color="#7cbf7c"/></linearGradient><linearGradient id="s3g10" x1="0" x2="1" y1="0" y2="0"><stop offset=".012" stop-color="#abbe69"/><stop offset=".037" stop-color="#abbe69"/><stop offset=".062" stop-color="#b0bd67"/><stop offset=".087" stop-color="#b8bd63"/><stop offset=".112" stop-color="#babd62"/><stop offset=".138" stop-color="#b7bd64"/><stop offset=".162" stop-color="#afbe67"/><stop offset=".188" stop-color="#a3be6c"/><stop offset=".212" stop-color="#97bf70"/><stop offset=".237" stop-color="#8ebf74"/><stop offset=".262" stop-color="#8cbf75"/><stop offset=".287" stop-color="#8fbf74"/><stop offset=".312" stop-color="#96bf71"/><stop offset=".337" stop-color="#a0be6d"/><stop offset=".362" stop-color="#a9be69"/><stop offset=".388" stop-color="#b0bd66"/><stop offset=".413" stop-color="#b6bd64"/><stop offset=".438" stop-color="#babd63"/><stop offset=".462" stop-color="#bcbd62"/><stop offset=".487" stop-color="#bcbd62"/><stop offset=".512" stop-color="#babd62"/><stop offset=".537" stop-color="#b6bd64"/><stop offset=".562" stop-color="#b0bd66"/><stop offset=".588" stop-color="#a7be6a"/><stop offset=".613" stop-color="#9abf6f"/><stop offset=".637" stop-color="#8bbf75"/><stop offset=".662" stop-color="#7abf7c"/><stop offset=".688" stop-color="#6abe83"/><stop offset=".713" stop-color="#5ebe89"/><stop offset=".737" stop-color="#57bd8d"/><stop offset=".762" stop-color="#56bd8d"/><stop offset=".787" stop-color="#5abd8b"/><stop offset=".812" stop-color="#61be88"/><stop offset=".838" stop-color="#68be84"/><stop offset=".863" stop-color="#6fbf81"/><stop offset=".887" stop-color="#74bf7f"/><stop offset=".912" stop-color="#78bf7d"/><stop offset=".938" stop-color="#7cbf7c"/><stop offset=".962" stop-color="#7dbf7b"/><stop offset=".988" stop-color="#7dbf7b"/></linearGradient><linearGradient id="s3g11" x1="0" x2="1" y1="0" y2="0"><stop offset=".012" stop-color="#9bbf6f"/><stop offset=".037" stop-color="#9bbf6f"/><stop offset=".062" stop-color="#9ebe6d"/><stop offset=".087" stop-color="#a3be6c"/><stop offset=".112" stop-color="#a4be6b"/><stop offset=".138" stop-color="#a0be6d"/><stop offset=".162" stop-color="#97bf70"/><stop offset=".188" stop-color="#8bbf75"/><stop offset=".212" stop-color="#7fbf7a"/><stop offset=".237" stop-color="#76bf7e"/><stop offset=".262" stop-color="#73bf80"/><stop offset=".287" stop-color="#77bf7e"/><stop offset=".312" stop-color="#80bf7a"/><stop offset=".337" stop-color="#8bbf75"/><stop offset=".362" stop-color="#95bf71"/><stop offset=".388" stop-color="#9cbf6e"/><stop offset=".413" stop-color="#a1be6c"/><stop offset=".438" stop-color="#a4be6b"/><stop offset=".462" stop-color="#a5be6b"/><stop offset=".487" stop-color="#a5be6b"/><stop offset=".512" stop-color="#a3be6c"/><stop offset=".537" stop-color="#9fbe6d"/><stop offset=".562" stop-color="#99bf70"/><stop offset=".588" stop-color="#8fbf73"/><stop offset=".613" stop-color="#82bf79"/><stop offset=".637" stop-color="#70bf81"/><stop offset=".662" stop-color="#5cbe8a"/><stop offset=".688" stop-color="#4bbc93"/><stop offset=".713" stop-color="#41ba99"/><stop offset=".737" stop-color="#3dba9b"/><stop offset=".762" stop-color="#40ba99"/><stop offset=".787" stop-color="#49bc94"/><stop offset=".812" stop-color="#55bd8e"/><stop offset=".838" stop-color="#61be87"/><stop offset=".863" stop-color="#6cbf83"/><stop offset=".887" stop-color="#74bf7f"/><stop offset=".912" stop-color="#79bf7d"/><stop offset=".938" stop-color="#7dbf7b"/><stop offset=".962" stop-color="#7ebf7b"/><stop offset=".988" stop-color="#7ebf7b"/></linearGradient><linearGradient id="s3g12" x1="0" x2="1" y1="0" y2="0"><stop offset=".012" stop-color="#8fbf74"/><stop offset=".037" stop-color="#8fbf74"/><stop offset=".062" stop-color="#90bf73"/><stop offset=".087" stop-color="#91bf73"/><stop offset=".112" stop-color="#90bf73"/><stop offset=".138" stop-color="#8bbf75"/><stop offset=".162" stop-color="#82bf79"/><stop offset=".188" stop-color="#75bf7e"/><stop offset=".212" stop-color="#67be85"/><stop offset=".237" stop-color="#5ebe89"/><stop offset=".262" stop-color="#5bbd8a"/><stop offset=".287" stop-color="#61be88"/><stop offset=".312" stop-color="#6cbf83"/><stop offset=".337" stop-color="#78bf7d"/><stop offset=".362" stop-color="#83bf79"/><stop offset=".388" stop-color="#8abf76"/><stop offset=".413" stop-color="#8dbf74"/><stop offset=".438" stop-color="#8fbf74"/><stop offset=".462" stop-color="#8fbf74"/><stop offset=".487" stop-color="#8ebf74"/><stop offset=".512" stop-color="#8cbf75"/><stop offset=".537" stop-color="#89bf76"/><stop offset=".562" stop-color="#83bf79"/><stop offset=".588" stop-color="#79bf7d"/><stop offset=".613" stop-color="#6abe83"/><stop offset=".637" stop-color="#57bd8c"/><stop offset=".662" stop-color="#44bb97"/><stop offset=".688" stop-color="#35b8a0"/><stop offset=".713" stop-color="#2cb7a5"/><stop offset=".737" stop-color="#2bb6a6"/><stop offset=".762" stop-color="#30b7a2"/><stop offset=".787" stop-color="#3cba9b"/><stop offset=".812" stop-color="#4cbc92"/><stop offset=".838" stop-color="#5cbe8a"/><stop offset=".863" stop-color="#6abe83"/><stop offset=".887" stop-color="#74bf7f"/><stop offset=".912" stop-color="#7abf7c"/><stop offset=".938" stop-color="#7ebf7b"/><stop offset=".962" stop-color="#80bf7a"/><stop offset=".988" stop-color="#80bf7a"/></linearGradient><linearGradient id="s3g13" x1="0" x2="1" y1="0" y2="0"><stop offset=".012" stop-color="#88bf76"/><stop offset=".037" stop-color="#88bf76"/><stop offset=".062" stop-color="#88bf76"/><stop offset=".087" stop-color="#88bf77"/><stop offset=".112" stop-color="#85bf78"/><stop offset=".138" stop-color="#7fbf7a"/><stop offset=".162" stop-color="#75bf7e"/><stop offset=".188" stop-color="#68be84"/><stop offset=".212" stop-color="#5abd8b"/><stop offset=".237" stop-color="#51bc90"/><stop offset=".262" stop-color="#4fbc91"/><stop offset=".287" stop-color="#55bd8d"/><stop offset=".312" stop-color="#61be87"/><stop offset=".337" stop-color="#6ebf82"/><stop offset=".362" stop-color="#78bf7d"/><stop offset=".388" stop-color="#7ebf7b"/><stop offset=".413" stop-color="#81bf7a"/><stop offset=".438" stop-color="#81bf7a"/><stop offset=".462" stop-color="#80bf7a"/><stop offset=".487" stop-color="#7ebf7b"/><stop offset=".512" stop-color="#7cbf7b"/><stop offset=".537" stop-color="#79bf7d"/><stop offset=".562" stop-color="#73bf7f"/><stop offset=".588" stop-color="#6abe83"/><stop offset=".613" stop-color="#5bbe8a"/><stop offset=".637" stop-color="#49bc94"/><stop offset=".662" stop-color="#38b99e"/><stop offset=".688" stop-color="#2bb6a6"/><stop offset=".713" stop-color="#23b5ab"/><stop offset=".737" stop-color="#23b5ab"/><stop offset=".762" stop-color="#2ab6a6"/><stop offset=".787" stop-color="#38b99e"/><stop offset=".812" stop-color="#49bc94"/><stop offset=".838" stop-color="#5bbd8a"/><stop offset=".863" stop-color="#6bbe83"/><stop offset=".887" stop-color="#75bf7e"/><stop offset=".912" stop-color="#7cbf7c"/><stop offset=".938" stop-color="#80bf7a"/><stop offset=".962" stop-color="#81bf79"/><stop offset=".988" stop-color="#81bf79"/></linearGradient><linearGradient id="s3g14" x1="0" x2="1" y1="0" y2="0"><stop offset=".012" stop-color="#86bf77"/><stop offset=".037" stop-color="#86bf77"/><stop offset=".062" stop-color="#86bf77"/><stop offset=".087" stop-color="#84bf78"/><stop offset=".112" stop-color="#82bf79"/><stop offset=".138" stop-color="#7cbf7c"/><stop offset=".162" stop-color="#72bf80"/><stop offset=".188" stop-color="#66be85"/><stop offset=".212" stop-color="#5abd8b"/><stop offset=".237" stop-color="#52bd8f"/><stop offset=".262" stop-color="#52bd8f"/><stop offset=".287" stop-color="#58bd8c"/><stop offset=".312" stop-color="#63be87"/><stop offset=".337" stop-color="#6fbf81"/><stop offset=".362" stop-color="#77bf7e"/><stop offset=".388" stop-color="#7bbf7c"/><stop offset=".413" stop-color="#7cbf7b"/><stop offset=".438" stop-color="#7bbf7c"/><stop offset=".462" stop-color="#7abf7d"/><stop offset=".487" stop-color="#78bf7d"/><stop offset=".512" stop-color="#76bf7e"/><stop offset=".537" stop-color="#73bf7f"/><stop offset=".562" stop-color="#6ebf82"/><stop offset=".588" stop-color="#65be86"/><stop offset=".613" stop-color="#58bd8c"/><stop offset=".637" stop-color="#48bb94"/><stop offset=".662" stop-color="#38b99e"/><stop offset=".688" stop-color="#2cb7a5"/><stop offset=".713" stop-color="#26b5a9"/><stop offset=".737" stop-color="#27b5a8"/><stop offset=".762" stop-color="#2fb7a3"/><stop offset=".787" stop-color="#3dba9b"/><stop offset=".812" stop-color="#4fbc91"/><stop offset=".838" stop-color="#61be88"/><stop offset=".863" stop-color="#70bf81"/><stop offset=".887" stop-color="#79bf7d"/><stop offset=".912" stop-color="#7fbf7a"/><stop offset=".938" stop-color="#82bf79"/><stop offset=".962" stop-color="#83bf79"/><stop offset=".988" stop-color="#83bf79"/></linearGradient><linearGradient id="s3g15" x1="0" x2="1" y1="0" y2="0"><stop offset=".012" stop-color="#86bf77"/><stop offset=".037" stop-color="#86bf77"/><stop offset=".062" stop-color="#86bf78"/><stop offset=".087" stop-color="#85bf78"/><stop offset=".112" stop-color="#82bf79"/><stop offset=".138" stop-color="#7ebf7b"/><stop offset=".162" stop-color="#77bf7e"/><stop offset=".188" stop-color="#6ebf81"/><stop offset=".212" stop-color="#66be85"/><stop offset=".237" stop-color="#61be88"/><stop offset=".262" stop-color="#61be87"/><stop offset=".287" stop-color="#68be84"/><stop offset=".312" stop-color="#71bf80"/><stop offset=".337" stop-color="#79bf7d"/><stop offset=".362" stop-color="#7fbf7a"/><stop offset=".388" stop-color="#82bf79"/><stop offset=".413" stop-color="#82bf79"/><stop offset=".438" stop-color="#80bf7a"/><stop offset=".462" stop-color="#7ebf7b"/><stop offset=".487" stop-color="#7cbf7c"/><stop offset=".512" stop-color="#7abf7d"/><stop offset=".537" stop-color="#77bf7e"/><stop offset=".562" stop-color="#72bf80"/><stop offset=".588" stop-color="#6abe83"/><stop offset=".613" stop-color="#5fbe88"/><stop offset=".637" stop-color="#51bd90"/><stop offset=".662" stop-color="#43bb97"/><stop offset=".688" stop-color="#38b99e"/><stop offset=".713" stop-color="#33b8a1"/><stop offset=".737" stop-color="#35b89f"/><stop offset=".762" stop-color="#3eba9a"/><stop offset=".787" stop-color="#4ebc91"/><stop offset=".812" stop-color="#60be88"/><stop offset=".838" stop-color="#72bf80"/><stop offset=".863" stop-color="#7ebf7b"/><stop offset=".887" stop-color="#85bf78"/><stop offset=".912" stop-color="#89bf76"/><stop offset=".938" stop-color="#89bf76"/><stop offset=".962" stop-color="#89bf76"/><stop offset=".988" stop-color="#89bf76"/></linearGradient><linearGradient id="s3g16" x1="0" x2="1" y1="0" y2="0"><stop offset=".012" stop-color="#87bf77"/><stop offset=".037" stop-color="#87bf77"/><stop offset=".062" stop-color="#87bf77"/><stop offset=".087" stop-color="#87bf77"/><stop offset=".112" stop-color="#86bf77"/><stop offset=".138" stop-color="#84bf78"/><stop offset=".162" stop-color="#81bf79"/><stop offset=".188" stop-color="#7dbf7b"/><stop offset=".212" stop-color="#7abf7c"/><stop offset=".237" stop-color="#79bf7d"/><stop offset=".262" stop-color="#7bbf7c"/><stop offset=".287" stop-color="#81bf7a"/><stop offset=".312" stop-color="#88bf77"/><stop offset=".337" stop-color="#8dbf74"/><stop offset=".362" stop-color="#91bf73"/><stop offset=".388" stop-color="#92bf72"/><stop offset=".413" stop-color="#92bf72"/><stop offset=".438" stop-color="#90bf73"/><stop offset=".462" stop-color="#8dbf74"/><stop offset=".487" stop-color="#8bbf75"/><stop offset=".512" stop-color="#87bf77"/><stop offset=".537" stop-color="#84bf78"/><stop offset=".562" stop-color="#7fbf7a"/><stop offset=".588" stop-color="#77bf7d"/><stop offset=".613" stop-color="#6ebf82"/><stop offset=".637" stop-color="#62be87"/><stop offset=".662" stop-color="#56bd8d"/><stop offset=".688" stop-color="#4dbc91"/><stop offset=".713" stop-color="#4bbc93"/><stop offset=".737" stop-color="#4fbc91"/><stop offset=".762" stop-color="#5cbe8a"/><stop offset=".787" stop-color="#6fbf81"/><stop offset=".812" stop-color="#82bf79"/><stop offset=".838" stop-color="#92bf72"/><stop offset=".863" stop-color="#9cbf6e"/><stop offset=".887" stop-color="#a0be6d"/><stop offset=".912" stop-color="#9fbe6d"/><stop offset=".938" stop-color="#9abf6f"/><stop offset=".962" stop-color="#97bf71"/><stop offset=".988" stop-color="#97bf71"/></linearGradient><linearGradient id="s3g17" x1="0" x2="1" y1="0" y2="0"><stop offset=".012" stop-color="#89bf76"/><stop offset=".037" stop-color="#89bf76"/><stop offset=".062" stop-color="#89bf76"/><stop offset=".087" stop-color="#8bbf75"/><stop offset=".112" stop-color="#8cbf75"/><stop offset=".138" stop-color="#8dbf74"/><stop offset=".162" stop-color="#8ebf74"/><stop offset=".188" stop-color="#8fbf73"/><stop offset=".212" stop-color="#91bf73"/><stop offset=".237" stop-color="#94bf72"/><stop offset=".262" stop-color="#99bf70"/><stop offset=".287" stop-color="#9fbe6d"/><stop offset=".312" stop-color="#a4be6b"/><stop offset=".337" stop-color="#a8be69"/><stop offset=".362" stop-color="#abbe68"/><stop offset=".388" stop-color="#acbe68"/><stop offset=".413" stop-color="#abbe69"/><stop offset=".438" stop-color="#a8be6a"/><stop offset=".462" stop-color="#a4be6b"/><stop offset=".487" stop-color="#a0be6d"/><stop offset=".512" stop-color="#9bbf6f"/><stop offset=".537" stop-color="#96bf71"/><stop offset=".562" stop-color="#8fbf74"/><stop offset=".588" stop-color="#88bf77"/><stop offset=".613" stop-color="#7fbf7a"/><stop offset=".637" stop-color="#75bf7e"/><stop offset=".662" stop-color="#6dbf82"/><stop offset=".688" stop-color="#67be85"/><stop offset=".713" stop-color="#67be85"/><stop offset=".737" stop-color="#70bf81"/><stop offset=".762" stop-color="#80bf7a"/><stop offset=".787" stop-color="#95bf71"/><stop offset=".812" stop-color="#aabe69"/><stop offset=".838" stop-color="#bbbd62"/><stop offset=".863" stop-color="#c5bc5e"/><stop offset=".887" stop-color="#c6bc5e"/><stop offset=".912" stop-color="#bfbc60"/><stop offset=".938" stop-color="#b3bd65"/><stop offset=".962" stop-color="#acbe68"/><stop offset=".988" stop-color="#acbe68"/></linearGradient><linearGradient id="s3g18" x1="0" x2="1" y1="0" y2="0"><stop offset=".012" stop-color="#8bbf75"/><stop offset=".037" stop-color="#8bbf75"/><stop offset=".062" stop-color="#8cbf75"/><stop offset=".087" stop-color="#8fbf74"/><stop offset=".112" stop-color="#93bf72"/><stop offset=".138" stop-color="#96bf71"/><stop offset=".162" stop-color="#9bbf6f"/><stop offset=".188" stop-color="#a0be6d"/><stop offset=".212" stop-color="#a5be6b"/><stop offset=".237" stop-color="#acbe68"/><stop offset=".262" stop-color="#b2bd66"/><stop offset=".287" stop-color="#b9bd63"/><stop offset=".312" stop-color="#bfbc61"/><stop offset=".337" stop-color="#c3bc5f"/><stop offset=".362" stop-color="#c5bc5e"/><stop offset=".388" stop-color="#c5bc5e"/><stop offset=".413" stop-color="#c4bc5f"/><stop offset=".438" stop-color="#c0bc60"/><stop offset=".462" stop-color="#bbbd62"/><stop offset=".487" stop-color="#b5bd64"/><stop offset=".512" stop-color="#aebe67"/><stop offset=".537" stop-color="#a7be6a"/><stop offset=".562" stop-color="#9fbe6d"/><stop offset=".588" stop-color="#97bf70"/><stop offset=".613" stop-color="#8ebf74"/><stop offset=".637" stop-color="#86bf77"/><stop offset=".662" stop-color="#7fbf7a"/><stop offset=".688" stop-color="#7cbf7c"/><stop offset=".713" stop-color="#7ebf7b"/><stop offset=".737" stop-color="#87bf77"/><stop offset=".762" stop-color="#98bf70"/><stop offset=".787" stop-color="#aebe67"/><stop offset=".812" stop-color="#c4bc5f"/><stop offset=".838" stop-color="#d6ba57"/><stop offset=".863" stop-color="#e0ba52"/><stop offset=".887" stop-color="#e0ba52"/><stop offset=".912" stop-color="#d6ba57"/><stop offset=".938" stop-color="#c6bc5e"/><stop offset=".962" stop-color="#bdbd61"/><stop offset=".988" stop-color="#bdbd61"/></linearGradient><linearGradient id="s3g19" x1="0" x2="1" y1="0" y2="0"><stop offset=".012" stop-color="#8dbf75"/><stop offset=".037" stop-color="#8dbf75"/><stop offset=".062" stop-color="#8ebf74"/><stop offset=".087" stop-color="#92bf73"/><stop offset=".112" stop-color="#96bf71"/><stop offset=".138" stop-color="#9bbf6f"/><stop offset=".162" stop-color="#a1be6c"/><stop offset=".188" stop-color="#a8be6a"/><stop offset=".212" stop-color="#b0bd67"/><stop offset=".237" stop-color="#b7bd63"/><stop offset=".262" stop-color="#bfbc60"/><stop offset=".287" stop-color="#c6bc5e"/><stop offset=".312" stop-color="#ccbb5b"/><stop offset=".337" stop-color="#d0bb59"/><stop offset=".362" stop-color="#d3bb58"/><stop offset=".388" stop-color="#d3bb58"/><stop offset=".413" stop-color="#d0bb59"/><stop offset=".438" stop-color="#ccbb5b"/><stop offset=".462" stop-color="#c7bc5d"/><stop offset=".487" stop-color="#c0bc60"/><stop offset=".512" stop-color="#b8bd63"/><stop offset=".537" stop-color="#b0bd67"/><stop offset=".562" stop-color="#a7be6a"/><stop offset=".588" stop-color="#9fbe6d"/><stop offset=".613" stop-color="#97bf70"/><stop offset=".637" stop-color="#90bf73"/><stop offset=".662" stop-color="#8abf76"/><stop offset=".688" stop-color="#87bf77"/><stop offset=".713" stop-color="#88bf76"/><stop offset=".737" stop-color="#90bf73"/><stop offset=".762" stop-color="#9dbe6e"/><stop offset=".787" stop-color="#aebe67"/><stop offset=".812" stop-color="#c1bc60"/><stop offset=".838" stop-color="#d1bb59"/><stop offset=".863" stop-color="#daba55"/><stop offset=".887" stop-color="#daba55"/><stop offset=".912" stop-color="#d1bb59"/><stop offset=".938" stop-color="#c2bc5f"/><stop offset=".962" stop-color="#b9bd63"/><stop offset=".988" stop-color="#b9bd63"/></linearGradient><linearGradient id="s3g20" x1="0" x2="1" y1="0" y2="0"><stop offset=".012" stop-color="#8cbf75"/><stop offset=".037" stop-color="#8cbf75"/><stop offset=".062" stop-color="#8ebf74"/><stop offset=".087" stop-color="#91bf73"/><stop offset=".112" stop-color="#96bf71"/><stop offset=".138" stop-color="#9bbf6f"/><stop offset=".162" stop-color="#a1be6c"/><stop offset=".188" stop-color="#a8be6a"/><stop offset=".212" stop-color="#b0bd67"/><stop offset=".237" stop-color="#b7bd63"/><stop offset=".262" stop-color="#bfbc60"/><stop offset=".287" stop-color="#c6bc5e"/><stop offset=".312" stop-color="#cbbb5b"/><stop offset=".337" stop-color="#cfbb5a"/><stop offset=".362" stop-color="#d2bb59"/><stop offset=".388" stop-color="#d2bb59"/><stop offset=".413" stop-color="#cfbb5a"/><stop offset=".438" stop-color="#cbbb5b"/><stop offset=".462" stop-color="#c6bc5e"/><stop offset=".487" stop-color="#bfbc60"/><stop offset=".512" stop-color="#b7bd63"/><stop offset=".537" stop-color="#afbe67"/><stop offset=".562" stop-color="#a7be6a"/><stop offset=".588" stop-color="#9fbe6d"/><stop offset=".613" stop-color="#98bf70"/><stop offset=".637" stop-color="#91bf73"/><stop offset=".662" stop-color="#8cbf75"/><stop offset=".688" stop-color="#89bf76"/><stop offset=".713" stop-color="#8abf76"/><stop offset=".737" stop-color="#8fbf73"/><stop offset=".762" stop-color="#9abf6f"/><stop offset=".787" stop-color="#a8be6a"/><stop offset=".812" stop-color="#b7bd64"/><stop offset=".838" stop-color="#c4bc5f"/><stop offset=".863" stop-color="#cbbb5b"/><stop offset=".887" stop-color="#cbbb5b"/><stop offset=".912" stop-color="#c4bc5e"/><stop offset=".938" stop-color="#b8bd63"/><stop offset=".962" stop-color="#b0bd66"/><stop offset=".988" stop-color="#b0bd66"/></linearGradient><linearGradient id="s3g21" x1="0" x2="1" y1="0" y2="0"><stop offset=".012" stop-color="#8cbf75"/><stop offset=".037" stop-color="#8cbf75"/><stop offset=".062" stop-color="#8ebf74"/><stop offset=".087" stop-color="#91bf73"/><stop offset=".112" stop-color="#96bf71"/><stop offset=".138" stop-color="#9bbf6f"/><stop offset=".162" stop-color="#a1be6c"/><stop offset=".188" stop-color="#a8be6a"/><stop offset=".212" stop-color="#b0bd67"/><stop offset=".237" stop-color="#b7bd63"/><stop offset=".262" stop-color="#bfbc60"/><stop offset=".287" stop-color="#c6bc5e"/><stop offset=".312" stop-color="#cbbb5b"/><stop offset=".337" stop-color="#cfbb5a"/><stop offset=".362" stop-color="#d2bb59"/><stop offset=".388" stop-color="#d2bb59"/><stop offset=".413" stop-color="#cfbb5a"/><stop offset=".438" stop-color="#cbbb5b"/><stop offset=".462" stop-color="#c6bc5e"/><stop offset=".487" stop-color="#bfbc60"/><stop offset=".512" stop-color="#b7bd63"/><stop offset=".537" stop-color="#afbe67"/><stop offset=".562" stop-color="#a7be6a"/><stop offset=".588" stop-color="#9fbe6d"/><stop offset=".613" stop-color="#98bf70"/><stop offset=".637" stop-color="#91bf73"/><stop offset=".662" stop-color="#8cbf75"/><stop offset=".688" stop-color="#89bf76"/><stop offset=".713" stop-color="#8abf76"/><stop offset=".737" stop-color="#8fbf73"/><stop offset=".762" stop-color="#9abf6f"/><stop offset=".787" stop-color="#a8be6a"/><stop offset=".812" stop-color="#b7bd64"/><stop offset=".838" stop-color="#c4bc5f"/><stop offset=".863" stop-color="#cbbb5b"/><stop offset=".887" stop-color="#cbbb5b"/><stop offset=".912" stop-color="#c4bc5e"/><stop offset=".938" stop-color="#b8bd63"/><stop offset=".962" stop-color="#b0bd66"/><stop offset=".988" stop-color="#b0bd66"/></linearGradient></defs>
<g filter="url(#eb)"><g clip-path="url(#cs3)"><g transform="matrix(0.95936,-0.25182,-0.95467,-0.36770,402.525,750.800)" filter="url(#vb)"><rect x="-30.56" y="-28.56" width="611.11" height="14.88" fill="url(#s3g0)"/><rect x="-30.56" y="-14.28" width="611.11" height="14.88" fill="url(#s3g1)"/><rect x="-30.56" y="0.00" width="611.11" height="14.88" fill="url(#s3g2)"/><rect x="-30.56" y="14.28" width="611.11" height="14.88" fill="url(#s3g3)"/><rect x="-30.56" y="28.56" width="611.11" height="14.88" fill="url(#s3g4)"/><rect x="-30.56" y="42.83" width="611.11" height="14.88" fill="url(#s3g5)"/><rect x="-30.56" y="57.11" width="611.11" height="14.88" fill="url(#s3g6)"/><rect x="-30.56" y="71.39" width="611.11" height="14.88" fill="url(#s3g7)"/><rect x="-30.56" y="85.67" width="611.11" height="14.88" fill="url(#s3g8)"/><rect x="-30.56" y="99.94" width="611.11" height="14.88" fill="url(#s3g9)"/><rect x="-30.56" y="114.22" width="611.11" height="14.88" fill="url(#s3g10)"/><rect x="-30.56" y="128.50" width="611.11" height="14.88" fill="url(#s3g11)"/><rect x="-30.56" y="142.78" width="611.11" height="14.88" fill="url(#s3g12)"/><rect x="-30.56" y="157.06" width="611.11" height="14.88" fill="url(#s3g13)"/><rect x="-30.56" y="171.33" width="611.11" height="14.88" fill="url(#s3g14)"/><rect x="-30.56" y="185.61" width="611.11" height="14.88" fill="url(#s3g15)"/><rect x="-30.56" y="199.89" width="611.11" height="14.88" fill="url(#s3g16)"/><rect x="-30.56" y="214.17" width="611.11" height="14.88" fill="url(#s3g17)"/><rect x="-30.56" y="228.44" width="611.11" height="14.88" fill="url(#s3g18)"/><rect x="-30.56" y="242.72" width="611.11" height="14.88" fill="url(#s3g19)"/><rect x="-30.56" y="257.00" width="611.11" height="14.88" fill="url(#s3g20)"/><rect x="-30.56" y="271.28" width="611.11" height="14.88" fill="url(#s3g21)"/></g></g></g>
<clipPath id="cs4"><polygon points="403.7,918.6 930.0,778.8 685.0,685.5 157.0,822.8"/></clipPath>
<defs><linearGradient id="s4g0" x1="0" x2="1" y1="0" y2="0"><stop offset=".012" stop-color="#47bb95"/><stop offset=".037" stop-color="#47bb95"/><stop offset=".062" stop-color="#46bb96"/><stop offset=".087" stop-color="#44bb97"/><stop offset=".112" stop-color="#40ba99"/><stop offset=".138" stop-color="#3cba9b"/><stop offset=".162" stop-color="#38b99e"/><stop offset=".188" stop-color="#33b8a1"/><stop offset=".212" stop-color="#2fb7a3"/><stop offset=".237" stop-color="#2db7a4"/><stop offset=".262" stop-color="#2cb7a5"/><stop offset=".287" stop-color="#2eb7a4"/><stop offset=".312" stop-color="#31b8a2"/><stop offset=".337" stop-color="#35b89f"/><stop offset=".362" stop-color="#3ab99d"/><stop offset=".388" stop-color="#3eba9a"/><stop offset=".413" stop-color="#42bb98"/><stop offset=".438" stop-color="#46bb96"/><stop offset=".462" stop-color="#48bb94"/><stop offset=".487" stop-color="#4abc93"/><stop offset=".512" stop-color="#4cbc92"/><stop offset=".537" stop-color="#4dbc92"/><stop offset=".562" stop-color="#4dbc92"/><stop offset=".588" stop-color="#4cbc92"/><stop offset=".613" stop-color="#4bbc93"/><stop offset=".637" stop-color="#49bb94"/><stop offset=".662" stop-color="#46bb95"/><stop offset=".688" stop-color="#45bb96"/><stop offset=".713" stop-color="#44bb97"/><stop offset=".737" stop-color="#43bb97"/><stop offset=".762" stop-color="#44bb97"/><stop offset=".787" stop-color="#45bb96"/><stop offset=".812" stop-color="#46bb96"/><stop offset=".838" stop-color="#47bb95"/><stop offset=".863" stop-color="#47bb95"/><stop offset=".887" stop-color="#48bb94"/><stop offset=".912" stop-color="#48bb94"/><stop offset=".938" stop-color="#49bb94"/><stop offset=".962" stop-color="#49bb94"/><stop offset=".988" stop-color="#49bb94"/></linearGradient><linearGradient id="s4g1" x1="0" x2="1" y1="0" y2="0"><stop offset=".012" stop-color="#47bb95"/><stop offset=".037" stop-color="#47bb95"/><stop offset=".062" stop-color="#46bb96"/><stop offset=".087" stop-color="#44bb97"/><stop offset=".112" stop-color="#40ba99"/><stop offset=".138" stop-color="#3cba9b"/><stop offset=".162" stop-color="#38b99e"/><stop offset=".188" stop-color="#33b8a1"/><stop offset=".212" stop-color="#2fb7a3"/><stop offset=".237" stop-color="#2db7a4"/><stop offset=".262" stop-color="#2cb7a5"/><stop offset=".287" stop-color="#2eb7a4"/><stop offset=".312" stop-color="#31b8a2"/><stop offset=".337" stop-color="#35b89f"/><stop offset=".362" stop-color="#3ab99d"/><stop offset=".388" stop-color="#3eba9a"/><stop offset=".413" stop-color="#42bb98"/><stop offset=".438" stop-color="#46bb96"/><stop offset=".462" stop-color="#48bb94"/><stop offset=".487" stop-color="#4abc93"/><stop offset=".512" stop-color="#4cbc92"/><stop offset=".537" stop-color="#4dbc92"/><stop offset=".562" stop-color="#4dbc92"/><stop offset=".588" stop-color="#4cbc92"/><stop offset=".613" stop-color="#4bbc93"/><stop offset=".637" stop-color="#49bb94"/><stop offset=".662" stop-color="#46bb95"/><stop offset=".688" stop-color="#45bb96"/><stop offset=".713" stop-color="#44bb97"/><stop offset=".737" stop-color="#43bb97"/><stop offset=".762" stop-color="#44bb97"/><stop offset=".787" stop-color="#45bb96"/><stop offset=".812" stop-color="#46bb96"/><stop offset=".838" stop-color="#47bb95"/><stop offset=".863" stop-color="#47bb95"/><stop offset=".887" stop-color="#48bb94"/><stop offset=".912" stop-color="#48bb94"/><stop offset=".938" stop-color="#49bb94"/><stop offset=".962" stop-color="#49bb94"/><stop offset=".988" stop-color="#49bb94"/></linearGradient><linearGradient id="s4g2" x1="0" x2="1" y1="0" y2="0"><stop offset=".012" stop-color="#45bb96"/><stop offset=".037" stop-color="#45bb96"/><stop offset=".062" stop-color="#44bb97"/><stop offset=".087" stop-color="#41ba99"/><stop offset=".112" stop-color="#3cba9b"/><stop offset=".138" stop-color="#35b89f"/><stop offset=".162" stop-color="#2fb7a3"/><stop offset=".188" stop-color="#28b6a8"/><stop offset=".212" stop-color="#23b4ab"/><stop offset=".237" stop-color="#1fb4ad"/><stop offset=".262" stop-color="#1fb3ae"/><stop offset=".287" stop-color="#20b4ad"/><stop offset=".312" stop-color="#25b5aa"/><stop offset=".337" stop-color="#2bb6a6"/><stop offset=".362" stop-color="#32b8a1"/><stop offset=".388" stop-color="#39b99d"/><stop offset=".413" stop-color="#3fba9a"/><stop offset=".438" stop-color="#44bb97"/><stop offset=".462" stop-color="#49bc94"/><stop offset=".487" stop-color="#4dbc92"/><stop offset=".512" stop-color="#50bc90"/><stop offset=".537" stop-color="#53bd8f"/><stop offset=".562" stop-color="#54bd8e"/><stop offset=".588" stop-color="#53bd8f"/><stop offset=".613" stop-color="#4fbc90"/><stop offset=".637" stop-color="#4bbc93"/><stop offset=".662" stop-color="#47bb95"/><stop offset=".688" stop-color="#43bb97"/><stop offset=".713" stop-color="#41ba99"/><stop offset=".737" stop-color="#40ba99"/><stop offset=".762" stop-color="#41ba99"/><stop offset=".787" stop-color="#42bb98"/><stop offset=".812" stop-color="#43bb97"/><stop offset=".838" stop-color="#45bb96"/><stop offset=".863" stop-color="#46bb95"/><stop offset=".887" stop-color="#47bb95"/><stop offset=".912" stop-color="#48bb94"/><stop offset=".938" stop-color="#48bb94"/><stop offset=".962" stop-color="#49bb94"/><stop offset=".988" stop-color="#49bb94"/></linearGradient><linearGradient id="s4g3" x1="0" x2="1" y1="0" y2="0"><stop offset=".012" stop-color="#42bb98"/><stop offset=".037" stop-color="#42bb98"/><stop offset=".062" stop-color="#3fba99"/><stop offset=".087" stop-color="#39b99d"/><stop offset=".112" stop-color="#30b7a3"/><stop offset=".138" stop-color="#25b5aa"/><stop offset=".162" stop-color="#19b2b1"/><stop offset=".188" stop-color="#0fafb9"/><stop offset=".212" stop-color="#09abbe"/><stop offset=".237" stop-color="#07a9c2"/><stop offset=".262" stop-color="#07a9c3"/><stop offset=".287" stop-color="#08aac1"/><stop offset=".312" stop-color="#0cadbc"/><stop offset=".337" stop-color="#14b0b5"/><stop offset=".362" stop-color="#20b4ad"/><stop offset=".388" stop-color="#2cb7a5"/><stop offset=".413" stop-color="#38b99e"/><stop offset=".438" stop-color="#44bb97"/><stop offset=".462" stop-color="#4fbc90"/><stop offset=".487" stop-color="#5bbe8a"/><stop offset=".512" stop-color="#67be85"/><stop offset=".537" stop-color="#70bf81"/><stop offset=".562" stop-color="#75bf7f"/><stop offset=".588" stop-color="#73bf80"/><stop offset=".613" stop-color="#6abe83"/><stop offset=".637" stop-color="#5cbe8a"/><stop offset=".662" stop-color="#4ebc91"/><stop offset=".688" stop-color="#42bb98"/><stop offset=".713" stop-color="#3bb99c"/><stop offset=".737" stop-color="#37b99e"/><stop offset=".762" stop-color="#38b99e"/><stop offset=".787" stop-color="#3ab99c"/><stop offset=".812" stop-color="#3dba9a"/><stop offset=".838" stop-color="#41ba99"/><stop offset=".863" stop-color="#44bb97"/><stop offset=".887" stop-color="#46bb96"/><stop offset=".912" stop-color="#47bb95"/><stop offset=".938" stop-color="#48bb94"/><stop offset=".962" stop-color="#48bb94"/><stop offset=".988" stop-color="#48bb94"/></linearGradient><linearGradient id="s4g4" x1="0" x2="1" y1="0" y2="0"><stop offset=".012" stop-color="#3fba9a"/><stop offset=".037" stop-color="#3fba9a"/><stop offset=".062" stop-color="#3cba9c"/><stop offset=".087" stop-color="#32b8a1"/><stop offset=".112" stop-color="#26b5a9"/><stop offset=".138" stop-color="#18b1b2"/><stop offset=".162" stop-color="#0bacbd"/><stop offset=".188" stop-color="#06a7c6"/><stop offset=".212" stop-color="#06a1cc"/><stop offset=".237" stop-color="#079dcf"/><stop offset=".262" stop-color="#079cd0"/><stop offset=".287" stop-color="#069fce"/><stop offset=".312" stop-color="#06a5c9"/><stop offset=".337" stop-color="#08abc0"/><stop offset=".362" stop-color="#14b0b5"/><stop offset=".388" stop-color="#25b5a9"/><stop offset=".413" stop-color="#38b99e"/><stop offset=".438" stop-color="#4cbc92"/><stop offset=".462" stop-color="#63be87"/><stop offset=".487" stop-color="#7abf7c"/><stop offset=".512" stop-color="#90bf73"/><stop offset=".537" stop-color="#a0be6d"/><stop offset=".562" stop-color="#a8be6a"/><stop offset=".588" stop-color="#a6be6b"/><stop offset=".613" stop-color="#97bf70"/><stop offset=".637" stop-color="#7fbf7a"/><stop offset=".662" stop-color="#61be88"/><stop offset=".688" stop-color="#47bb95"/><stop offset=".713" stop-color="#37b99e"/><stop offset=".737" stop-color="#30b7a3"/><stop offset=".762" stop-color="#2fb7a3"/><stop offset=".787" stop-color="#32b8a1"/><stop offset=".812" stop-color="#37b99e"/><stop offset=".838" stop-color="#3dba9b"/><stop offset=".863" stop-color="#41bb98"/><stop offset=".887" stop-color="#45bb96"/><stop offset=".912" stop-color="#47bb95"/><stop offset=".938" stop-color="#49bb94"/><stop offset=".962" stop-color="#49bc94"/><stop offset=".988" stop-color="#49bc94"/></linearGradient><linearGradient id="s4g5" x1="0" x2="1" y1="0" y2="0"><stop offset=".012" stop-color="#3fba99"/><stop offset=".037" stop-color="#3fba99"/><stop offset=".062" stop-color="#3cba9b"/><stop offset=".087" stop-color="#33b8a1"/><stop offset=".112" stop-color="#26b5a9"/><stop offset=".138" stop-color="#18b1b3"/><stop offset=".162" stop-color="#0aacbd"/><stop offset=".188" stop-color="#06a6c7"/><stop offset=".212" stop-color="#06a0cd"/><stop offset=".237" stop-color="#079bd0"/><stop offset=".262" stop-color="#089bd0"/><stop offset=".287" stop-color="#069fce"/><stop offset=".312" stop-color="#06a5c8"/><stop offset=".337" stop-color="#0aacbd"/><stop offset=".362" stop-color="#1cb3af"/><stop offset=".388" stop-color="#33b8a0"/><stop offset=".413" stop-color="#4dbc91"/><stop offset=".438" stop-color="#69be84"/><stop offset=".462" stop-color="#84bf78"/><stop offset=".487" stop-color="#9ebe6e"/><stop offset=".512" stop-color="#b5bd64"/><stop offset=".537" stop-color="#c7bc5d"/><stop offset=".562" stop-color="#cfbb5a"/><stop offset=".588" stop-color="#cabb5c"/><stop offset=".613" stop-color="#b7bd64"/><stop offset=".637" stop-color="#99bf70"/><stop offset=".662" stop-color="#73bf7f"/><stop offset=".688" stop-color="#4ebc91"/><stop offset=".713" stop-color="#37b99e"/><stop offset=".737" stop-color="#2db7a4"/><stop offset=".762" stop-color="#2bb6a5"/><stop offset=".787" stop-color="#2fb7a3"/><stop offset=".812" stop-color="#36b89f"/><stop offset=".838" stop-color="#3dba9b"/><stop offset=".863" stop-color="#44bb97"/><stop offset=".887" stop-color="#49bb94"/><stop offset=".912" stop-color="#4bbc93"/><stop offset=".938" stop-color="#4cbc92"/><stop offset=".962" stop-color="#4cbc92"/><stop offset=".988" stop-color="#4cbc92"/></linearGradient><linearGradient id="s4g6" x1="0" x2="1" y1="0" y2="0"><stop offset=".012" stop-color="#48bb94"/><stop offset=".037" stop-color="#48bb94"/><stop offset=".062" stop-color="#48bb95"/><stop offset=".087" stop-color="#44bb97"/><stop offset=".112" stop-color="#3dba9b"/><stop offset=".138" stop-color="#30b7a2"/><stop offset=".162" stop-color="#21b4ac"/><stop offset=".188" stop-color="#13b0b6"/><stop offset=".212" stop-color="#0aacbe"/><stop offset=".237" stop-color="#07a9c2"/><stop offset=".262" stop-color="#07aac1"/><stop offset=".287" stop-color="#0cadbc"/><stop offset=".312" stop-color="#19b2b2"/><stop offset=".337" stop-color="#2fb7a3"/><stop offset=".362" stop-color="#4dbc91"/><stop offset=".388" stop-color="#6ebf82"/><stop offset=".413" stop-color="#89bf76"/><stop offset=".438" stop-color="#9fbe6d"/><stop offset=".462" stop-color="#b2bd66"/><stop offset=".487" stop-color="#c3bc5f"/><stop offset=".512" stop-color="#d1bb59"/><stop offset=".537" stop-color="#daba55"/><stop offset=".562" stop-color="#dbba55"/><stop offset=".588" stop-color="#d1bb59"/><stop offset=".613" stop-color="#bcbd62"/><stop offset=".637" stop-color="#9cbf6e"/><stop offset=".662" stop-color="#77bf7e"/><stop offset=".688" stop-color="#53bd8f"/><stop offset=".713" stop-color="#3bb99c"/><stop offset=".737" stop-color="#31b8a2"/><stop offset=".762" stop-color="#2fb7a3"/><stop offset=".787" stop-color="#34b8a0"/><stop offset=".812" stop-color="#3cba9b"/><stop offset=".838" stop-color="#46bb96"/><stop offset=".863" stop-color="#4fbc91"/><stop offset=".887" stop-color="#54bd8e"/><stop offset=".912" stop-color="#56bd8d"/><stop offset=".938" stop-color="#55bd8e"/><stop offset=".962" stop-color="#54bd8e"/><stop offset=".988" stop-color="#54bd8e"/></linearGradient><linearGradient id="s4g7" x1="0" x2="1" y1="0" y2="0"><stop offset=".012" stop-color="#60be88"/><stop offset=".037" stop-color="#60be88"/><stop offset=".062" stop-color="#67be85"/><stop offset=".087" stop-color="#75bf7f"/><stop offset=".112" stop-color="#7ebf7b"/><stop offset=".138" stop-color="#7dbf7b"/><stop offset=".162" stop-color="#71bf80"/><stop offset=".188" stop-color="#5cbe8a"/><stop offset=".212" stop-color="#47bb95"/><stop offset=".237" stop-color="#3dba9b"/><stop offset=".262" stop-color="#3eba9a"/><stop offset=".287" stop-color="#4dbc92"/><stop offset=".312" stop-color="#67be85"/><stop offset=".337" stop-color="#87bf77"/><stop offset=".362" stop-color="#a5be6b"/><stop offset=".388" stop-color="#bebc61"/><stop offset=".413" stop-color="#d2bb59"/><stop offset=".438" stop-color="#e1ba52"/><stop offset=".462" stop-color="#ebb94d"/><stop offset=".487" stop-color="#f0b94a"/><stop offset=".512" stop-color="#f1b949"/><stop offset=".537" stop-color="#edb94c"/><stop offset=".562" stop-color="#e2b952"/><stop offset=".588" stop-color="#d0bb5a"/><stop offset=".613" stop-color="#b6bd64"/><stop offset=".637" stop-color="#98bf70"/><stop offset=".662" stop-color="#75bf7e"/><stop offset=".688" stop-color="#56bd8d"/><stop offset=".713" stop-color="#41ba99"/><stop offset=".737" stop-color="#37b99e"/><stop offset=".762" stop-color="#36b99f"/><stop offset=".787" stop-color="#3dba9b"/><stop offset=".812" stop-color="#48bb94"/><stop offset=".838" stop-color="#55bd8d"/><stop offset=".863" stop-color="#61be88"/><stop offset=".887" stop-color="#67be85"/><stop offset=".912" stop-color="#67be85"/><stop offset=".938" stop-color="#63be87"/><stop offset=".962" stop-color="#5fbe88"/><stop offset=".988" stop-color="#5fbe88"/></linearGradient><linearGradient id="s4g8" x1="0" x2="1" y1="0" y2="0"><stop offset=".012" stop-color="#82bf79"/><stop offset=".037" stop-color="#82bf79"/><stop offset=".062" stop-color="#92bf72"/><stop offset=".087" stop-color="#b1bd66"/><stop offset=".112" stop-color="#c8bc5d"/><stop offset=".138" stop-color="#d2bb58"/><stop offset=".162" stop-color="#ccbb5b"/><stop offset=".188" stop-color="#b8bd63"/><stop offset=".212" stop-color="#9fbe6d"/><stop offset=".237" stop-color="#8dbf74"/><stop offset=".262" stop-color="#89bf76"/><stop offset=".287" stop-color="#95bf71"/><stop offset=".312" stop-color="#abbe68"/><stop offset=".337" stop-color="#c5bc5e"/><stop offset=".362" stop-color="#dfba53"/><stop offset=".388" stop-color="#f6ba46"/><stop offset=".413" stop-color="#ffc337"/><stop offset=".438" stop-color="#fdcc2f"/><stop offset=".462" stop-color="#fbcf2c"/><stop offset=".487" stop-color="#fcce2d"/><stop offset=".512" stop-color="#fec832"/><stop offset=".537" stop-color="#fdbe3d"/><stop offset=".562" stop-color="#ecb94c"/><stop offset=".588" stop-color="#d2bb59"/><stop offset=".613" stop-color="#b5bd65"/><stop offset=".637" stop-color="#94bf72"/><stop offset=".662" stop-color="#71bf80"/><stop offset=".688" stop-color="#52bd8f"/><stop offset=".713" stop-color="#3dba9b"/><stop offset=".737" stop-color="#34b8a0"/><stop offset=".762" stop-color="#34b8a0"/><stop offset=".787" stop-color="#3dba9b"/><stop offset=".812" stop-color="#4bbc93"/><stop offset=".838" stop-color="#5dbe8a"/><stop offset=".863" stop-color="#6cbf83"/><stop offset=".887" stop-color="#73bf7f"/><stop offset=".912" stop-color="#73bf7f"/><stop offset=".938" stop-color="#6dbf82"/><stop offset=".962" stop-color="#68be84"/><stop offset=".988" stop-color="#68be84"/></linearGradient><linearGradient id="s4g9" x1="0" x2="1" y1="0" y2="0"><stop offset=".012" stop-color="#94bf72"/><stop offset=".037" stop-color="#94bf72"/><stop offset=".062" stop-color="#a7be6a"/><stop offset=".087" stop-color="#cdbb5b"/><stop offset=".112" stop-color="#ecb94d"/><stop offset=".138" stop-color="#f9bb43"/><stop offset=".162" stop-color="#f3b948"/><stop offset=".188" stop-color="#dcba55"/><stop offset=".212" stop-color="#bebc61"/><stop offset=".237" stop-color="#a7be6a"/><stop offset=".262" stop-color="#9fbe6d"/><stop offset=".287" stop-color="#a7be6a"/><stop offset=".312" stop-color="#b9bd63"/><stop offset=".337" stop-color="#d1bb59"/><stop offset=".362" stop-color="#eab94e"/><stop offset=".388" stop-color="#fdbe3e"/><stop offset=".413" stop-color="#fec932"/><stop offset=".438" stop-color="#fbd02c"/><stop offset=".462" stop-color="#fad22a"/><stop offset=".487" stop-color="#fcce2d"/><stop offset=".512" stop-color="#fec635"/><stop offset=".537" stop-color="#f8bb44"/><stop offset=".562" stop-color="#e0ba52"/><stop offset=".588" stop-color="#c3bc5f"/><stop offset=".613" stop-color="#a1be6c"/><stop offset=".637" stop-color="#7cbf7c"/><stop offset=".662" stop-color="#54bd8e"/><stop offset=".688" stop-color="#36b89f"/><stop offset=".713" stop-color="#24b5aa"/><stop offset=".737" stop-color="#1db3af"/><stop offset=".762" stop-color="#1eb3ae"/><stop offset=".787" stop-color="#28b6a8"/><stop offset=".812" stop-color="#38b99e"/><stop offset=".838" stop-color="#4dbc92"/><stop offset=".863" stop-color="#5fbe88"/><stop offset=".887" stop-color="#6bbe83"/><stop offset=".912" stop-color="#6cbf82"/><stop offset=".938" stop-color="#67be85"/><stop offset=".962" stop-color="#62be87"/><stop offset=".988" stop-color="#62be87"/></linearGradient><linearGradient id="s4g10" x1="0" x2="1" y1="0" y2="0"><stop offset=".012" stop-color="#86bf78"/><stop offset=".037" stop-color="#86bf78"/><stop offset=".062" stop-color="#96bf71"/><stop offset=".087" stop-color="#b6bd64"/><stop offset=".112" stop-color="#cebb5a"/><stop offset=".138" stop-color="#d8ba56"/><stop offset=".162" stop-color="#d0bb5a"/><stop offset=".188" stop-color="#b9bd63"/><stop offset=".212" stop-color="#9cbf6f"/><stop offset=".237" stop-color="#83bf79"/><stop offset=".262" stop-color="#79bf7d"/><stop offset=".287" stop-color="#7fbf7a"/><stop offset=".312" stop-color="#92bf73"/><stop offset=".337" stop-color="#a8be6a"/><stop offset=".362" stop-color="#bfbc61"/><stop offset=".388" stop-color="#d2bb59"/><stop offset=".413" stop-color="#e0ba52"/><stop offset=".438" stop-color="#e8b94e"/><stop offset=".462" stop-color="#eab94e"/><stop offset=".487" stop-color="#e4b951"/><stop offset=".512" stop-color="#d7ba57"/><stop offset=".537" stop-color="#c4bc5e"/><stop offset=".562" stop-color="#abbe68"/><stop offset=".588" stop-color="#8cbf75"/><stop offset=".613" stop-color="#64be86"/><stop offset=".637" stop-color="#3cba9b"/><stop offset=".662" stop-color="#1eb3ae"/><stop offset=".688" stop-color="#0badbc"/><stop offset=".713" stop-color="#06a8c4"/><stop offset=".737" stop-color="#06a6c7"/><stop offset=".762" stop-color="#06a7c5"/><stop offset=".787" stop-color="#09acbe"/><stop offset=".812" stop-color="#16b1b4"/><stop offset=".838" stop-color="#29b6a7"/><stop offset=".863" stop-color="#3bba9c"/><stop offset=".887" stop-color="#49bc94"/><stop offset=".912" stop-color="#50bc90"/><stop offset=".938" stop-color="#4fbc91"/><stop offset=".962" stop-color="#4dbc91"/><stop offset=".988" stop-color="#4dbc91"/></linearGradient><linearGradient id="s4g11" x1="0" x2="1" y1="0" y2="0"><stop offset=".012" stop-color="#63be87"/><stop offset=".037" stop-color="#63be87"/><stop offset=".062" stop-color="#6bbe83"/><stop offset=".087" stop-color="#7abf7c"/><stop offset=".112" stop-color="#84bf78"/><stop offset=".138" stop-color="#82bf79"/><stop offset=".162" stop-color="#72bf80"/><stop offset=".188" stop-color="#57bd8d"/><stop offset=".212" stop-color="#3cba9b"/><stop offset=".237" stop-color="#2bb6a6"/><stop offset=".262" stop-color="#25b5aa"/><stop offset=".287" stop-color="#2ab6a7"/><stop offset=".312" stop-color="#37b99e"/><stop offset=".337" stop-color="#4cbc92"/><stop offset=".362" stop-color="#66be85"/><stop offset=".388" stop-color="#7cbf7c"/><stop offset=".413" stop-color="#8bbf75"/><stop offset=".438" stop-color="#93bf72"/><stop offset=".462" stop-color="#93bf72"/><stop offset=".487" stop-color="#8dbf75"/><stop offset=".512" stop-color="#7fbf7a"/><stop offset=".537" stop-color="#6abe83"/><stop offset=".562" stop-color="#4fbc90"/><stop offset=".588" stop-color="#33b8a1"/><stop offset=".613" stop-color="#1ab2b1"/><stop offset=".637" stop-color="#08aac1"/><stop offset=".662" stop-color="#06a1cd"/><stop offset=".688" stop-color="#0b95d2"/><stop offset=".713" stop-color="#128cd2"/><stop offset=".737" stop-color="#1389d3"/><stop offset=".762" stop-color="#108fd2"/><stop offset=".787" stop-color="#0899d1"/><stop offset=".812" stop-color="#06a4c9"/><stop offset=".838" stop-color="#09acbe"/><stop offset=".863" stop-color="#17b1b3"/><stop offset=".887" stop-color="#25b5aa"/><stop offset=".912" stop-color="#2eb7a4"/><stop offset=".938" stop-color="#33b8a1"/><stop offset=".962" stop-color="#35b8a0"/><stop offset=".988" stop-color="#35b8a0"/></linearGradient><linearGradient id="s4g12" x1="0" x2="1" y1="0" y2="0"><stop offset=".012" stop-color="#48bb94"/><stop offset=".037" stop-color="#48bb94"/><stop offset=".062" stop-color="#47bb95"/><stop offset=".087" stop-color="#43bb97"/><stop offset=".112" stop-color="#3ab99d"/><stop offset=".138" stop-color="#2bb6a6"/><stop offset=".162" stop-color="#19b2b1"/><stop offset=".188" stop-color="#0aacbe"/><stop offset=".212" stop-color="#06a6c7"/><stop offset=".237" stop-color="#06a0cd"/><stop offset=".262" stop-color="#069ece"/><stop offset=".287" stop-color="#06a0cd"/><stop offset=".312" stop-color="#06a5c8"/><stop offset=".337" stop-color="#09abbf"/><stop offset=".362" stop-color="#15b0b5"/><stop offset=".388" stop-color="#24b5aa"/><stop offset=".413" stop-color="#31b8a2"/><stop offset=".438" stop-color="#38b99d"/><stop offset=".462" stop-color="#39b99d"/><stop offset=".487" stop-color="#34b8a0"/><stop offset=".512" stop-color="#2ab6a6"/><stop offset=".537" stop-color="#1eb3ae"/><stop offset=".562" stop-color="#11afb8"/><stop offset=".588" stop-color="#07a9c2"/><stop offset=".613" stop-color="#06a1cc"/><stop offset=".637" stop-color="#0c94d2"/><stop offset=".662" stop-color="#1484d4"/><stop offset=".688" stop-color="#1079da"/><stop offset=".713" stop-color="#0a72de"/><stop offset=".737" stop-color="#0972de"/><stop offset=".762" stop-color="#0f78db"/><stop offset=".787" stop-color="#1482d5"/><stop offset=".812" stop-color="#0d92d2"/><stop offset=".838" stop-color="#06a0cd"/><stop offset=".863" stop-color="#07a9c3"/><stop offset=".887" stop-color="#0eaeba"/><stop offset=".912" stop-color="#18b1b2"/><stop offset=".938" stop-color="#20b4ad"/><stop offset=".962" stop-color="#23b5ab"/><stop offset=".988" stop-color="#23b5ab"/></linearGradient><linearGradient id="s4g13" x1="0" x2="1" y1="0" y2="0"><stop offset=".012" stop-color="#3dba9b"/><stop offset=".037" stop-color="#3dba9b"/><stop offset=".062" stop-color="#39b99d"/><stop offset=".087" stop-color="#2db7a4"/><stop offset=".112" stop-color="#1eb3ae"/><stop offset=".138" stop-color="#0eaeba"/><stop offset=".162" stop-color="#06a6c6"/><stop offset=".188" stop-color="#079cd0"/><stop offset=".212" stop-color="#0f90d2"/><stop offset=".237" stop-color="#1487d3"/><stop offset=".262" stop-color="#1484d4"/><stop offset=".287" stop-color="#1487d3"/><stop offset=".312" stop-color="#0f90d2"/><stop offset=".337" stop-color="#079bd0"/><stop offset=".362" stop-color="#06a4c9"/><stop offset=".388" stop-color="#08abc0"/><stop offset=".413" stop-color="#0faeb9"/><stop offset=".438" stop-color="#15b0b5"/><stop offset=".462" stop-color="#16b1b4"/><stop offset=".487" stop-color="#13b0b6"/><stop offset=".512" stop-color="#0dadbb"/><stop offset=".537" stop-color="#08aac1"/><stop offset=".562" stop-color="#06a5c8"/><stop offset=".588" stop-color="#069ece"/><stop offset=".613" stop-color="#0d92d2"/><stop offset=".637" stop-color="#1483d5"/><stop offset=".662" stop-color="#0e76db"/><stop offset=".688" stop-color="#036be1"/><stop offset=".713" stop-color="#0562e0"/><stop offset=".737" stop-color="#0462e1"/><stop offset=".762" stop-color="#036be0"/><stop offset=".787" stop-color="#0f78db"/><stop offset=".812" stop-color="#1487d3"/><stop offset=".838" stop-color="#0998d1"/><stop offset=".863" stop-color="#06a4ca"/><stop offset=".887" stop-color="#08aac0"/><stop offset=".912" stop-color="#0fafb9"/><stop offset=".938" stop-color="#18b1b2"/><stop offset=".962" stop-color="#1cb2b0"/><stop offset=".988" stop-color="#1cb2b0"/></linearGradient><linearGradient id="s4g14" x1="0" x2="1" y1="0" y2="0"><stop offset=".012" stop-color="#3eba9a"/><stop offset=".037" stop-color="#3eba9a"/><stop offset=".062" stop-color="#39b99d"/><stop offset=".087" stop-color="#2db7a4"/><stop offset=".112" stop-color="#1db3af"/><stop offset=".138" stop-color="#0dadbb"/><stop offset=".162" stop-color="#06a6c7"/><stop offset=".188" stop-color="#079dcf"/><stop offset=".212" stop-color="#0e91d2"/><stop offset=".237" stop-color="#1389d3"/><stop offset=".262" stop-color="#1487d3"/><stop offset=".287" stop-color="#138ad3"/><stop offset=".312" stop-color="#0d92d2"/><stop offset=".337" stop-color="#079dcf"/><stop offset=".362" stop-color="#06a5c8"/><stop offset=".388" stop-color="#08abc0"/><stop offset=".413" stop-color="#0faeb9"/><stop offset=".438" stop-color="#13b0b6"/><stop offset=".462" stop-color="#13b0b6"/><stop offset=".487" stop-color="#10afb9"/><stop offset=".512" stop-color="#0aacbd"/><stop offset=".537" stop-color="#07a9c3"/><stop offset=".562" stop-color="#06a4ca"/><stop offset=".588" stop-color="#079cd0"/><stop offset=".613" stop-color="#0f90d2"/><stop offset=".637" stop-color="#1482d5"/><stop offset=".662" stop-color="#0d76dc"/><stop offset=".688" stop-color="#036ae1"/><stop offset=".713" stop-color="#0363e1"/><stop offset=".737" stop-color="#0364e1"/><stop offset=".762" stop-color="#056de0"/><stop offset=".787" stop-color="#117ad9"/><stop offset=".812" stop-color="#128ad3"/><stop offset=".838" stop-color="#079cd0"/><stop offset=".863" stop-color="#06a7c6"/><stop offset=".887" stop-color="#0badbc"/><stop offset=".912" stop-color="#14b0b5"/><stop offset=".938" stop-color="#1cb3af"/><stop offset=".962" stop-color="#1fb4ad"/><stop offset=".988" stop-color="#1fb4ad"/></linearGradient><linearGradient id="s4g15" x1="0" x2="1" y1="0" y2="0"><stop offset=".012" stop-color="#49bc94"/><stop offset=".037" stop-color="#49bc94"/><stop offset=".062" stop-color="#46bb96"/><stop offset=".087" stop-color="#3cba9b"/><stop offset=".112" stop-color="#2eb7a4"/><stop offset=".138" stop-color="#1eb3ae"/><stop offset=".162" stop-color="#10afb8"/><stop offset=".188" stop-color="#07aac1"/><stop offset=".212" stop-color="#06a5c8"/><stop offset=".237" stop-color="#06a2cb"/><stop offset=".262" stop-color="#06a2cc"/><stop offset=".287" stop-color="#06a4c9"/><stop offset=".312" stop-color="#06a8c4"/><stop offset=".337" stop-color="#0badbc"/><stop offset=".362" stop-color="#16b1b4"/><stop offset=".388" stop-color="#22b4ab"/><stop offset=".413" stop-color="#2bb6a6"/><stop offset=".438" stop-color="#2fb7a3"/><stop offset=".462" stop-color="#2db7a4"/><stop offset=".487" stop-color="#26b5a9"/><stop offset=".512" stop-color="#1cb3b0"/><stop offset=".537" stop-color="#11afb8"/><stop offset=".562" stop-color="#08aac0"/><stop offset=".588" stop-color="#06a4c9"/><stop offset=".613" stop-color="#089bd0"/><stop offset=".637" stop-color="#118dd2"/><stop offset=".662" stop-color="#1481d6"/><stop offset=".688" stop-color="#0f78db"/><stop offset=".713" stop-color="#0b73dd"/><stop offset=".737" stop-color="#0d75dc"/><stop offset=".762" stop-color="#137ed7"/><stop offset=".787" stop-color="#118cd2"/><stop offset=".812" stop-color="#069fce"/><stop offset=".838" stop-color="#08abc0"/><stop offset=".863" stop-color="#1ab2b1"/><stop offset=".887" stop-color="#2bb6a6"/><stop offset=".912" stop-color="#34b8a0"/><stop offset=".938" stop-color="#37b99e"/><stop offset=".962" stop-color="#37b99f"/><stop offset=".988" stop-color="#37b99f"/></linearGradient><linearGradient id="s4g16" x1="0" x2="1" y1="0" y2="0"><stop offset=".012" stop-color="#60be88"/><stop offset=".037" stop-color="#60be88"/><stop offset=".062" stop-color="#60be88"/><stop offset=".087" stop-color="#59bd8b"/><stop offset=".112" stop-color="#4cbc92"/><stop offset=".138" stop-color="#3eba9a"/><stop offset=".162" stop-color="#30b8a2"/><stop offset=".188" stop-color="#27b5a8"/><stop offset=".212" stop-color="#22b4ac"/><stop offset=".237" stop-color="#20b4ad"/><stop offset=".262" stop-color="#23b5ab"/><stop offset=".287" stop-color="#2bb6a5"/><stop offset=".312" stop-color="#39b99d"/><stop offset=".337" stop-color="#4bbc93"/><stop offset=".362" stop-color="#60be88"/><stop offset=".388" stop-color="#71bf80"/><stop offset=".413" stop-color="#7dbf7b"/><stop offset=".438" stop-color="#81bf79"/><stop offset=".462" stop-color="#7dbf7b"/><stop offset=".487" stop-color="#71bf80"/><stop offset=".512" stop-color="#5dbe8a"/><stop offset=".537" stop-color="#44bb97"/><stop offset=".562" stop-color="#2cb7a5"/><stop offset=".588" stop-color="#16b1b3"/><stop offset=".613" stop-color="#08aac0"/><stop offset=".637" stop-color="#06a2cb"/><stop offset=".662" stop-color="#0999d1"/><stop offset=".688" stop-color="#0f8fd2"/><stop offset=".713" stop-color="#118cd2"/><stop offset=".737" stop-color="#0f90d2"/><stop offset=".762" stop-color="#079dcf"/><stop offset=".787" stop-color="#07a9c2"/><stop offset=".812" stop-color="#23b4ab"/><stop offset=".838" stop-color="#4fbc91"/><stop offset=".863" stop-color="#76bf7e"/><stop offset=".887" stop-color="#89bf76"/><stop offset=".912" stop-color="#89bf76"/><stop offset=".938" stop-color="#7bbf7c"/><stop offset=".962" stop-color="#71bf80"/><stop offset=".988" stop-color="#71bf80"/></linearGradient><linearGradient id="s4g17" x1="0" x2="1" y1="0" y2="0"><stop offset=".012" stop-color="#7ebf7b"/><stop offset=".037" stop-color="#7ebf7b"/><stop offset=".062" stop-color="#80bf7a"/><stop offset=".087" stop-color="#7ebf7b"/><stop offset=".112" stop-color="#72bf80"/><stop offset=".138" stop-color="#63be86"/><stop offset=".162" stop-color="#59bd8c"/><stop offset=".188" stop-color="#55bd8e"/><stop offset=".212" stop-color="#57bd8c"/><stop offset=".237" stop-color="#5fbe88"/><stop offset=".262" stop-color="#6cbf82"/><stop offset=".287" stop-color="#7ebf7b"/><stop offset=".312" stop-color="#92bf72"/><stop offset=".337" stop-color="#a7be6a"/><stop offset=".362" stop-color="#bbbd62"/><stop offset=".388" stop-color="#ccbb5b"/><stop offset=".413" stop-color="#d8ba56"/><stop offset=".438" stop-color="#ddba54"/><stop offset=".462" stop-color="#daba55"/><stop offset=".487" stop-color="#cfbb5a"/><stop offset=".512" stop-color="#bcbd62"/><stop offset=".537" stop-color="#a1be6c"/><stop offset=".562" stop-color="#7fbf7a"/><stop offset=".588" stop-color="#57bd8c"/><stop offset=".613" stop-color="#33b8a1"/><stop offset=".637" stop-color="#1ab2b1"/><stop offset=".662" stop-color="#0aacbd"/><stop offset=".688" stop-color="#06a8c4"/><stop offset=".713" stop-color="#06a7c5"/><stop offset=".737" stop-color="#08abc0"/><stop offset=".762" stop-color="#1ab2b1"/><stop offset=".787" stop-color="#47bb95"/><stop offset=".812" stop-color="#89bf76"/><stop offset=".838" stop-color="#bcbd62"/><stop offset=".863" stop-color="#dcba54"/><stop offset=".887" stop-color="#e7b94f"/><stop offset=".912" stop-color="#dcba54"/><stop offset=".938" stop-color="#c3bc5f"/><stop offset=".962" stop-color="#b2bd66"/><stop offset=".988" stop-color="#b2bd66"/></linearGradient><linearGradient id="s4g18" x1="0" x2="1" y1="0" y2="0"><stop offset=".012" stop-color="#97bf71"/><stop offset=".037" stop-color="#97bf71"/><stop offset=".062" stop-color="#9cbf6f"/><stop offset=".087" stop-color="#9dbe6e"/><stop offset=".112" stop-color="#96bf71"/><stop offset=".138" stop-color="#8ebf74"/><stop offset=".162" stop-color="#8dbf75"/><stop offset=".188" stop-color="#93bf72"/><stop offset=".212" stop-color="#9ebe6d"/><stop offset=".237" stop-color="#acbe68"/><stop offset=".262" stop-color="#bbbd62"/><stop offset=".287" stop-color="#cbbb5c"/><stop offset=".312" stop-color="#dcba54"/><stop offset=".337" stop-color="#eeb94c"/><stop offset=".362" stop-color="#fdbe3e"/><stop offset=".388" stop-color="#fec932"/><stop offset=".413" stop-color="#fad12b"/><stop offset=".438" stop-color="#f9d528"/><stop offset=".462" stop-color="#fad32a"/><stop offset=".487" stop-color="#fdca31"/><stop offset=".512" stop-color="#fbbc40"/><stop offset=".537" stop-color="#e1ba52"/><stop offset=".562" stop-color="#bfbc60"/><stop offset=".588" stop-color="#9abf6f"/><stop offset=".613" stop-color="#71bf80"/><stop offset=".637" stop-color="#4abc93"/><stop offset=".662" stop-color="#30b7a2"/><stop offset=".688" stop-color="#23b4ab"/><stop offset=".713" stop-color="#22b4ac"/><stop offset=".737" stop-color="#2fb7a3"/><stop offset=".762" stop-color="#54bd8e"/><stop offset=".787" stop-color="#8fbf74"/><stop offset=".812" stop-color="#c8bc5d"/><stop offset=".838" stop-color="#f7ba45"/><stop offset=".863" stop-color="#fccc2f"/><stop offset=".887" stop-color="#fad22b"/><stop offset=".912" stop-color="#fec734"/><stop offset=".938" stop-color="#ebb94d"/><stop offset=".962" stop-color="#d7ba57"/><stop offset=".988" stop-color="#d7ba57"/></linearGradient><linearGradient id="s4g19" x1="0" x2="1" y1="0" y2="0"><stop offset=".012" stop-color="#9dbe6e"/><stop offset=".037" stop-color="#9dbe6e"/><stop offset=".062" stop-color="#a3be6b"/><stop offset=".087" stop-color="#a9be69"/><stop offset=".112" stop-color="#a8be6a"/><stop offset=".138" stop-color="#a7be6a"/><stop offset=".162" stop-color="#adbe68"/><stop offset=".188" stop-color="#b9bd63"/><stop offset=".212" stop-color="#c9bb5c"/><stop offset=".237" stop-color="#d9ba56"/><stop offset=".262" stop-color="#e7b94f"/><stop offset=".287" stop-color="#f4ba48"/><stop offset=".312" stop-color="#fdbe3e"/><stop offset=".337" stop-color="#fec635"/><stop offset=".362" stop-color="#fcce2d"/><stop offset=".388" stop-color="#f8d727"/><stop offset=".413" stop-color="#f5de21"/><stop offset=".438" stop-color="#f5e11f"/><stop offset=".462" stop-color="#f5de21"/><stop offset=".487" stop-color="#f9d528"/><stop offset=".512" stop-color="#fec634"/><stop offset=".537" stop-color="#f1b949"/><stop offset=".562" stop-color="#d2bb59"/><stop offset=".588" stop-color="#b0bd67"/><stop offset=".613" stop-color="#8dbf75"/><stop offset=".637" stop-color="#6bbe83"/><stop offset=".662" stop-color="#50bc90"/><stop offset=".688" stop-color="#41ba98"/><stop offset=".713" stop-color="#40ba99"/><stop offset=".737" stop-color="#4ebc91"/><stop offset=".762" stop-color="#71bf80"/><stop offset=".787" stop-color="#a1be6d"/><stop offset=".812" stop-color="#d0bb5a"/><stop offset=".838" stop-color="#f8ba44"/><stop offset=".863" stop-color="#fdca31"/><stop offset=".887" stop-color="#fcce2e"/><stop offset=".912" stop-color="#ffc338"/><stop offset=".938" stop-color="#e7b94f"/><stop offset=".962" stop-color="#d3bb58"/><stop offset=".988" stop-color="#d3bb58"/></linearGradient><linearGradient id="s4g20" x1="0" x2="1" y1="0" y2="0"><stop offset=".012" stop-color="#96bf71"/><stop offset=".037" stop-color="#96bf71"/><stop offset=".062" stop-color="#9dbf6e"/><stop offset=".087" stop-color="#a2be6c"/><stop offset=".112" stop-color="#a2be6c"/><stop offset=".138" stop-color="#a2be6c"/><stop offset=".162" stop-color="#a8be6a"/><stop offset=".188" stop-color="#b5bd65"/><stop offset=".212" stop-color="#c4bc5e"/><stop offset=".237" stop-color="#d3bb58"/><stop offset=".262" stop-color="#e0ba53"/><stop offset=".287" stop-color="#ebb94d"/><stop offset=".312" stop-color="#f5ba47"/><stop offset=".337" stop-color="#fdbe3e"/><stop offset=".362" stop-color="#fec535"/><stop offset=".388" stop-color="#fccc2f"/><stop offset=".413" stop-color="#fad22a"/><stop offset=".438" stop-color="#f9d528"/><stop offset=".462" stop-color="#fad22a"/><stop offset=".487" stop-color="#fdca31"/><stop offset=".512" stop-color="#fdbe3e"/><stop offset=".537" stop-color="#e7b94f"/><stop offset=".562" stop-color="#cabb5c"/><stop offset=".588" stop-color="#acbe68"/><stop offset=".613" stop-color="#8cbf75"/><stop offset=".637" stop-color="#6fbf81"/><stop offset=".662" stop-color="#57bd8c"/><stop offset=".688" stop-color="#4abc94"/><stop offset=".713" stop-color="#48bb94"/><stop offset=".737" stop-color="#54bd8e"/><stop offset=".762" stop-color="#72bf80"/><stop offset=".787" stop-color="#9abf6f"/><stop offset=".812" stop-color="#c3bc5f"/><stop offset=".838" stop-color="#e6b94f"/><stop offset=".863" stop-color="#fbbc41"/><stop offset=".887" stop-color="#fdbe3d"/><stop offset=".912" stop-color="#f2b949"/><stop offset=".938" stop-color="#d5ba57"/><stop offset=".962" stop-color="#c4bc5f"/><stop offset=".988" stop-color="#c4bc5f"/></linearGradient><linearGradient id="s4g21" x1="0" x2="1" y1="0" y2="0"><stop offset=".012" stop-color="#96bf71"/><stop offset=".037" stop-color="#96bf71"/><stop offset=".062" stop-color="#9dbf6e"/><stop offset=".087" stop-color="#a2be6c"/><stop offset=".112" stop-color="#a2be6c"/><stop offset=".138" stop-color="#a2be6c"/><stop offset=".162" stop-color="#a8be6a"/><stop offset=".188" stop-color="#b5bd65"/><stop offset=".212" stop-color="#c4bc5e"/><stop offset=".237" stop-color="#d3bb58"/><stop offset=".262" stop-color="#e0ba53"/><stop offset=".287" stop-color="#ebb94d"/><stop offset=".312" stop-color="#f5ba47"/><stop offset=".337" stop-color="#fdbe3e"/><stop offset=".362" stop-color="#fec535"/><stop offset=".388" stop-color="#fccc2f"/><stop offset=".413" stop-color="#fad22a"/><stop offset=".438" stop-color="#f9d528"/><stop offset=".462" stop-color="#fad22a"/><stop offset=".487" stop-color="#fdca31"/><stop offset=".512" stop-color="#fdbe3e"/><stop offset=".537" stop-color="#e7b94f"/><stop offset=".562" stop-color="#cabb5c"/><stop offset=".588" stop-color="#acbe68"/><stop offset=".613" stop-color="#8cbf75"/><stop offset=".637" stop-color="#6fbf81"/><stop offset=".662" stop-color="#57bd8c"/><stop offset=".688" stop-color="#4abc94"/><stop offset=".713" stop-color="#48bb94"/><stop offset=".737" stop-color="#54bd8e"/><stop offset=".762" stop-color="#72bf80"/><stop offset=".787" stop-color="#9abf6f"/><stop offset=".812" stop-color="#c3bc5f"/><stop offset=".838" stop-color="#e6b94f"/><stop offset=".863" stop-color="#fbbc41"/><stop offset=".887" stop-color="#fdbe3d"/><stop offset=".912" stop-color="#f2b949"/><stop offset=".938" stop-color="#d5ba57"/><stop offset=".962" stop-color="#c4bc5f"/><stop offset=".988" stop-color="#c4bc5f"/></linearGradient></defs>
<g filter="url(#eb)"><g clip-path="url(#cs4)"><g transform="matrix(0.95845,-0.25191,-0.95661,-0.36790,403.275,917.975)" filter="url(#vb)"><rect x="-30.56" y="-28.56" width="611.11" height="14.88" fill="url(#s4g0)"/><rect x="-30.56" y="-14.28" width="611.11" height="14.88" fill="url(#s4g1)"/><rect x="-30.56" y="0.00" width="611.11" height="14.88" fill="url(#s4g2)"/><rect x="-30.56" y="14.28" width="611.11" height="14.88" fill="url(#s4g3)"/><rect x="-30.56" y="28.56" width="611.11" height="14.88" fill="url(#s4g4)"/><rect x="-30.56" y="42.83" width="611.11" height="14.88" fill="url(#s4g5)"/><rect x="-30.56" y="57.11" width="611.11" height="14.88" fill="url(#s4g6)"/><rect x="-30.56" y="71.39" width="611.11" height="14.88" fill="url(#s4g7)"/><rect x="-30.56" y="85.67" width="611.11" height="14.88" fill="url(#s4g8)"/><rect x="-30.56" y="99.94" width="611.11" height="14.88" fill="url(#s4g9)"/><rect x="-30.56" y="114.22" width="611.11" height="14.88" fill="url(#s4g10)"/><rect x="-30.56" y="128.50" width="611.11" height="14.88" fill="url(#s4g11)"/><rect x="-30.56" y="142.78" width="611.11" height="14.88" fill="url(#s4g12)"/><rect x="-30.56" y="157.06" width="611.11" height="14.88" fill="url(#s4g13)"/><rect x="-30.56" y="171.33" width="611.11" height="14.88" fill="url(#s4g14)"/><rect x="-30.56" y="185.61" width="611.11" height="14.88" fill="url(#s4g15)"/><rect x="-30.56" y="199.89" width="611.11" height="14.88" fill="url(#s4g16)"/><rect x="-30.56" y="214.17" width="611.11" height="14.88" fill="url(#s4g17)"/><rect x="-30.56" y="228.44" width="611.11" height="14.88" fill="url(#s4g18)"/><rect x="-30.56" y="242.72" width="611.11" height="14.88" fill="url(#s4g19)"/><rect x="-30.56" y="257.00" width="611.11" height="14.88" fill="url(#s4g20)"/><rect x="-30.56" y="271.28" width="611.11" height="14.88" fill="url(#s4g21)"/></g></g></g>
<clipPath id="cs5"><polygon points="404.7,1085.7 930.0,946.0 685.0,852.5 157.0,990.0"/></clipPath>
<defs><linearGradient id="s5g0" x1="0" x2="1" y1="0" y2="0"><stop offset=".012" stop-color="#47bb95"/><stop offset=".037" stop-color="#47bb95"/><stop offset=".062" stop-color="#46bb96"/><stop offset=".087" stop-color="#44bb97"/><stop offset=".112" stop-color="#41ba98"/><stop offset=".138" stop-color="#3eba9a"/><stop offset=".162" stop-color="#3bb99c"/><stop offset=".188" stop-color="#37b99e"/><stop offset=".212" stop-color="#35b8a0"/><stop offset=".237" stop-color="#33b8a0"/><stop offset=".262" stop-color="#34b8a0"/><stop offset=".287" stop-color="#35b89f"/><stop offset=".312" stop-color="#38b99e"/><stop offset=".337" stop-color="#3cba9c"/><stop offset=".362" stop-color="#3fba99"/><stop offset=".388" stop-color="#43bb97"/><stop offset=".413" stop-color="#46bb96"/><stop offset=".438" stop-color="#48bb94"/><stop offset=".462" stop-color="#4abc93"/><stop offset=".487" stop-color="#4bbc93"/><stop offset=".512" stop-color="#4dbc92"/><stop offset=".537" stop-color="#4dbc91"/><stop offset=".562" stop-color="#4ebc91"/><stop offset=".588" stop-color="#4dbc92"/><stop offset=".613" stop-color="#4cbc92"/><stop offset=".637" stop-color="#4abc94"/><stop offset=".662" stop-color="#48bb95"/><stop offset=".688" stop-color="#46bb96"/><stop offset=".713" stop-color="#45bb96"/><stop offset=".737" stop-color="#44bb97"/><stop offset=".762" stop-color="#44bb97"/><stop offset=".787" stop-color="#45bb96"/><stop offset=".812" stop-color="#46bb96"/><stop offset=".838" stop-color="#47bb95"/><stop offset=".863" stop-color="#47bb95"/><stop offset=".887" stop-color="#48bb94"/><stop offset=".912" stop-color="#48bb94"/><stop offset=".938" stop-color="#49bb94"/><stop offset=".962" stop-color="#49bb94"/><stop offset=".988" stop-color="#49bb94"/></linearGradient><linearGradient id="s5g1" x1="0" x2="1" y1="0" y2="0"><stop offset=".012" stop-color="#47bb95"/><stop offset=".037" stop-color="#47bb95"/><stop offset=".062" stop-color="#46bb96"/><stop offset=".087" stop-color="#44bb97"/><stop offset=".112" stop-color="#41ba98"/><stop offset=".138" stop-color="#3eba9a"/><stop offset=".162" stop-color="#3bb99c"/><stop offset=".188" stop-color="#37b99e"/><stop offset=".212" stop-color="#35b8a0"/><stop offset=".237" stop-color="#33b8a0"/><stop offset=".262" stop-color="#34b8a0"/><stop offset=".287" stop-color="#35b89f"/><stop offset=".312" stop-color="#38b99e"/><stop offset=".337" stop-color="#3cba9c"/><stop offset=".362" stop-color="#3fba99"/><stop offset=".388" stop-color="#43bb97"/><stop offset=".413" stop-color="#46bb96"/><stop offset=".438" stop-color="#48bb94"/><stop offset=".462" stop-color="#4abc93"/><stop offset=".487" stop-color="#4bbc93"/><stop offset=".512" stop-color="#4dbc92"/><stop offset=".537" stop-color="#4dbc91"/><stop offset=".562" stop-color="#4ebc91"/><stop offset=".588" stop-color="#4dbc92"/><stop offset=".613" stop-color="#4cbc92"/><stop offset=".637" stop-color="#4abc94"/><stop offset=".662" stop-color="#48bb95"/><stop offset=".688" stop-color="#46bb96"/><stop offset=".713" stop-color="#45bb96"/><stop offset=".737" stop-color="#44bb97"/><stop offset=".762" stop-color="#44bb97"/><stop offset=".787" stop-color="#45bb96"/><stop offset=".812" stop-color="#46bb96"/><stop offset=".838" stop-color="#47bb95"/><stop offset=".863" stop-color="#47bb95"/><stop offset=".887" stop-color="#48bb94"/><stop offset=".912" stop-color="#48bb94"/><stop offset=".938" stop-color="#49bb94"/><stop offset=".962" stop-color="#49bb94"/><stop offset=".988" stop-color="#49bb94"/></linearGradient><linearGradient id="s5g2" x1="0" x2="1" y1="0" y2="0"><stop offset=".012" stop-color="#45bb96"/><stop offset=".037" stop-color="#45bb96"/><stop offset=".062" stop-color="#44bb96"/><stop offset=".087" stop-color="#41ba98"/><stop offset=".112" stop-color="#3dba9b"/><stop offset=".138" stop-color="#38b99e"/><stop offset=".162" stop-color="#32b8a1"/><stop offset=".188" stop-color="#2db7a4"/><stop offset=".212" stop-color="#2ab6a7"/><stop offset=".237" stop-color="#28b6a8"/><stop offset=".262" stop-color="#28b6a8"/><stop offset=".287" stop-color="#2ab6a6"/><stop offset=".312" stop-color="#2fb7a3"/><stop offset=".337" stop-color="#34b8a0"/><stop offset=".362" stop-color="#3ab99c"/><stop offset=".388" stop-color="#40ba99"/><stop offset=".413" stop-color="#45bb96"/><stop offset=".438" stop-color="#49bc94"/><stop offset=".462" stop-color="#4cbc92"/><stop offset=".487" stop-color="#4fbc90"/><stop offset=".512" stop-color="#52bd8f"/><stop offset=".537" stop-color="#54bd8e"/><stop offset=".562" stop-color="#55bd8e"/><stop offset=".588" stop-color="#54bd8e"/><stop offset=".613" stop-color="#51bd8f"/><stop offset=".637" stop-color="#4ebc91"/><stop offset=".662" stop-color="#49bc94"/><stop offset=".688" stop-color="#46bb96"/><stop offset=".713" stop-color="#43bb97"/><stop offset=".737" stop-color="#42bb98"/><stop offset=".762" stop-color="#42bb98"/><stop offset=".787" stop-color="#43bb98"/><stop offset=".812" stop-color="#44bb97"/><stop offset=".838" stop-color="#45bb96"/><stop offset=".863" stop-color="#47bb95"/><stop offset=".887" stop-color="#47bb95"/><stop offset=".912" stop-color="#48bb94"/><stop offset=".938" stop-color="#48bb94"/><stop offset=".962" stop-color="#49bb94"/><stop offset=".988" stop-color="#49bb94"/></linearGradient><linearGradient id="s5g3" x1="0" x2="1" y1="0" y2="0"><stop offset=".012" stop-color="#42bb98"/><stop offset=".037" stop-color="#42bb98"/><stop offset=".062" stop-color="#40ba99"/><stop offset=".087" stop-color="#39b99d"/><stop offset=".112" stop-color="#31b8a2"/><stop offset=".138" stop-color="#28b6a8"/><stop offset=".162" stop-color="#1eb3ae"/><stop offset=".188" stop-color="#16b1b4"/><stop offset=".212" stop-color="#10afb8"/><stop offset=".237" stop-color="#0daeba"/><stop offset=".262" stop-color="#0eaeba"/><stop offset=".287" stop-color="#12afb7"/><stop offset=".312" stop-color="#19b2b2"/><stop offset=".337" stop-color="#23b4ab"/><stop offset=".362" stop-color="#2eb7a4"/><stop offset=".388" stop-color="#3ab99c"/><stop offset=".413" stop-color="#45bb96"/><stop offset=".438" stop-color="#50bc90"/><stop offset=".462" stop-color="#5abd8b"/><stop offset=".487" stop-color="#64be86"/><stop offset=".512" stop-color="#6ebf82"/><stop offset=".537" stop-color="#75bf7e"/><stop offset=".562" stop-color="#79bf7d"/><stop offset=".588" stop-color="#78bf7d"/><stop offset=".613" stop-color="#71bf80"/><stop offset=".637" stop-color="#66be85"/><stop offset=".662" stop-color="#58bd8c"/><stop offset=".688" stop-color="#4cbc92"/><stop offset=".713" stop-color="#43bb97"/><stop offset=".737" stop-color="#3dba9b"/><stop offset=".762" stop-color="#3cba9c"/><stop offset=".787" stop-color="#3cba9b"/><stop offset=".812" stop-color="#3fba9a"/><stop offset=".838" stop-color="#42bb98"/><stop offset=".863" stop-color="#44bb97"/><stop offset=".887" stop-color="#46bb96"/><stop offset=".912" stop-color="#47bb95"/><stop offset=".938" stop-color="#48bb94"/><stop offset=".962" stop-color="#48bb94"/><stop offset=".988" stop-color="#48bb94"/></linearGradient><linearGradient id="s5g4" x1="0" x2="1" y1="0" y2="0"><stop offset=".012" stop-color="#3fba9a"/><stop offset=".037" stop-color="#3fba9a"/><stop offset=".062" stop-color="#3bb99c"/><stop offset=".087" stop-color="#32b8a1"/><stop offset=".112" stop-color="#27b5a8"/><stop offset=".138" stop-color="#1ab2b1"/><stop offset=".162" stop-color="#0eaeba"/><stop offset=".188" stop-color="#07aac1"/><stop offset=".212" stop-color="#06a6c7"/><stop offset=".237" stop-color="#06a4c9"/><stop offset=".262" stop-color="#06a5c8"/><stop offset=".287" stop-color="#06a8c4"/><stop offset=".312" stop-color="#0cadbc"/><stop offset=".337" stop-color="#19b2b2"/><stop offset=".362" stop-color="#2bb6a6"/><stop offset=".388" stop-color="#3eba9a"/><stop offset=".413" stop-color="#53bd8f"/><stop offset=".438" stop-color="#67be85"/><stop offset=".462" stop-color="#7bbf7c"/><stop offset=".487" stop-color="#8ebf74"/><stop offset=".512" stop-color="#9fbe6d"/><stop offset=".537" stop-color="#acbe68"/><stop offset=".562" stop-color="#b3bd65"/><stop offset=".588" stop-color="#b1bd66"/><stop offset=".613" stop-color="#a7be6a"/><stop offset=".637" stop-color="#94bf72"/><stop offset=".662" stop-color="#7bbf7c"/><stop offset=".688" stop-color="#60be88"/><stop offset=".713" stop-color="#4abc93"/><stop offset=".737" stop-color="#3dba9b"/><stop offset=".762" stop-color="#38b99e"/><stop offset=".787" stop-color="#38b99e"/><stop offset=".812" stop-color="#3bb99c"/><stop offset=".838" stop-color="#3fba9a"/><stop offset=".863" stop-color="#43bb97"/><stop offset=".887" stop-color="#46bb96"/><stop offset=".912" stop-color="#48bb95"/><stop offset=".938" stop-color="#49bc94"/><stop offset=".962" stop-color="#49bc94"/><stop offset=".988" stop-color="#49bc94"/></linearGradient><linearGradient id="s5g5" x1="0" x2="1" y1="0" y2="0"><stop offset=".012" stop-color="#3fba9a"/><stop offset=".037" stop-color="#3fba9a"/><stop offset=".062" stop-color="#3bb99c"/><stop offset=".087" stop-color="#32b8a1"/><stop offset=".112" stop-color="#25b5a9"/><stop offset=".138" stop-color="#18b1b2"/><stop offset=".162" stop-color="#0cadbc"/><stop offset=".188" stop-color="#06a8c4"/><stop offset=".212" stop-color="#06a5c9"/><stop offset=".237" stop-color="#06a3ca"/><stop offset=".262" stop-color="#06a5c8"/><stop offset=".287" stop-color="#07a9c2"/><stop offset=".312" stop-color="#11afb8"/><stop offset=".337" stop-color="#25b5aa"/><stop offset=".362" stop-color="#3fba99"/><stop offset=".388" stop-color="#5dbe89"/><stop offset=".413" stop-color="#7abf7d"/><stop offset=".438" stop-color="#92bf72"/><stop offset=".462" stop-color="#a7be6a"/><stop offset=".487" stop-color="#bcbd62"/><stop offset=".512" stop-color="#cebb5a"/><stop offset=".537" stop-color="#dcba54"/><stop offset=".562" stop-color="#e3b951"/><stop offset=".588" stop-color="#dfba53"/><stop offset=".613" stop-color="#d1bb59"/><stop offset=".637" stop-color="#b9bd63"/><stop offset=".662" stop-color="#9abf6f"/><stop offset=".688" stop-color="#77bf7d"/><stop offset=".713" stop-color="#58bd8c"/><stop offset=".737" stop-color="#44bb97"/><stop offset=".762" stop-color="#3bb99c"/><stop offset=".787" stop-color="#39b99d"/><stop offset=".812" stop-color="#3cba9b"/><stop offset=".838" stop-color="#41ba98"/><stop offset=".863" stop-color="#47bb95"/><stop offset=".887" stop-color="#4abc93"/><stop offset=".912" stop-color="#4cbc92"/><stop offset=".938" stop-color="#4dbc92"/><stop offset=".962" stop-color="#4cbc92"/><stop offset=".988" stop-color="#4cbc92"/></linearGradient><linearGradient id="s5g6" x1="0" x2="1" y1="0" y2="0"><stop offset=".012" stop-color="#46bb96"/><stop offset=".037" stop-color="#46bb96"/><stop offset=".062" stop-color="#44bb96"/><stop offset=".087" stop-color="#3fba99"/><stop offset=".112" stop-color="#37b99f"/><stop offset=".138" stop-color="#2bb6a6"/><stop offset=".162" stop-color="#1fb3ae"/><stop offset=".188" stop-color="#15b0b5"/><stop offset=".212" stop-color="#0faeb9"/><stop offset=".237" stop-color="#0eaeba"/><stop offset=".262" stop-color="#14b0b5"/><stop offset=".287" stop-color="#22b4ac"/><stop offset=".312" stop-color="#39b99d"/><stop offset=".337" stop-color="#59bd8b"/><stop offset=".362" stop-color="#7cbf7b"/><stop offset=".388" stop-color="#99bf70"/><stop offset=".413" stop-color="#b0bd66"/><stop offset=".438" stop-color="#c3bc5f"/><stop offset=".462" stop-color="#d4bb58"/><stop offset=".487" stop-color="#e2b951"/><stop offset=".512" stop-color="#efb94b"/><stop offset=".537" stop-color="#f6ba46"/><stop offset=".562" stop-color="#f7ba45"/><stop offset=".588" stop-color="#f0b94a"/><stop offset=".613" stop-color="#deba53"/><stop offset=".637" stop-color="#c5bc5e"/><stop offset=".662" stop-color="#a6be6a"/><stop offset=".688" stop-color="#84bf78"/><stop offset=".713" stop-color="#65be86"/><stop offset=".737" stop-color="#4fbc91"/><stop offset=".762" stop-color="#45bb96"/><stop offset=".787" stop-color="#43bb97"/><stop offset=".812" stop-color="#47bb95"/><stop offset=".838" stop-color="#4ebc91"/><stop offset=".863" stop-color="#54bd8e"/><stop offset=".887" stop-color="#58bd8c"/><stop offset=".912" stop-color="#58bd8c"/><stop offset=".938" stop-color="#56bd8d"/><stop offset=".962" stop-color="#55bd8e"/><stop offset=".988" stop-color="#55bd8e"/></linearGradient><linearGradient id="s5g7" x1="0" x2="1" y1="0" y2="0"><stop offset=".012" stop-color="#5cbe8a"/><stop offset=".037" stop-color="#5cbe8a"/><stop offset=".062" stop-color="#60be88"/><stop offset=".087" stop-color="#68be84"/><stop offset=".112" stop-color="#6cbf82"/><stop offset=".138" stop-color="#68be84"/><stop offset=".162" stop-color="#5ebe89"/><stop offset=".188" stop-color="#51bc90"/><stop offset=".212" stop-color="#48bb94"/><stop offset=".237" stop-color="#48bb94"/><stop offset=".262" stop-color="#53bd8f"/><stop offset=".287" stop-color="#69be84"/><stop offset=".312" stop-color="#85bf78"/><stop offset=".337" stop-color="#a1be6c"/><stop offset=".362" stop-color="#babd62"/><stop offset=".388" stop-color="#d0bb5a"/><stop offset=".413" stop-color="#e1b952"/><stop offset=".438" stop-color="#efb94b"/><stop offset=".462" stop-color="#f8ba44"/><stop offset=".487" stop-color="#fdbd3e"/><stop offset=".512" stop-color="#febf3c"/><stop offset=".537" stop-color="#fdbe3e"/><stop offset=".562" stop-color="#f9bb44"/><stop offset=".588" stop-color="#ecb94d"/><stop offset=".613" stop-color="#d8ba56"/><stop offset=".637" stop-color="#c0bc60"/><stop offset=".662" stop-color="#a4be6b"/><stop offset=".688" stop-color="#87bf77"/><stop offset=".713" stop-color="#6cbf83"/><stop offset=".737" stop-color="#59bd8b"/><stop offset=".762" stop-color="#50bc90"/><stop offset=".787" stop-color="#50bc90"/><stop offset=".812" stop-color="#57bd8d"/><stop offset=".838" stop-color="#60be88"/><stop offset=".863" stop-color="#68be84"/><stop offset=".887" stop-color="#6cbf83"/><stop offset=".912" stop-color="#6bbe83"/><stop offset=".938" stop-color="#65be86"/><stop offset=".962" stop-color="#61be88"/><stop offset=".988" stop-color="#61be88"/></linearGradient><linearGradient id="s5g8" x1="0" x2="1" y1="0" y2="0"><stop offset=".012" stop-color="#81bf79"/><stop offset=".037" stop-color="#81bf79"/><stop offset=".062" stop-color="#8ebf74"/><stop offset=".087" stop-color="#a7be6a"/><stop offset=".112" stop-color="#b8bd63"/><stop offset=".138" stop-color="#bdbd61"/><stop offset=".162" stop-color="#b5bd65"/><stop offset=".188" stop-color="#a5be6b"/><stop offset=".212" stop-color="#95bf71"/><stop offset=".237" stop-color="#8dbf74"/><stop offset=".262" stop-color="#91bf73"/><stop offset=".287" stop-color="#9fbe6d"/><stop offset=".312" stop-color="#b2bd66"/><stop offset=".337" stop-color="#c6bc5d"/><stop offset=".362" stop-color="#daba55"/><stop offset=".388" stop-color="#ebb94d"/><stop offset=".413" stop-color="#f9bb44"/><stop offset=".438" stop-color="#febf3c"/><stop offset=".462" stop-color="#ffc338"/><stop offset=".487" stop-color="#ffc337"/><stop offset=".512" stop-color="#fec13a"/><stop offset=".537" stop-color="#fbbc41"/><stop offset=".562" stop-color="#efb94b"/><stop offset=".588" stop-color="#deba53"/><stop offset=".613" stop-color="#c9bc5c"/><stop offset=".637" stop-color="#b1bd66"/><stop offset=".662" stop-color="#96bf71"/><stop offset=".688" stop-color="#7bbf7c"/><stop offset=".713" stop-color="#63be87"/><stop offset=".737" stop-color="#53bd8f"/><stop offset=".762" stop-color="#4dbc92"/><stop offset=".787" stop-color="#50bc90"/><stop offset=".812" stop-color="#5abd8b"/><stop offset=".838" stop-color="#68be84"/><stop offset=".863" stop-color="#73bf7f"/><stop offset=".887" stop-color="#79bf7d"/><stop offset=".912" stop-color="#77bf7e"/><stop offset=".938" stop-color="#6fbf81"/><stop offset=".962" stop-color="#69be84"/><stop offset=".988" stop-color="#69be84"/></linearGradient><linearGradient id="s5g9" x1="0" x2="1" y1="0" y2="0"><stop offset=".012" stop-color="#9ebe6e"/><stop offset=".037" stop-color="#9ebe6e"/><stop offset=".062" stop-color="#b1bd66"/><stop offset=".087" stop-color="#d4bb58"/><stop offset=".112" stop-color="#edb94c"/><stop offset=".138" stop-color="#f5ba47"/><stop offset=".162" stop-color="#eab94d"/><stop offset=".188" stop-color="#d3bb58"/><stop offset=".212" stop-color="#b9bd63"/><stop offset=".237" stop-color="#a7be6a"/><stop offset=".262" stop-color="#a1be6d"/><stop offset=".287" stop-color="#a6be6a"/><stop offset=".312" stop-color="#b3bd65"/><stop offset=".337" stop-color="#c3bc5f"/><stop offset=".362" stop-color="#d2bb59"/><stop offset=".388" stop-color="#dfba53"/><stop offset=".413" stop-color="#eab94e"/><stop offset=".438" stop-color="#f0b94a"/><stop offset=".462" stop-color="#f2b949"/><stop offset=".487" stop-color="#f0b94a"/><stop offset=".512" stop-color="#e9b94e"/><stop offset=".537" stop-color="#deba53"/><stop offset=".562" stop-color="#cfbb5a"/><stop offset=".588" stop-color="#bcbd61"/><stop offset=".613" stop-color="#a6be6a"/><stop offset=".637" stop-color="#8cbf75"/><stop offset=".662" stop-color="#6ebf82"/><stop offset=".688" stop-color="#51bc90"/><stop offset=".713" stop-color="#3cba9b"/><stop offset=".737" stop-color="#31b8a2"/><stop offset=".762" stop-color="#2fb7a3"/><stop offset=".787" stop-color="#35b89f"/><stop offset=".812" stop-color="#43bb97"/><stop offset=".838" stop-color="#55bd8d"/><stop offset=".863" stop-color="#66be85"/><stop offset=".887" stop-color="#6fbf81"/><stop offset=".912" stop-color="#6fbf81"/><stop offset=".938" stop-color="#69be84"/><stop offset=".962" stop-color="#64be86"/><stop offset=".988" stop-color="#64be86"/></linearGradient><linearGradient id="s5g10" x1="0" x2="1" y1="0" y2="0"><stop offset=".012" stop-color="#9dbe6e"/><stop offset=".037" stop-color="#9dbe6e"/><stop offset=".062" stop-color="#b0bd66"/><stop offset=".087" stop-color="#d3bb58"/><stop offset=".112" stop-color="#ecb94d"/><stop offset=".138" stop-color="#f3b948"/><stop offset=".162" stop-color="#e7b94f"/><stop offset=".188" stop-color="#ccbb5b"/><stop offset=".212" stop-color="#aebe67"/><stop offset=".237" stop-color="#95bf71"/><stop offset=".262" stop-color="#87bf77"/><stop offset=".287" stop-color="#87bf77"/><stop offset=".312" stop-color="#8fbf74"/><stop offset=".337" stop-color="#9bbf6f"/><stop offset=".362" stop-color="#a7be6a"/><stop offset=".388" stop-color="#b1bd66"/><stop offset=".413" stop-color="#b8bd63"/><stop offset=".438" stop-color="#bbbd62"/><stop offset=".462" stop-color="#bbbd62"/><stop offset=".487" stop-color="#b6bd64"/><stop offset=".512" stop-color="#aebe67"/><stop offset=".537" stop-color="#a1be6c"/><stop offset=".562" stop-color="#91bf73"/><stop offset=".588" stop-color="#7bbf7c"/><stop offset=".613" stop-color="#60be88"/><stop offset=".637" stop-color="#43bb97"/><stop offset=".662" stop-color="#29b6a7"/><stop offset=".688" stop-color="#16b1b4"/><stop offset=".713" stop-color="#0badbc"/><stop offset=".737" stop-color="#08aac0"/><stop offset=".762" stop-color="#08abc0"/><stop offset=".787" stop-color="#0eaeba"/><stop offset=".812" stop-color="#1bb2b1"/><stop offset=".838" stop-color="#2cb7a5"/><stop offset=".863" stop-color="#3eba9a"/><stop offset=".887" stop-color="#4bbc93"/><stop offset=".912" stop-color="#51bd90"/><stop offset=".938" stop-color="#50bc90"/><stop offset=".962" stop-color="#4ebc91"/><stop offset=".988" stop-color="#4ebc91"/></linearGradient><linearGradient id="s5g11" x1="0" x2="1" y1="0" y2="0"><stop offset=".012" stop-color="#83bf79"/><stop offset=".037" stop-color="#83bf79"/><stop offset=".062" stop-color="#91bf73"/><stop offset=".087" stop-color="#aabe69"/><stop offset=".112" stop-color="#bbbd62"/><stop offset=".138" stop-color="#bebc61"/><stop offset=".162" stop-color="#b2bd66"/><stop offset=".188" stop-color="#98bf70"/><stop offset=".212" stop-color="#78bf7d"/><stop offset=".237" stop-color="#5bbd8b"/><stop offset=".262" stop-color="#4bbc93"/><stop offset=".287" stop-color="#47bb95"/><stop offset=".312" stop-color="#4cbc92"/><stop offset=".337" stop-color="#57bd8d"/><stop offset=".362" stop-color="#62be87"/><stop offset=".388" stop-color="#6cbf83"/><stop offset=".413" stop-color="#71bf80"/><stop offset=".438" stop-color="#73bf80"/><stop offset=".462" stop-color="#6fbf81"/><stop offset=".487" stop-color="#68be84"/><stop offset=".512" stop-color="#5cbe8a"/><stop offset=".537" stop-color="#4dbc92"/><stop offset=".562" stop-color="#3cba9b"/><stop offset=".588" stop-color="#2bb6a6"/><stop offset=".613" stop-color="#19b2b2"/><stop offset=".637" stop-color="#0aacbe"/><stop offset=".662" stop-color="#06a4c9"/><stop offset=".688" stop-color="#079bd0"/><stop offset=".713" stop-color="#0d92d2"/><stop offset=".737" stop-color="#108fd2"/><stop offset=".762" stop-color="#0d92d2"/><stop offset=".787" stop-color="#089bd0"/><stop offset=".812" stop-color="#06a4c9"/><stop offset=".838" stop-color="#09acbe"/><stop offset=".863" stop-color="#17b1b3"/><stop offset=".887" stop-color="#24b5aa"/><stop offset=".912" stop-color="#2eb7a4"/><stop offset=".938" stop-color="#33b8a0"/><stop offset=".962" stop-color="#35b8a0"/><stop offset=".988" stop-color="#35b8a0"/></linearGradient><linearGradient id="s5g12" x1="0" x2="1" y1="0" y2="0"><stop offset=".012" stop-color="#66be85"/><stop offset=".037" stop-color="#66be85"/><stop offset=".062" stop-color="#6dbf82"/><stop offset=".087" stop-color="#7bbf7c"/><stop offset=".112" stop-color="#82bf79"/><stop offset=".138" stop-color="#7ebf7b"/><stop offset=".162" stop-color="#6cbf82"/><stop offset=".188" stop-color="#4fbc91"/><stop offset=".212" stop-color="#32b8a1"/><stop offset=".237" stop-color="#1eb3ae"/><stop offset=".262" stop-color="#14b0b5"/><stop offset=".287" stop-color="#13b0b6"/><stop offset=".312" stop-color="#16b1b4"/><stop offset=".337" stop-color="#1eb3ae"/><stop offset=".362" stop-color="#27b5a8"/><stop offset=".388" stop-color="#2fb7a3"/><stop offset=".413" stop-color="#34b8a0"/><stop offset=".438" stop-color="#34b8a0"/><stop offset=".462" stop-color="#30b7a2"/><stop offset=".487" stop-color="#2ab6a7"/><stop offset=".512" stop-color="#21b4ac"/><stop offset=".537" stop-color="#17b1b3"/><stop offset=".562" stop-color="#0eaeba"/><stop offset=".588" stop-color="#07a9c2"/><stop offset=".613" stop-color="#06a3cb"/><stop offset=".637" stop-color="#0998d1"/><stop offset=".662" stop-color="#1389d3"/><stop offset=".688" stop-color="#137ed7"/><stop offset=".713" stop-color="#0e76dc"/><stop offset=".737" stop-color="#0c74dd"/><stop offset=".762" stop-color="#0f78db"/><stop offset=".787" stop-color="#1481d6"/><stop offset=".812" stop-color="#0f90d2"/><stop offset=".838" stop-color="#069fce"/><stop offset=".863" stop-color="#06a8c4"/><stop offset=".887" stop-color="#0daebb"/><stop offset=".912" stop-color="#17b1b3"/><stop offset=".938" stop-color="#20b4ad"/><stop offset=".962" stop-color="#23b4ab"/><stop offset=".988" stop-color="#23b4ab"/></linearGradient><linearGradient id="s5g13" x1="0" x2="1" y1="0" y2="0"><stop offset=".012" stop-color="#56bd8d"/><stop offset=".037" stop-color="#56bd8d"/><stop offset=".062" stop-color="#58bd8c"/><stop offset=".087" stop-color="#5cbe8a"/><stop offset=".112" stop-color="#59bd8b"/><stop offset=".138" stop-color="#4dbc91"/><stop offset=".162" stop-color="#39b99d"/><stop offset=".188" stop-color="#21b4ac"/><stop offset=".212" stop-color="#0eaeba"/><stop offset=".237" stop-color="#06a8c4"/><stop offset=".262" stop-color="#06a5c8"/><stop offset=".287" stop-color="#06a5c9"/><stop offset=".312" stop-color="#06a7c6"/><stop offset=".337" stop-color="#08abc0"/><stop offset=".362" stop-color="#0eaeba"/><stop offset=".388" stop-color="#15b1b4"/><stop offset=".413" stop-color="#1ab2b1"/><stop offset=".438" stop-color="#1bb2b0"/><stop offset=".462" stop-color="#18b1b2"/><stop offset=".487" stop-color="#13b0b6"/><stop offset=".512" stop-color="#0cadbb"/><stop offset=".537" stop-color="#07aac1"/><stop offset=".562" stop-color="#06a6c7"/><stop offset=".588" stop-color="#069fce"/><stop offset=".613" stop-color="#0b95d2"/><stop offset=".637" stop-color="#1487d3"/><stop offset=".662" stop-color="#117ad9"/><stop offset=".688" stop-color="#066fdf"/><stop offset=".713" stop-color="#0265e1"/><stop offset=".737" stop-color="#0363e1"/><stop offset=".762" stop-color="#0269e1"/><stop offset=".787" stop-color="#0d75dc"/><stop offset=".812" stop-color="#1483d5"/><stop offset=".838" stop-color="#0b95d2"/><stop offset=".863" stop-color="#06a2cb"/><stop offset=".887" stop-color="#07a9c2"/><stop offset=".912" stop-color="#0eaeba"/><stop offset=".938" stop-color="#17b1b3"/><stop offset=".962" stop-color="#1bb2b0"/><stop offset=".988" stop-color="#1bb2b0"/></linearGradient><linearGradient id="s5g14" x1="0" x2="1" y1="0" y2="0"><stop offset=".012" stop-color="#4fbc90"/><stop offset=".037" stop-color="#4fbc90"/><stop offset=".062" stop-color="#50bc90"/><stop offset=".087" stop-color="#4ebc91"/><stop offset=".112" stop-color="#46bb95"/><stop offset=".138" stop-color="#38b99d"/><stop offset=".162" stop-color="#26b5a9"/><stop offset=".188" stop-color="#13b0b6"/><stop offset=".212" stop-color="#08aac1"/><stop offset=".237" stop-color="#06a5c8"/><stop offset=".262" stop-color="#06a2cb"/><stop offset=".287" stop-color="#06a3cb"/><stop offset=".312" stop-color="#06a6c7"/><stop offset=".337" stop-color="#07aac1"/><stop offset=".362" stop-color="#0dadbb"/><stop offset=".388" stop-color="#14b0b5"/><stop offset=".413" stop-color="#19b2b2"/><stop offset=".438" stop-color="#19b2b1"/><stop offset=".462" stop-color="#16b1b4"/><stop offset=".487" stop-color="#11afb8"/><stop offset=".512" stop-color="#0aacbd"/><stop offset=".537" stop-color="#07a9c3"/><stop offset=".562" stop-color="#06a4c9"/><stop offset=".588" stop-color="#079dcf"/><stop offset=".613" stop-color="#0d92d2"/><stop offset=".637" stop-color="#1484d4"/><stop offset=".662" stop-color="#1078da"/><stop offset=".688" stop-color="#056de0"/><stop offset=".713" stop-color="#0364e1"/><stop offset=".737" stop-color="#0462e1"/><stop offset=".762" stop-color="#036ae1"/><stop offset=".787" stop-color="#0e76dc"/><stop offset=".812" stop-color="#1485d4"/><stop offset=".838" stop-color="#0998d1"/><stop offset=".863" stop-color="#06a4c9"/><stop offset=".887" stop-color="#09abbf"/><stop offset=".912" stop-color="#12b0b7"/><stop offset=".938" stop-color="#1bb2b0"/><stop offset=".962" stop-color="#1eb3ae"/><stop offset=".988" stop-color="#1eb3ae"/></linearGradient><linearGradient id="s5g15" x1="0" x2="1" y1="0" y2="0"><stop offset=".012" stop-color="#53bd8f"/><stop offset=".037" stop-color="#53bd8f"/><stop offset=".062" stop-color="#52bd8f"/><stop offset=".087" stop-color="#4ebc91"/><stop offset=".112" stop-color="#45bb96"/><stop offset=".138" stop-color="#37b99e"/><stop offset=".162" stop-color="#28b6a8"/><stop offset=".188" stop-color="#1ab2b1"/><stop offset=".212" stop-color="#0faeb9"/><stop offset=".237" stop-color="#09abbe"/><stop offset=".262" stop-color="#08abc0"/><stop offset=".287" stop-color="#09acbe"/><stop offset=".312" stop-color="#0faeb9"/><stop offset=".337" stop-color="#18b1b2"/><stop offset=".362" stop-color="#23b4ab"/><stop offset=".388" stop-color="#2cb7a5"/><stop offset=".413" stop-color="#31b8a2"/><stop offset=".438" stop-color="#31b8a2"/><stop offset=".462" stop-color="#2cb7a5"/><stop offset=".487" stop-color="#24b5aa"/><stop offset=".512" stop-color="#19b2b1"/><stop offset=".537" stop-color="#0faeb9"/><stop offset=".562" stop-color="#07aac1"/><stop offset=".588" stop-color="#06a4c9"/><stop offset=".613" stop-color="#079bd0"/><stop offset=".637" stop-color="#108fd2"/><stop offset=".662" stop-color="#1482d5"/><stop offset=".688" stop-color="#1079da"/><stop offset=".713" stop-color="#0a73dd"/><stop offset=".737" stop-color="#0a73dd"/><stop offset=".762" stop-color="#117ada"/><stop offset=".787" stop-color="#1486d3"/><stop offset=".812" stop-color="#089ad0"/><stop offset=".838" stop-color="#06a8c5"/><stop offset=".863" stop-color="#13b0b6"/><stop offset=".887" stop-color="#23b5ab"/><stop offset=".912" stop-color="#2eb7a4"/><stop offset=".938" stop-color="#32b8a1"/><stop offset=".962" stop-color="#33b8a1"/><stop offset=".988" stop-color="#33b8a1"/></linearGradient><linearGradient id="s5g16" x1="0" x2="1" y1="0" y2="0"><stop offset=".012" stop-color="#63be87"/><stop offset=".037" stop-color="#63be87"/><stop offset=".062" stop-color="#64be86"/><stop offset=".087" stop-color="#60be88"/><stop offset=".112" stop-color="#55bd8e"/><stop offset=".138" stop-color="#47bb95"/><stop offset=".162" stop-color="#39b99d"/><stop offset=".188" stop-color="#2fb7a3"/><stop offset=".212" stop-color="#29b6a7"/><stop offset=".237" stop-color="#27b5a8"/><stop offset=".262" stop-color="#2ab6a6"/><stop offset=".287" stop-color="#32b8a1"/><stop offset=".312" stop-color="#40ba99"/><stop offset=".337" stop-color="#51bd90"/><stop offset=".362" stop-color="#63be87"/><stop offset=".388" stop-color="#71bf80"/><stop offset=".413" stop-color="#79bf7d"/><stop offset=".438" stop-color="#79bf7d"/><stop offset=".462" stop-color="#72bf80"/><stop offset=".487" stop-color="#64be86"/><stop offset=".512" stop-color="#4fbc91"/><stop offset=".537" stop-color="#39b99d"/><stop offset=".562" stop-color="#24b5aa"/><stop offset=".588" stop-color="#12afb7"/><stop offset=".613" stop-color="#07a9c2"/><stop offset=".637" stop-color="#06a2cc"/><stop offset=".662" stop-color="#0998d1"/><stop offset=".688" stop-color="#108ed2"/><stop offset=".713" stop-color="#138ad3"/><stop offset=".737" stop-color="#118cd2"/><stop offset=".762" stop-color="#0998d1"/><stop offset=".787" stop-color="#06a5c8"/><stop offset=".812" stop-color="#16b1b4"/><stop offset=".838" stop-color="#3dba9b"/><stop offset=".863" stop-color="#63be87"/><stop offset=".887" stop-color="#78bf7d"/><stop offset=".912" stop-color="#7bbf7c"/><stop offset=".938" stop-color="#70bf81"/><stop offset=".962" stop-color="#67be85"/><stop offset=".988" stop-color="#67be85"/></linearGradient><linearGradient id="s5g17" x1="0" x2="1" y1="0" y2="0"><stop offset=".012" stop-color="#7ebf7b"/><stop offset=".037" stop-color="#7ebf7b"/><stop offset=".062" stop-color="#81bf79"/><stop offset=".087" stop-color="#7fbf7a"/><stop offset=".112" stop-color="#73bf7f"/><stop offset=".138" stop-color="#65be86"/><stop offset=".162" stop-color="#5abd8b"/><stop offset=".188" stop-color="#56bd8d"/><stop offset=".212" stop-color="#58bd8c"/><stop offset=".237" stop-color="#60be88"/><stop offset=".262" stop-color="#6dbf82"/><stop offset=".287" stop-color="#7ebf7b"/><stop offset=".312" stop-color="#92bf73"/><stop offset=".337" stop-color="#a5be6b"/><stop offset=".362" stop-color="#b7bd64"/><stop offset=".388" stop-color="#c5bc5e"/><stop offset=".413" stop-color="#cebb5a"/><stop offset=".438" stop-color="#d0bb5a"/><stop offset=".462" stop-color="#cabb5c"/><stop offset=".487" stop-color="#bcbd62"/><stop offset=".512" stop-color="#a7be6a"/><stop offset=".537" stop-color="#8cbf75"/><stop offset=".562" stop-color="#69be84"/><stop offset=".588" stop-color="#45bb96"/><stop offset=".613" stop-color="#28b6a7"/><stop offset=".637" stop-color="#14b0b6"/><stop offset=".662" stop-color="#08abc0"/><stop offset=".688" stop-color="#06a6c6"/><stop offset=".713" stop-color="#06a5c8"/><stop offset=".737" stop-color="#06a8c4"/><stop offset=".762" stop-color="#12afb7"/><stop offset=".787" stop-color="#36b99f"/><stop offset=".812" stop-color="#73bf7f"/><stop offset=".838" stop-color="#a8be6a"/><stop offset=".863" stop-color="#c8bc5d"/><stop offset=".887" stop-color="#d4bb58"/><stop offset=".912" stop-color="#cbbb5b"/><stop offset=".938" stop-color="#b4bd65"/><stop offset=".962" stop-color="#a6be6b"/><stop offset=".988" stop-color="#a6be6b"/></linearGradient><linearGradient id="s5g18" x1="0" x2="1" y1="0" y2="0"><stop offset=".012" stop-color="#97bf71"/><stop offset=".037" stop-color="#97bf71"/><stop offset=".062" stop-color="#9cbf6e"/><stop offset=".087" stop-color="#9dbe6e"/><stop offset=".112" stop-color="#96bf71"/><stop offset=".138" stop-color="#8fbf74"/><stop offset=".162" stop-color="#8dbf75"/><stop offset=".188" stop-color="#93bf72"/><stop offset=".212" stop-color="#9fbe6d"/><stop offset=".237" stop-color="#adbe68"/><stop offset=".262" stop-color="#bcbd62"/><stop offset=".287" stop-color="#cbbb5c"/><stop offset=".312" stop-color="#dbba55"/><stop offset=".337" stop-color="#ebb94d"/><stop offset=".362" stop-color="#f9bb43"/><stop offset=".388" stop-color="#fec238"/><stop offset=".413" stop-color="#fec833"/><stop offset=".438" stop-color="#fec932"/><stop offset=".462" stop-color="#ffc437"/><stop offset=".487" stop-color="#f9bb43"/><stop offset=".512" stop-color="#e4b951"/><stop offset=".537" stop-color="#c7bc5d"/><stop offset=".562" stop-color="#a7be6a"/><stop offset=".588" stop-color="#82bf79"/><stop offset=".613" stop-color="#5cbe8a"/><stop offset=".637" stop-color="#3cba9b"/><stop offset=".662" stop-color="#27b6a8"/><stop offset=".688" stop-color="#1db3af"/><stop offset=".713" stop-color="#1cb2b0"/><stop offset=".737" stop-color="#27b5a8"/><stop offset=".762" stop-color="#46bb96"/><stop offset=".787" stop-color="#7dbf7b"/><stop offset=".812" stop-color="#b5bd64"/><stop offset=".838" stop-color="#e3b951"/><stop offset=".863" stop-color="#fdbe3e"/><stop offset=".887" stop-color="#ffc338"/><stop offset=".912" stop-color="#f9bb43"/><stop offset=".938" stop-color="#dbba55"/><stop offset=".962" stop-color="#c9bc5d"/><stop offset=".988" stop-color="#c9bc5d"/></linearGradient><linearGradient id="s5g19" x1="0" x2="1" y1="0" y2="0"><stop offset=".012" stop-color="#9dbe6e"/><stop offset=".037" stop-color="#9dbe6e"/><stop offset=".062" stop-color="#a4be6b"/><stop offset=".087" stop-color="#a9be69"/><stop offset=".112" stop-color="#a8be6a"/><stop offset=".138" stop-color="#a7be6a"/><stop offset=".162" stop-color="#adbe68"/><stop offset=".188" stop-color="#babd62"/><stop offset=".212" stop-color="#cabb5c"/><stop offset=".237" stop-color="#daba55"/><stop offset=".262" stop-color="#e8b94e"/><stop offset=".287" stop-color="#f4ba47"/><stop offset=".312" stop-color="#fcbd3f"/><stop offset=".337" stop-color="#ffc437"/><stop offset=".362" stop-color="#fdca31"/><stop offset=".388" stop-color="#fbd02c"/><stop offset=".413" stop-color="#f9d429"/><stop offset=".438" stop-color="#fad329"/><stop offset=".462" stop-color="#fcce2e"/><stop offset=".487" stop-color="#ffc437"/><stop offset=".512" stop-color="#f3b948"/><stop offset=".537" stop-color="#d8ba56"/><stop offset=".562" stop-color="#b9bd63"/><stop offset=".588" stop-color="#99bf70"/><stop offset=".613" stop-color="#78bf7d"/><stop offset=".637" stop-color="#5abd8b"/><stop offset=".662" stop-color="#44bb97"/><stop offset=".688" stop-color="#39b99d"/><stop offset=".713" stop-color="#38b99d"/><stop offset=".737" stop-color="#46bb96"/><stop offset=".762" stop-color="#65be86"/><stop offset=".787" stop-color="#93bf72"/><stop offset=".812" stop-color="#c0bc60"/><stop offset=".838" stop-color="#e6b94f"/><stop offset=".863" stop-color="#fcbd3f"/><stop offset=".887" stop-color="#fec03b"/><stop offset=".912" stop-color="#f5ba46"/><stop offset=".938" stop-color="#d8ba56"/><stop offset=".962" stop-color="#c6bc5e"/><stop offset=".988" stop-color="#c6bc5e"/></linearGradient><linearGradient id="s5g20" x1="0" x2="1" y1="0" y2="0"><stop offset=".012" stop-color="#96bf71"/><stop offset=".037" stop-color="#96bf71"/><stop offset=".062" stop-color="#9dbf6e"/><stop offset=".087" stop-color="#a2be6c"/><stop offset=".112" stop-color="#a2be6c"/><stop offset=".138" stop-color="#a2be6c"/><stop offset=".162" stop-color="#a9be69"/><stop offset=".188" stop-color="#b6bd64"/><stop offset=".212" stop-color="#c5bc5e"/><stop offset=".237" stop-color="#d4bb58"/><stop offset=".262" stop-color="#e1b952"/><stop offset=".287" stop-color="#ecb94d"/><stop offset=".312" stop-color="#f4ba47"/><stop offset=".337" stop-color="#fbbd40"/><stop offset=".362" stop-color="#fec139"/><stop offset=".388" stop-color="#fec634"/><stop offset=".413" stop-color="#fec932"/><stop offset=".438" stop-color="#fec932"/><stop offset=".462" stop-color="#ffc436"/><stop offset=".487" stop-color="#fabc41"/><stop offset=".512" stop-color="#e8b94f"/><stop offset=".537" stop-color="#cfbb5a"/><stop offset=".562" stop-color="#b4bd65"/><stop offset=".588" stop-color="#97bf70"/><stop offset=".613" stop-color="#7abf7c"/><stop offset=".637" stop-color="#5fbe88"/><stop offset=".662" stop-color="#4cbc92"/><stop offset=".688" stop-color="#42bb98"/><stop offset=".713" stop-color="#41ba98"/><stop offset=".737" stop-color="#4dbc92"/><stop offset=".762" stop-color="#68be84"/><stop offset=".787" stop-color="#8ebf74"/><stop offset=".812" stop-color="#b5bd64"/><stop offset=".838" stop-color="#d6ba57"/><stop offset=".863" stop-color="#ebb94d"/><stop offset=".887" stop-color="#efb94a"/><stop offset=".912" stop-color="#e2b951"/><stop offset=".938" stop-color="#c8bc5d"/><stop offset=".962" stop-color="#b8bd63"/><stop offset=".988" stop-color="#b8bd63"/></linearGradient><linearGradient id="s5g21" x1="0" x2="1" y1="0" y2="0"><stop offset=".012" stop-color="#96bf71"/><stop offset=".037" stop-color="#96bf71"/><stop offset=".062" stop-color="#9dbf6e"/><stop offset=".087" stop-color="#a2be6c"/><stop offset=".112" stop-color="#a2be6c"/><stop offset=".138" stop-color="#a2be6c"/><stop offset=".162" stop-color="#a9be69"/><stop offset=".188" stop-color="#b6bd64"/><stop offset=".212" stop-color="#c5bc5e"/><stop offset=".237" stop-color="#d4bb58"/><stop offset=".262" stop-color="#e1b952"/><stop offset=".287" stop-color="#ecb94d"/><stop offset=".312" stop-color="#f4ba47"/><stop offset=".337" stop-color="#fbbd40"/><stop offset=".362" stop-color="#fec139"/><stop offset=".388" stop-color="#fec634"/><stop offset=".413" stop-color="#fec932"/><stop offset=".438" stop-color="#fec932"/><stop offset=".462" stop-color="#ffc436"/><stop offset=".487" stop-color="#fabc41"/><stop offset=".512" stop-color="#e8b94f"/><stop offset=".537" stop-color="#cfbb5a"/><stop offset=".562" stop-color="#b4bd65"/><stop offset=".588" stop-color="#97bf70"/><stop offset=".613" stop-color="#7abf7c"/><stop offset=".637" stop-color="#5fbe88"/><stop offset=".662" stop-color="#4cbc92"/><stop offset=".688" stop-color="#42bb98"/><stop offset=".713" stop-color="#41ba98"/><stop offset=".737" stop-color="#4dbc92"/><stop offset=".762" stop-color="#68be84"/><stop offset=".787" stop-color="#8ebf74"/><stop offset=".812" stop-color="#b5bd64"/><stop offset=".838" stop-color="#d6ba57"/><stop offset=".863" stop-color="#ebb94d"/><stop offset=".887" stop-color="#efb94a"/><stop offset=".912" stop-color="#e2b951"/><stop offset=".938" stop-color="#c8bc5d"/><stop offset=".962" stop-color="#b8bd63"/><stop offset=".988" stop-color="#b8bd63"/></linearGradient></defs>
<g filter="url(#eb)"><g clip-path="url(#cs5)"><g transform="matrix(0.95755,-0.25200,-0.95856,-0.36809,404.025,1085.150)" filter="url(#vb)"><rect x="-30.56" y="-28.56" width="611.11" height="14.88" fill="url(#s5g0)"/><rect x="-30.56" y="-14.28" width="611.11" height="14.88" fill="url(#s5g1)"/><rect x="-30.56" y="0.00" width="611.11" height="14.88" fill="url(#s5g2)"/><rect x="-30.56" y="14.28" width="611.11" height="14.88" fill="url(#s5g3)"/><rect x="-30.56" y="28.56" width="611.11" height="14.88" fill="url(#s5g4)"/><rect x="-30.56" y="42.83" width="611.11" height="14.88" fill="url(#s5g5)"/><rect x="-30.56" y="57.11" width="611.11" height="14.88" fill="url(#s5g6)"/><rect x="-30.56" y="71.39" width="611.11" height="14.88" fill="url(#s5g7)"/><rect x="-30.56" y="85.67" width="611.11" height="14.88" fill="url(#s5g8)"/><rect x="-30.56" y="99.94" width="611.11" height="14.88" fill="url(#s5g9)"/><rect x="-30.56" y="114.22" width="611.11" height="14.88" fill="url(#s5g10)"/><rect x="-30.56" y="128.50" width="611.11" height="14.88" fill="url(#s5g11)"/><rect x="-30.56" y="142.78" width="611.11" height="14.88" fill="url(#s5g12)"/><rect x="-30.56" y="157.06" width="611.11" height="14.88" fill="url(#s5g13)"/><rect x="-30.56" y="171.33" width="611.11" height="14.88" fill="url(#s5g14)"/><rect x="-30.56" y="185.61" width="611.11" height="14.88" fill="url(#s5g15)"/><rect x="-30.56" y="199.89" width="611.11" height="14.88" fill="url(#s5g16)"/><rect x="-30.56" y="214.17" width="611.11" height="14.88" fill="url(#s5g17)"/><rect x="-30.56" y="228.44" width="611.11" height="14.88" fill="url(#s5g18)"/><rect x="-30.56" y="242.72" width="611.11" height="14.88" fill="url(#s5g19)"/><rect x="-30.56" y="257.00" width="611.11" height="14.88" fill="url(#s5g20)"/><rect x="-30.56" y="271.28" width="611.11" height="14.88" fill="url(#s5g21)"/></g></g></g>
<!-- axes -->
<g stroke="#8c8c8c" stroke-width="2.6" stroke-linecap="round">
<line x1="136" y1="147.5" x2="154" y2="154"/>
<line x1="136" y1="314.5" x2="154" y2="321.2"/>
<line x1="136" y1="482" x2="154" y2="488.5"/>
<line x1="136" y1="649" x2="154" y2="655.6"/>
<line x1="136" y1="816" x2="154" y2="822.8"/>
<line x1="136" y1="983.5" x2="154" y2="990"/>
<line x1="404.5" y1="1084.5" x2="385" y2="1090"/>
<line x1="300" y1="1044.5" x2="282.5" y2="1051"/>
<line x1="198" y1="1006" x2="181" y2="1012"/>
<line x1="404.5" y1="1084.5" x2="422.5" y2="1091.5"/>
<line x1="527.5" y1="1052" x2="543.5" y2="1059.5"/>
<line x1="649.5" y1="1020.5" x2="665.5" y2="1027.5"/>
<line x1="771" y1="989" x2="787" y2="996"/>
<line x1="893" y1="957" x2="909" y2="964"/>
</g>
<g stroke="#231f20" stroke-width="4" fill="none" stroke-linecap="butt" stroke-linejoin="miter">
<line x1="154.7" y1="152" x2="154.7" y2="990"/>
<polyline points="154.7,989.5 404.6,1085 931,945.8"/>
</g>
<!-- colorbar -->
<rect x="1024.5" y="353.5" width="45" height="395.5" fill="url(#cb)" stroke="#6b6b4a" stroke-width="1.6"/>
<g stroke="#333" stroke-width="1.2">
<line x1="1065" y1="410" x2="1069.5" y2="410"/>
<line x1="1065" y1="499" x2="1069.5" y2="499"/>
<line x1="1065" y1="585" x2="1069.5" y2="585"/>
<line x1="1065" y1="674" x2="1069.5" y2="674"/>
</g>
<!-- labels -->
<g class="t" font-size="45" text-anchor="end" letter-spacing="3.3">
<text x="130.5" y="165.2">0</text>
<text x="132" y="333.2">20</text>
<text x="131" y="498.5">30</text>
<text x="131.5" y="662.3">40</text>
<text x="131.5" y="830.6">50</text>
<text x="130.5" y="987.8">60</text>
</g>
<g class="t" font-size="45" letter-spacing="3">
<text x="106.5" y="1055.5">400</text>
<text x="205.5" y="1097">200</text>
<text x="347" y="1134.3">0</text>
<text x="442" y="1137">0</text>
<text x="552.5" y="1107.5">200</text>
<text x="671" y="1073">400</text>
<text x="792" y="1041">600</text>
<text x="911.5" y="1007.5">800</text>
</g>
<g class="t" font-size="45">
<text x="106.3" y="1151" letter-spacing="1.6">Y (km)</text>
<text x="720.5" y="1134.5" letter-spacing="1.9">X (km)</text>
<text x="989" y="338.7" letter-spacing="2">g/cm</text>
<text x="1094" y="315" font-size="23" transform="translate(1094,315) scale(1.25,1) translate(-1094,-315)">3</text>
</g>
<g class="t" font-size="31">
<text x="1078.5" y="425.7" letter-spacing="0.6">0.</text>
<text x="1078.5" y="511.7">0</text>
<text x="1073" y="600.8" letter-spacing="0.6">−0.</text>
<text x="1074" y="687.7" letter-spacing="0.6">−0.2</text>
</g>
<g fill="#231f20"><path transform="translate(73.4,165.2) scale(0.0455,-0.0455)" d="M372,0L284,0L284,560C250,528 200,492 150,466C135,458 120,450 109,446L109,529C160,553 210,590 245,625C275,657 292,688 303,716L372,716Z"/><path transform="translate(1107.2,425.7) scale(0.031,-0.031)" d="M372,0L284,0L284,560C250,528 200,492 150,466C135,458 120,450 109,446L109,529C160,553 210,590 245,625C275,657 292,688 303,716L372,716Z"/><path transform="translate(1120.1,600.8) scale(0.031,-0.031)" d="M372,0L284,0L284,560C250,528 200,492 150,466C135,458 120,450 109,446L109,529C160,553 210,590 245,625C275,657 292,688 303,716L372,716Z"/></g>
<text class="s" font-size="46" transform="translate(48.5,578.7) rotate(-90) scale(1.037,1)" text-anchor="middle">Depth (km)</text>
</svg>
</body></html>
